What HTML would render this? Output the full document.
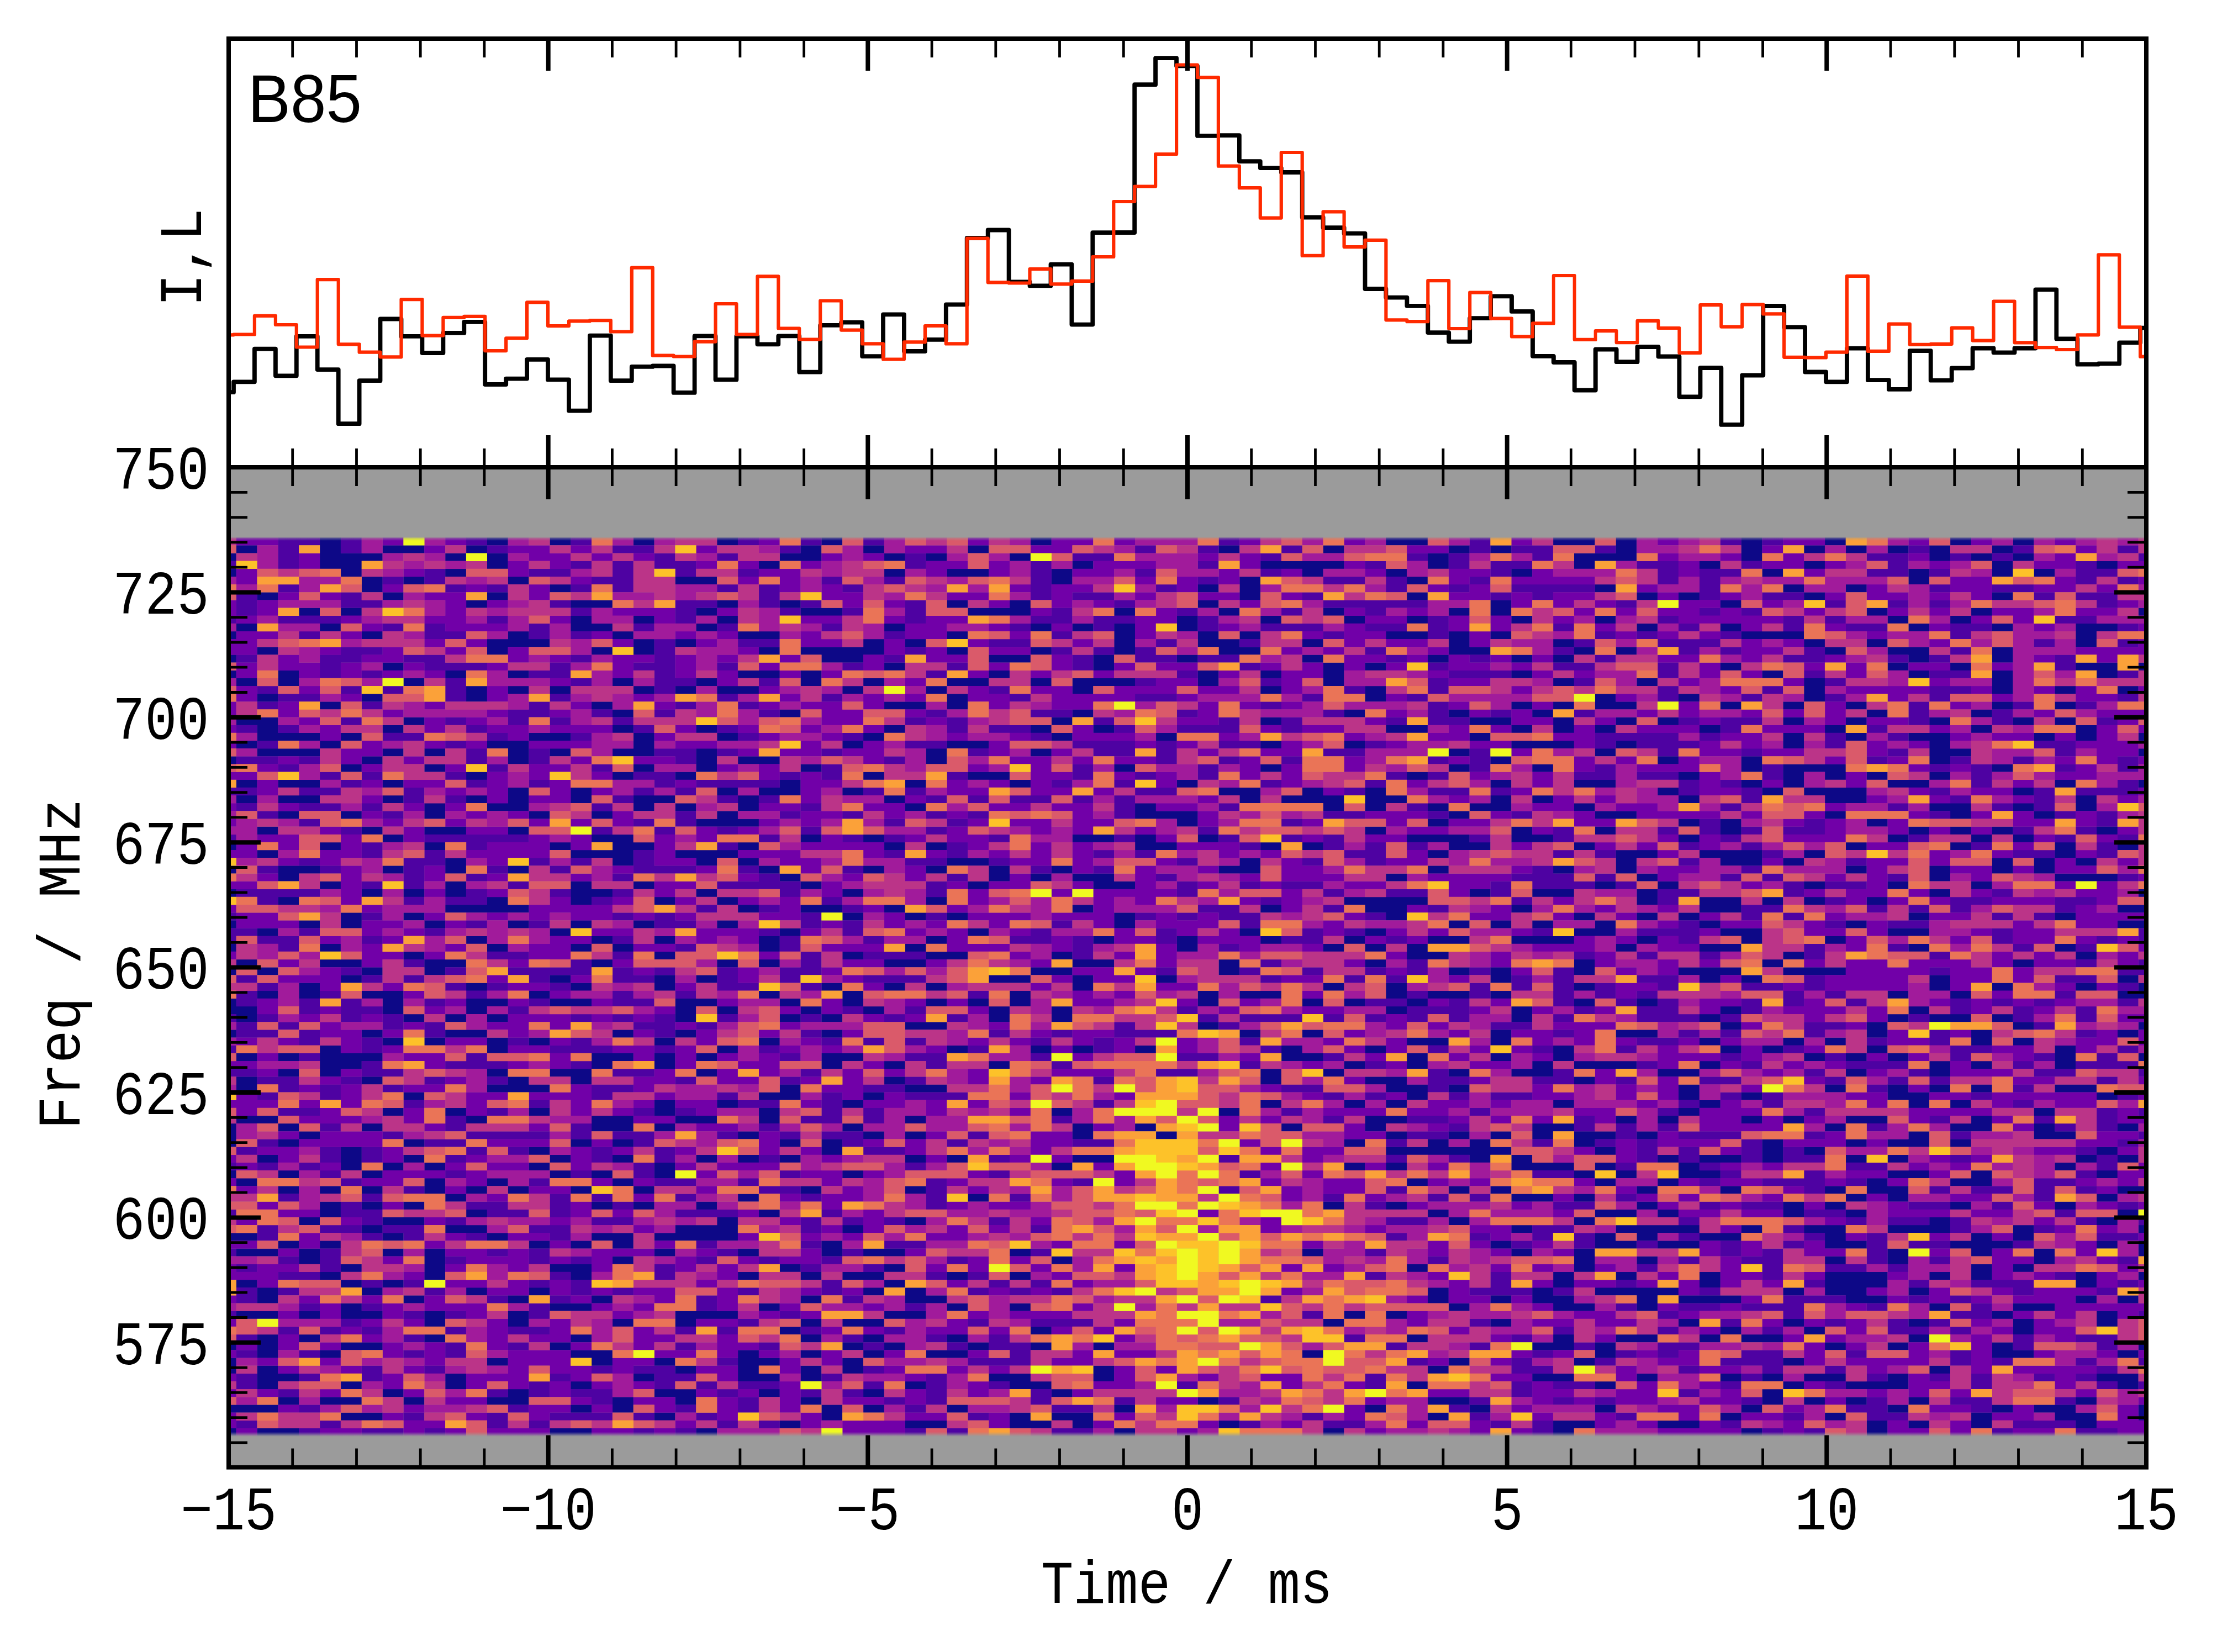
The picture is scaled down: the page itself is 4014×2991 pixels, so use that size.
<!DOCTYPE html><html><head><meta charset="utf-8"><style>html,body{margin:0;padding:0;background:#fff;overflow:hidden}svg{display:block}</style></head><body><svg width="4014" height="2991" viewBox="0 0 4014 2991"><rect width="4014" height="2991" fill="#fff"/><defs><clipPath id="cb"><rect x="414" y="846" width="3472" height="1810.6"/></clipPath><clipPath id="ct"><rect x="414" y="70" width="3472" height="776"/></clipPath></defs><g clip-path="url(#cb)"><rect x="414" y="846" width="3472" height="1811" fill="#9b9b9b"/><path fill="none" stroke="#0d0887" stroke-width="14.45" d="M579.0 980.38h38.1M881.8 980.38h38.1M995.3 980.38h38.1M1146.7 980.38h38.1M1298.1 980.38h38.1M1487.3 980.38h38.1M1865.8 980.38h38.1M2509.1 980.38h38.1M2547.0 980.38h38.1M2811.9 980.38h38.1M2849.8 980.38h38.1M2925.4 980.38h38.1M3152.5 980.38h38.1M3303.9 980.38h38.1M3531.0 980.38h38.1M3644.5 980.38h38.1M427.6 994.53h38.1M579.0 994.53h38.1M692.5 994.53h38.1M730.4 994.53h38.1M843.9 994.53h38.1M1449.4 994.53h38.1M1563.0 994.53h38.1M1752.2 994.53h38.1M2206.4 994.53h38.1M2395.6 994.53h38.1M2622.7 994.53h38.1M2698.4 994.53h38.1M2925.4 994.53h38.1M3152.5 994.53h38.1M3266.1 994.53h38.1M3341.7 994.53h38.1M3417.4 994.53h38.1M3493.1 994.53h38.1M3606.7 994.53h38.1M389.8 1008.67h38.1M579.0 1008.67h38.1M616.8 1008.67h38.1M654.7 1008.67h38.1M806.1 1008.67h38.1M881.8 1008.67h38.1M1411.6 1008.67h38.1M1449.4 1008.67h38.1M1600.8 1008.67h38.1M1676.5 1008.67h38.1M1827.9 1008.67h38.1M2584.8 1008.67h38.1M2849.8 1008.67h38.1M2887.6 1008.67h38.1M2925.4 1008.67h38.1M3152.5 1008.67h38.1M3493.1 1008.67h38.1M3568.8 1008.67h38.1M3644.5 1008.67h38.1M579.0 1022.82h38.1M616.8 1022.82h38.1M881.8 1022.82h38.1M1373.8 1022.82h38.1M1941.4 1022.82h38.1M2282.1 1022.82h38.1M2319.9 1022.82h38.1M2357.8 1022.82h38.1M2395.6 1022.82h38.1M2584.8 1022.82h38.1M2849.8 1022.82h38.1M3076.8 1022.82h38.1M3266.1 1022.82h38.1M3606.7 1022.82h38.1M3795.9 1022.82h38.1M389.8 1036.96h38.1M616.8 1036.96h38.1M806.1 1036.96h38.1M1600.8 1036.96h38.1M1714.4 1036.96h38.1M1752.2 1036.96h38.1M1903.6 1036.96h38.1M2357.8 1036.96h38.1M2509.1 1036.96h38.1M2736.2 1036.96h38.1M3190.4 1036.96h38.1M3455.3 1036.96h38.1M3606.7 1036.96h38.1M3682.4 1036.96h38.1M654.7 1051.11h38.1M730.4 1051.11h38.1M919.6 1051.11h38.1M1222.4 1051.11h38.1M1260.2 1051.11h38.1M1903.6 1051.11h38.1M2244.2 1051.11h38.1M2547.0 1051.11h38.1M3455.3 1051.11h38.1M654.7 1065.25h38.1M995.3 1065.25h38.1M2168.5 1065.25h38.1M2244.2 1065.25h38.1M2887.6 1065.25h38.1M3228.2 1065.25h38.1M3341.7 1065.25h38.1M465.5 1079.40h38.1M692.5 1079.40h38.1M881.8 1079.40h38.1M2244.2 1079.40h38.1M2547.0 1079.40h38.1M2963.3 1079.40h38.1M3039.0 1079.40h38.1M3266.1 1079.40h38.1M3606.7 1079.40h38.1M843.9 1093.54h38.1M1033.1 1093.54h38.1M1071.0 1093.54h38.1M1298.1 1093.54h38.1M1411.6 1093.54h38.1M1714.4 1093.54h38.1M1827.9 1093.54h38.1M2168.5 1093.54h38.1M2698.4 1093.54h38.1M3114.7 1093.54h38.1M541.1 1107.69h38.1M616.8 1107.69h38.1M1260.2 1107.69h38.1M1449.4 1107.69h38.1M1487.3 1107.69h38.1M1752.2 1107.69h38.1M1790.1 1107.69h38.1M1827.9 1107.69h38.1M2017.1 1107.69h38.1M2206.4 1107.69h38.1M2395.6 1107.69h38.1M2622.7 1107.69h38.1M2698.4 1107.69h38.1M3379.6 1107.69h38.1M3568.8 1107.69h38.1M3871.6 1107.69h38.1M1033.1 1121.83h38.1M1146.7 1121.83h38.1M1298.1 1121.83h38.1M2130.7 1121.83h38.1M2282.1 1121.83h38.1M2433.4 1121.83h38.1M2547.0 1121.83h38.1M2736.2 1121.83h38.1M2887.6 1121.83h38.1M3417.4 1121.83h38.1M3531.0 1121.83h38.1M427.6 1135.98h38.1M579.0 1135.98h38.1M1033.1 1135.98h38.1M1071.0 1135.98h38.1M1260.2 1135.98h38.1M1600.8 1135.98h38.1M1865.8 1135.98h38.1M1941.4 1135.98h38.1M2017.1 1135.98h38.1M2130.7 1135.98h38.1M2963.3 1135.98h38.1M3114.7 1135.98h38.1M3455.3 1135.98h38.1M3606.7 1135.98h38.1M3758.1 1135.98h38.1M3795.9 1135.98h38.1M389.8 1150.12h38.1M654.7 1150.12h38.1M919.6 1150.12h38.1M1108.8 1150.12h38.1M1335.9 1150.12h38.1M1373.8 1150.12h38.1M1714.4 1150.12h38.1M2017.1 1150.12h38.1M2168.5 1150.12h38.1M2244.2 1150.12h38.1M2509.1 1150.12h38.1M2547.0 1150.12h38.1M2622.7 1150.12h38.1M2698.4 1150.12h38.1M3152.5 1150.12h38.1M3190.4 1150.12h38.1M3228.2 1150.12h38.1M3758.1 1150.12h38.1M881.8 1164.27h38.1M919.6 1164.27h38.1M957.5 1164.27h38.1M1146.7 1164.27h38.1M1222.4 1164.27h38.1M1563.0 1164.27h38.1M1638.7 1164.27h38.1M2017.1 1164.27h38.1M2168.5 1164.27h38.1M2206.4 1164.27h38.1M2357.8 1164.27h38.1M2622.7 1164.27h38.1M2811.9 1164.27h38.1M3266.1 1164.27h38.1M3379.6 1164.27h38.1M3758.1 1164.27h38.1M465.5 1178.41h38.1M881.8 1178.41h38.1M1071.0 1178.41h38.1M1146.7 1178.41h38.1M1373.8 1178.41h38.1M1449.4 1178.41h38.1M1487.3 1178.41h38.1M1525.1 1178.41h38.1M1563.0 1178.41h38.1M1714.4 1178.41h38.1M1865.8 1178.41h38.1M2017.1 1178.41h38.1M2206.4 1178.41h38.1M2244.2 1178.41h38.1M2622.7 1178.41h38.1M2660.5 1178.41h38.1M2849.8 1178.41h38.1M2925.4 1178.41h38.1M3303.9 1178.41h38.1M3417.4 1178.41h38.1M3455.3 1178.41h38.1M3606.7 1178.41h38.1M389.8 1192.56h38.1M1487.3 1192.56h38.1M1525.1 1192.56h38.1M1790.1 1192.56h38.1M1827.9 1192.56h38.1M1979.3 1192.56h38.1M2130.7 1192.56h38.1M2357.8 1192.56h38.1M2584.8 1192.56h38.1M2736.2 1192.56h38.1M2811.9 1192.56h38.1M3455.3 1192.56h38.1M3606.7 1192.56h38.1M692.5 1206.71h38.1M1600.8 1206.71h38.1M1979.3 1206.71h38.1M2395.6 1206.71h38.1M2471.3 1206.71h38.1M3114.7 1206.71h38.1M3417.4 1206.71h38.1M3531.0 1206.71h38.1M3758.1 1206.71h38.1M3795.9 1206.71h38.1M3871.6 1206.71h38.1M389.8 1220.85h38.1M503.3 1220.85h38.1M806.1 1220.85h38.1M919.6 1220.85h38.1M1335.9 1220.85h38.1M1373.8 1220.85h38.1M1449.4 1220.85h38.1M1790.1 1220.85h38.1M2168.5 1220.85h38.1M2282.1 1220.85h38.1M2395.6 1220.85h38.1M2736.2 1220.85h38.1M3190.4 1220.85h38.1M3455.3 1220.85h38.1M3606.7 1220.85h38.1M3795.9 1220.85h38.1M427.6 1235.00h38.1M503.3 1235.00h38.1M730.4 1235.00h38.1M1108.8 1235.00h38.1M1260.2 1235.00h38.1M1449.4 1235.00h38.1M1563.0 1235.00h38.1M1714.4 1235.00h38.1M1752.2 1235.00h38.1M1865.8 1235.00h38.1M1941.4 1235.00h38.1M1979.3 1235.00h38.1M2017.1 1235.00h38.1M2168.5 1235.00h38.1M2395.6 1235.00h38.1M2811.9 1235.00h38.1M2963.3 1235.00h38.1M3266.1 1235.00h38.1M3606.7 1235.00h38.1M843.9 1249.14h38.1M919.6 1249.14h38.1M995.3 1249.14h38.1M1146.7 1249.14h38.1M1222.4 1249.14h38.1M1298.1 1249.14h38.1M1335.9 1249.14h38.1M1525.1 1249.14h38.1M1676.5 1249.14h38.1M1941.4 1249.14h38.1M2282.1 1249.14h38.1M2471.3 1249.14h38.1M3266.1 1249.14h38.1M3606.7 1249.14h38.1M3720.2 1249.14h38.1M3833.7 1249.14h38.1M465.5 1263.29h38.1M654.7 1263.29h38.1M843.9 1263.29h38.1M1714.4 1263.29h38.1M2471.3 1263.29h38.1M2887.6 1263.29h38.1M3039.0 1263.29h38.1M3266.1 1263.29h38.1M579.0 1277.43h38.1M1071.0 1277.43h38.1M1600.8 1277.43h38.1M1638.7 1277.43h38.1M1714.4 1277.43h38.1M2736.2 1277.43h38.1M2811.9 1277.43h38.1M2887.6 1277.43h38.1M2925.4 1277.43h38.1M3114.7 1277.43h38.1M3228.2 1277.43h38.1M3341.7 1277.43h38.1M3606.7 1277.43h38.1M3720.2 1277.43h38.1M1108.8 1291.58h38.1M1411.6 1291.58h38.1M1941.4 1291.58h38.1M2433.4 1291.58h38.1M2622.7 1291.58h38.1M2774.1 1291.58h38.1M3379.6 1291.58h38.1M3568.8 1291.58h38.1M427.6 1305.72h38.1M465.5 1305.72h38.1M730.4 1305.72h38.1M1903.6 1305.72h38.1M2282.1 1305.72h38.1M2660.5 1305.72h38.1M2698.4 1305.72h38.1M2811.9 1305.72h38.1M2925.4 1305.72h38.1M3001.1 1305.72h38.1M3228.2 1305.72h38.1M3341.7 1305.72h38.1M3493.1 1305.72h38.1M3644.5 1305.72h38.1M3720.2 1305.72h38.1M465.5 1319.87h38.1M692.5 1319.87h38.1M1108.8 1319.87h38.1M1260.2 1319.87h38.1M1600.8 1319.87h38.1M1865.8 1319.87h38.1M1979.3 1319.87h38.1M2509.1 1319.87h38.1M2547.0 1319.87h38.1M2736.2 1319.87h38.1M2811.9 1319.87h38.1M2887.6 1319.87h38.1M3076.8 1319.87h38.1M3303.9 1319.87h38.1M3568.8 1319.87h38.1M3758.1 1319.87h38.1M465.5 1334.01h38.1M503.3 1334.01h38.1M541.1 1334.01h38.1M616.8 1334.01h38.1M957.5 1334.01h38.1M995.3 1334.01h38.1M1146.7 1334.01h38.1M1298.1 1334.01h38.1M1563.0 1334.01h38.1M1903.6 1334.01h38.1M2092.8 1334.01h38.1M2660.5 1334.01h38.1M3228.2 1334.01h38.1M3341.7 1334.01h38.1M3455.3 1334.01h38.1M3493.1 1334.01h38.1M3682.4 1334.01h38.1M3758.1 1334.01h38.1M3871.6 1334.01h38.1M427.6 1348.16h38.1M579.0 1348.16h38.1M881.8 1348.16h38.1M919.6 1348.16h38.1M1146.7 1348.16h38.1M1525.1 1348.16h38.1M1714.4 1348.16h38.1M1752.2 1348.16h38.1M2282.1 1348.16h38.1M2433.4 1348.16h38.1M2736.2 1348.16h38.1M2774.1 1348.16h38.1M2811.9 1348.16h38.1M2925.4 1348.16h38.1M3228.2 1348.16h38.1M3493.1 1348.16h38.1M465.5 1362.30h38.1M503.3 1362.30h38.1M541.1 1362.30h38.1M692.5 1362.30h38.1M768.2 1362.30h38.1M919.6 1362.30h38.1M995.3 1362.30h38.1M1108.8 1362.30h38.1M1146.7 1362.30h38.1M1260.2 1362.30h38.1M1676.5 1362.30h38.1M1865.8 1362.30h38.1M2622.7 1362.30h38.1M2887.6 1362.30h38.1M3493.1 1362.30h38.1M3531.0 1362.30h38.1M3871.6 1362.30h38.1M389.8 1376.45h38.1M654.7 1376.45h38.1M919.6 1376.45h38.1M1260.2 1376.45h38.1M1335.9 1376.45h38.1M1373.8 1376.45h38.1M1676.5 1376.45h38.1M2698.4 1376.45h38.1M3001.1 1376.45h38.1M3152.5 1376.45h38.1M3493.1 1376.45h38.1M616.8 1390.59h38.1M768.2 1390.59h38.1M1146.7 1390.59h38.1M1260.2 1390.59h38.1M1449.4 1390.59h38.1M2017.1 1390.59h38.1M2282.1 1390.59h38.1M2622.7 1390.59h38.1M2774.1 1390.59h38.1M3152.5 1390.59h38.1M3228.2 1390.59h38.1M3266.1 1390.59h38.1M3303.9 1390.59h38.1M3606.7 1390.59h38.1M843.9 1404.74h38.1M1108.8 1404.74h38.1M1222.4 1404.74h38.1M1563.0 1404.74h38.1M1752.2 1404.74h38.1M1790.1 1404.74h38.1M2547.0 1404.74h38.1M3039.0 1404.74h38.1M3228.2 1404.74h38.1M3303.9 1404.74h38.1M3379.6 1404.74h38.1M3493.1 1404.74h38.1M427.6 1418.89h38.1M503.3 1418.89h38.1M541.1 1418.89h38.1M692.5 1418.89h38.1M1411.6 1418.89h38.1M1638.7 1418.89h38.1M1827.9 1418.89h38.1M2130.7 1418.89h38.1M2698.4 1418.89h38.1M2849.8 1418.89h38.1M2887.6 1418.89h38.1M3152.5 1418.89h38.1M3228.2 1418.89h38.1M3417.4 1418.89h38.1M3455.3 1418.89h38.1M3720.2 1418.89h38.1M3871.6 1418.89h38.1M919.6 1433.03h38.1M1033.1 1433.03h38.1M1298.1 1433.03h38.1M1373.8 1433.03h38.1M1411.6 1433.03h38.1M1525.1 1433.03h38.1M2206.4 1433.03h38.1M2244.2 1433.03h38.1M2357.8 1433.03h38.1M2471.3 1433.03h38.1M3001.1 1433.03h38.1M3190.4 1433.03h38.1M3266.1 1433.03h38.1M3303.9 1433.03h38.1M3341.7 1433.03h38.1M3644.5 1433.03h38.1M427.6 1447.18h38.1M503.3 1447.18h38.1M541.1 1447.18h38.1M692.5 1447.18h38.1M843.9 1447.18h38.1M919.6 1447.18h38.1M1033.1 1447.18h38.1M1146.7 1447.18h38.1M1184.5 1447.18h38.1M1335.9 1447.18h38.1M1600.8 1447.18h38.1M2244.2 1447.18h38.1M2319.9 1447.18h38.1M2357.8 1447.18h38.1M2395.6 1447.18h38.1M2471.3 1447.18h38.1M2509.1 1447.18h38.1M2698.4 1447.18h38.1M2774.1 1447.18h38.1M3039.0 1447.18h38.1M3303.9 1447.18h38.1M3341.7 1447.18h38.1M3758.1 1447.18h38.1M768.2 1461.32h38.1M881.8 1461.32h38.1M919.6 1461.32h38.1M1146.7 1461.32h38.1M1222.4 1461.32h38.1M1335.9 1461.32h38.1M1638.7 1461.32h38.1M2055.0 1461.32h38.1M2395.6 1461.32h38.1M2471.3 1461.32h38.1M2584.8 1461.32h38.1M2660.5 1461.32h38.1M2698.4 1461.32h38.1M2849.8 1461.32h38.1M3493.1 1461.32h38.1M3531.0 1461.32h38.1M3644.5 1461.32h38.1M3758.1 1461.32h38.1M503.3 1475.47h38.1M616.8 1475.47h38.1M768.2 1475.47h38.1M957.5 1475.47h38.1M1071.0 1475.47h38.1M1298.1 1475.47h38.1M2055.0 1475.47h38.1M2092.8 1475.47h38.1M2130.7 1475.47h38.1M2622.7 1475.47h38.1M2887.6 1475.47h38.1M2925.4 1475.47h38.1M3303.9 1475.47h38.1M3531.0 1475.47h38.1M3682.4 1475.47h38.1M1260.2 1489.61h38.1M1298.1 1489.61h38.1M1335.9 1489.61h38.1M2130.7 1489.61h38.1M2584.8 1489.61h38.1M3039.0 1489.61h38.1M3114.7 1489.61h38.1M3379.6 1489.61h38.1M465.5 1503.76h38.1M654.7 1503.76h38.1M768.2 1503.76h38.1M806.1 1503.76h38.1M919.6 1503.76h38.1M2471.3 1503.76h38.1M2736.2 1503.76h38.1M2887.6 1503.76h38.1M3114.7 1503.76h38.1M3455.3 1503.76h38.1M3531.0 1503.76h38.1M3606.7 1503.76h38.1M3795.9 1503.76h38.1M692.5 1517.90h38.1M1071.0 1517.90h38.1M1108.8 1517.90h38.1M1449.4 1517.90h38.1M1563.0 1517.90h38.1M1941.4 1517.90h38.1M1979.3 1517.90h38.1M2055.0 1517.90h38.1M2168.5 1517.90h38.1M2547.0 1517.90h38.1M2584.8 1517.90h38.1M2622.7 1517.90h38.1M2736.2 1517.90h38.1M2774.1 1517.90h38.1M3039.0 1517.90h38.1M3417.4 1517.90h38.1M3568.8 1517.90h38.1M3644.5 1517.90h38.1M389.8 1532.05h38.1M579.0 1532.05h38.1M768.2 1532.05h38.1M995.3 1532.05h38.1M1108.8 1532.05h38.1M1146.7 1532.05h38.1M1335.9 1532.05h38.1M1600.8 1532.05h38.1M1676.5 1532.05h38.1M2055.0 1532.05h38.1M2092.8 1532.05h38.1M2282.1 1532.05h38.1M2357.8 1532.05h38.1M2622.7 1532.05h38.1M2660.5 1532.05h38.1M2849.8 1532.05h38.1M3341.7 1532.05h38.1M3531.0 1532.05h38.1M3720.2 1532.05h38.1M3833.7 1532.05h38.1M465.5 1546.19h38.1M1033.1 1546.19h38.1M1071.0 1546.19h38.1M1108.8 1546.19h38.1M1222.4 1546.19h38.1M1260.2 1546.19h38.1M1298.1 1546.19h38.1M2584.8 1546.19h38.1M2925.4 1546.19h38.1M2963.3 1546.19h38.1M3076.8 1546.19h38.1M3114.7 1546.19h38.1M3152.5 1546.19h38.1M3266.1 1546.19h38.1M3720.2 1546.19h38.1M806.1 1560.34h38.1M1108.8 1560.34h38.1M1260.2 1560.34h38.1M1335.9 1560.34h38.1M1714.4 1560.34h38.1M1752.2 1560.34h38.1M2244.2 1560.34h38.1M2925.4 1560.34h38.1M3114.7 1560.34h38.1M3152.5 1560.34h38.1M3228.2 1560.34h38.1M3606.7 1560.34h38.1M3682.4 1560.34h38.1M3758.1 1560.34h38.1M389.8 1574.48h38.1M503.3 1574.48h38.1M541.1 1574.48h38.1M692.5 1574.48h38.1M806.1 1574.48h38.1M919.6 1574.48h38.1M1373.8 1574.48h38.1M1563.0 1574.48h38.1M1676.5 1574.48h38.1M1790.1 1574.48h38.1M1903.6 1574.48h38.1M2206.4 1574.48h38.1M2244.2 1574.48h38.1M2584.8 1574.48h38.1M2811.9 1574.48h38.1M2925.4 1574.48h38.1M3341.7 1574.48h38.1M3493.1 1574.48h38.1M3606.7 1574.48h38.1M3682.4 1574.48h38.1M503.3 1588.63h38.1M1411.6 1588.63h38.1M1790.1 1588.63h38.1M1865.8 1588.63h38.1M1941.4 1588.63h38.1M1979.3 1588.63h38.1M2509.1 1588.63h38.1M2963.3 1588.63h38.1M3493.1 1588.63h38.1M3720.2 1588.63h38.1M3758.1 1588.63h38.1M3795.9 1588.63h38.1M579.0 1602.77h38.1M806.1 1602.77h38.1M1033.1 1602.77h38.1M1146.7 1602.77h38.1M1449.4 1602.77h38.1M1752.2 1602.77h38.1M1979.3 1602.77h38.1M2017.1 1602.77h38.1M2887.6 1602.77h38.1M3001.1 1602.77h38.1M3266.1 1602.77h38.1M3417.4 1602.77h38.1M3568.8 1602.77h38.1M389.8 1616.92h38.1M654.7 1616.92h38.1M730.4 1616.92h38.1M806.1 1616.92h38.1M1033.1 1616.92h38.1M1071.0 1616.92h38.1M1260.2 1616.92h38.1M1525.1 1616.92h38.1M2660.5 1616.92h38.1M2774.1 1616.92h38.1M2811.9 1616.92h38.1M2963.3 1616.92h38.1M3493.1 1616.92h38.1M3871.6 1616.92h38.1M503.3 1631.06h38.1M881.8 1631.06h38.1M1033.1 1631.06h38.1M1184.5 1631.06h38.1M1298.1 1631.06h38.1M1676.5 1631.06h38.1M2433.4 1631.06h38.1M2471.3 1631.06h38.1M2509.1 1631.06h38.1M2547.0 1631.06h38.1M2963.3 1631.06h38.1M3076.8 1631.06h38.1M3114.7 1631.06h38.1M3190.4 1631.06h38.1M3266.1 1631.06h38.1M3379.6 1631.06h38.1M806.1 1645.21h38.1M843.9 1645.21h38.1M881.8 1645.21h38.1M919.6 1645.21h38.1M1335.9 1645.21h38.1M1449.4 1645.21h38.1M1487.3 1645.21h38.1M1600.8 1645.21h38.1M1941.4 1645.21h38.1M2282.1 1645.21h38.1M2471.3 1645.21h38.1M2509.1 1645.21h38.1M2736.2 1645.21h38.1M3076.8 1645.21h38.1M3114.7 1645.21h38.1M3833.7 1645.21h38.1M3871.6 1645.21h38.1M616.8 1659.36h38.1M730.4 1659.36h38.1M1525.1 1659.36h38.1M1638.7 1659.36h38.1M1714.4 1659.36h38.1M2017.1 1659.36h38.1M2509.1 1659.36h38.1M2849.8 1659.36h38.1M2963.3 1659.36h38.1M3039.0 1659.36h38.1M3455.3 1659.36h38.1M3720.2 1659.36h38.1M389.8 1673.50h38.1M541.1 1673.50h38.1M616.8 1673.50h38.1M768.2 1673.50h38.1M919.6 1673.50h38.1M1033.1 1673.50h38.1M1146.7 1673.50h38.1M1298.1 1673.50h38.1M2017.1 1673.50h38.1M2622.7 1673.50h38.1M2698.4 1673.50h38.1M2774.1 1673.50h38.1M2887.6 1673.50h38.1M3076.8 1673.50h38.1M3341.7 1673.50h38.1M3833.7 1673.50h38.1M3871.6 1673.50h38.1M465.5 1687.65h38.1M995.3 1687.65h38.1M1411.6 1687.65h38.1M1752.2 1687.65h38.1M2244.2 1687.65h38.1M2471.3 1687.65h38.1M2849.8 1687.65h38.1M2887.6 1687.65h38.1M3114.7 1687.65h38.1M3152.5 1687.65h38.1M3417.4 1687.65h38.1M3455.3 1687.65h38.1M843.9 1701.79h38.1M1071.0 1701.79h38.1M1184.5 1701.79h38.1M1373.8 1701.79h38.1M1676.5 1701.79h38.1M1979.3 1701.79h38.1M2130.7 1701.79h38.1M2282.1 1701.79h38.1M2433.4 1701.79h38.1M2584.8 1701.79h38.1M2622.7 1701.79h38.1M2736.2 1701.79h38.1M2774.1 1701.79h38.1M2811.9 1701.79h38.1M2963.3 1701.79h38.1M3152.5 1701.79h38.1M3303.9 1701.79h38.1M389.8 1715.94h38.1M579.0 1715.94h38.1M881.8 1715.94h38.1M1033.1 1715.94h38.1M1108.8 1715.94h38.1M1373.8 1715.94h38.1M1638.7 1715.94h38.1M2130.7 1715.94h38.1M2395.6 1715.94h38.1M2471.3 1715.94h38.1M2547.0 1715.94h38.1M2925.4 1715.94h38.1M3076.8 1715.94h38.1M3114.7 1715.94h38.1M3455.3 1715.94h38.1M3720.2 1715.94h38.1M730.4 1730.08h38.1M1184.5 1730.08h38.1M1525.1 1730.08h38.1M1676.5 1730.08h38.1M1714.4 1730.08h38.1M1903.6 1730.08h38.1M2547.0 1730.08h38.1M2584.8 1730.08h38.1M3228.2 1730.08h38.1M3758.1 1730.08h38.1M427.6 1744.23h38.1M579.0 1744.23h38.1M616.8 1744.23h38.1M768.2 1744.23h38.1M806.1 1744.23h38.1M1071.0 1744.23h38.1M1298.1 1744.23h38.1M1373.8 1744.23h38.1M1600.8 1744.23h38.1M1638.7 1744.23h38.1M1941.4 1744.23h38.1M1979.3 1744.23h38.1M2206.4 1744.23h38.1M2471.3 1744.23h38.1M2849.8 1744.23h38.1M3190.4 1744.23h38.1M3644.5 1744.23h38.1M389.8 1758.37h38.1M465.5 1758.37h38.1M654.7 1758.37h38.1M768.2 1758.37h38.1M1865.8 1758.37h38.1M1903.6 1758.37h38.1M2206.4 1758.37h38.1M2622.7 1758.37h38.1M2698.4 1758.37h38.1M2849.8 1758.37h38.1M3039.0 1758.37h38.1M3076.8 1758.37h38.1M3114.7 1758.37h38.1M3228.2 1758.37h38.1M3266.1 1758.37h38.1M3303.9 1758.37h38.1M616.8 1772.52h38.1M995.3 1772.52h38.1M1184.5 1772.52h38.1M1260.2 1772.52h38.1M1790.1 1772.52h38.1M1827.9 1772.52h38.1M1941.4 1772.52h38.1M2092.8 1772.52h38.1M2698.4 1772.52h38.1M3076.8 1772.52h38.1M3152.5 1772.52h38.1M3493.1 1772.52h38.1M3833.7 1772.52h38.1M541.1 1786.66h38.1M843.9 1786.66h38.1M1033.1 1786.66h38.1M1184.5 1786.66h38.1M1487.3 1786.66h38.1M1600.8 1786.66h38.1M1676.5 1786.66h38.1M1941.4 1786.66h38.1M2395.6 1786.66h38.1M2509.1 1786.66h38.1M2849.8 1786.66h38.1M3493.1 1786.66h38.1M3606.7 1786.66h38.1M3758.1 1786.66h38.1M3871.6 1786.66h38.1M465.5 1800.81h38.1M541.1 1800.81h38.1M654.7 1800.81h38.1M692.5 1800.81h38.1M957.5 1800.81h38.1M1373.8 1800.81h38.1M1525.1 1800.81h38.1M1827.9 1800.81h38.1M2168.5 1800.81h38.1M2244.2 1800.81h38.1M2282.1 1800.81h38.1M2509.1 1800.81h38.1M2584.8 1800.81h38.1M2622.7 1800.81h38.1M2698.4 1800.81h38.1M3417.4 1800.81h38.1M3531.0 1800.81h38.1M3833.7 1800.81h38.1M3871.6 1800.81h38.1M389.8 1814.95h38.1M692.5 1814.95h38.1M843.9 1814.95h38.1M881.8 1814.95h38.1M995.3 1814.95h38.1M1033.1 1814.95h38.1M1222.4 1814.95h38.1M1260.2 1814.95h38.1M1411.6 1814.95h38.1M1525.1 1814.95h38.1M1676.5 1814.95h38.1M1752.2 1814.95h38.1M1827.9 1814.95h38.1M2168.5 1814.95h38.1M2357.8 1814.95h38.1M2433.4 1814.95h38.1M2547.0 1814.95h38.1M2849.8 1814.95h38.1M2963.3 1814.95h38.1M389.8 1829.10h38.1M427.6 1829.10h38.1M692.5 1829.10h38.1M843.9 1829.10h38.1M1222.4 1829.10h38.1M1298.1 1829.10h38.1M1449.4 1829.10h38.1M1563.0 1829.10h38.1M1790.1 1829.10h38.1M1903.6 1829.10h38.1M2509.1 1829.10h38.1M2736.2 1829.10h38.1M3114.7 1829.10h38.1M3455.3 1829.10h38.1M427.6 1843.24h38.1M730.4 1843.24h38.1M806.1 1843.24h38.1M881.8 1843.24h38.1M1222.4 1843.24h38.1M1411.6 1843.24h38.1M1487.3 1843.24h38.1M1790.1 1843.24h38.1M1903.6 1843.24h38.1M2736.2 1843.24h38.1M3076.8 1843.24h38.1M3417.4 1843.24h38.1M3493.1 1843.24h38.1M3531.0 1843.24h38.1M3606.7 1843.24h38.1M1638.7 1857.39h38.1M1676.5 1857.39h38.1M2168.5 1857.39h38.1M3114.7 1857.39h38.1M3379.6 1857.39h38.1M3644.5 1857.39h38.1M3871.6 1857.39h38.1M389.8 1871.54h38.1M654.7 1871.54h38.1M806.1 1871.54h38.1M843.9 1871.54h38.1M1108.8 1871.54h38.1M1222.4 1871.54h38.1M1487.3 1871.54h38.1M2244.2 1871.54h38.1M2357.8 1871.54h38.1M2698.4 1871.54h38.1M2925.4 1871.54h38.1M2963.3 1871.54h38.1M3379.6 1871.54h38.1M3568.8 1871.54h38.1M3833.7 1871.54h38.1M692.5 1885.68h38.1M768.2 1885.68h38.1M881.8 1885.68h38.1M957.5 1885.68h38.1M1184.5 1885.68h38.1M1373.8 1885.68h38.1M2547.0 1885.68h38.1M2584.8 1885.68h38.1M2698.4 1885.68h38.1M3076.8 1885.68h38.1M3228.2 1885.68h38.1M3303.9 1885.68h38.1M3568.8 1885.68h38.1M3644.5 1885.68h38.1M579.0 1899.83h38.1M881.8 1899.83h38.1M1298.1 1899.83h38.1M1714.4 1899.83h38.1M1865.8 1899.83h38.1M1941.4 1899.83h38.1M2055.0 1899.83h38.1M2319.9 1899.83h38.1M2471.3 1899.83h38.1M2811.9 1899.83h38.1M3114.7 1899.83h38.1M3190.4 1899.83h38.1M3379.6 1899.83h38.1M3720.2 1899.83h38.1M427.6 1913.97h38.1M503.3 1913.97h38.1M579.0 1913.97h38.1M616.8 1913.97h38.1M654.7 1913.97h38.1M1071.0 1913.97h38.1M1108.8 1913.97h38.1M1184.5 1913.97h38.1M1260.2 1913.97h38.1M1487.3 1913.97h38.1M1525.1 1913.97h38.1M2319.9 1913.97h38.1M2357.8 1913.97h38.1M2547.0 1913.97h38.1M2698.4 1913.97h38.1M2811.9 1913.97h38.1M3266.1 1913.97h38.1M3341.7 1913.97h38.1M3417.4 1913.97h38.1M3720.2 1913.97h38.1M3871.6 1913.97h38.1M579.0 1928.12h38.1M616.8 1928.12h38.1M1071.0 1928.12h38.1M1184.5 1928.12h38.1M1487.3 1928.12h38.1M1600.8 1928.12h38.1M1790.1 1928.12h38.1M2433.4 1928.12h38.1M2547.0 1928.12h38.1M2774.1 1928.12h38.1M2849.8 1928.12h38.1M2887.6 1928.12h38.1M2925.4 1928.12h38.1M3076.8 1928.12h38.1M3493.1 1928.12h38.1M3568.8 1928.12h38.1M3720.2 1928.12h38.1M503.3 1942.26h38.1M579.0 1942.26h38.1M881.8 1942.26h38.1M995.3 1942.26h38.1M1033.1 1942.26h38.1M1260.2 1942.26h38.1M2282.1 1942.26h38.1M2395.6 1942.26h38.1M2622.7 1942.26h38.1M2736.2 1942.26h38.1M2774.1 1942.26h38.1M3001.1 1942.26h38.1M3039.0 1942.26h38.1M3341.7 1942.26h38.1M3493.1 1942.26h38.1M427.6 1956.41h38.1M654.7 1956.41h38.1M919.6 1956.41h38.1M1033.1 1956.41h38.1M1600.8 1956.41h38.1M2282.1 1956.41h38.1M2471.3 1956.41h38.1M2509.1 1956.41h38.1M2849.8 1956.41h38.1M427.6 1970.55h38.1M881.8 1970.55h38.1M919.6 1970.55h38.1M957.5 1970.55h38.1M1411.6 1970.55h38.1M1638.7 1970.55h38.1M1676.5 1970.55h38.1M2509.1 1970.55h38.1M2547.0 1970.55h38.1M2622.7 1970.55h38.1M3039.0 1970.55h38.1M3303.9 1970.55h38.1M3417.4 1970.55h38.1M3493.1 1970.55h38.1M3568.8 1970.55h38.1M3720.2 1970.55h38.1M3758.1 1970.55h38.1M730.4 1984.70h38.1M1373.8 1984.70h38.1M1411.6 1984.70h38.1M1563.0 1984.70h38.1M2547.0 1984.70h38.1M3039.0 1984.70h38.1M3152.5 1984.70h38.1M3417.4 1984.70h38.1M3455.3 1984.70h38.1M3795.9 1984.70h38.1M1184.5 1998.84h38.1M1298.1 1998.84h38.1M1525.1 1998.84h38.1M2282.1 1998.84h38.1M2433.4 1998.84h38.1M2509.1 1998.84h38.1M2811.9 1998.84h38.1M3076.8 1998.84h38.1M3455.3 1998.84h38.1M3531.0 1998.84h38.1M692.5 2012.99h38.1M806.1 2012.99h38.1M957.5 2012.99h38.1M1184.5 2012.99h38.1M1373.8 2012.99h38.1M1903.6 2012.99h38.1M2206.4 2012.99h38.1M3039.0 2012.99h38.1M3682.4 2012.99h38.1M427.6 2027.13h38.1M465.5 2027.13h38.1M843.9 2027.13h38.1M1071.0 2027.13h38.1M1108.8 2027.13h38.1M1222.4 2027.13h38.1M1260.2 2027.13h38.1M1373.8 2027.13h38.1M1638.7 2027.13h38.1M2471.3 2027.13h38.1M2509.1 2027.13h38.1M2925.4 2027.13h38.1M3001.1 2027.13h38.1M3152.5 2027.13h38.1M3228.2 2027.13h38.1M3341.7 2027.13h38.1M3379.6 2027.13h38.1M3568.8 2027.13h38.1M389.8 2041.28h38.1M503.3 2041.28h38.1M654.7 2041.28h38.1M1071.0 2041.28h38.1M1108.8 2041.28h38.1M1184.5 2041.28h38.1M1525.1 2041.28h38.1M1941.4 2041.28h38.1M2055.0 2041.28h38.1M2319.9 2041.28h38.1M2471.3 2041.28h38.1M2774.1 2041.28h38.1M2811.9 2041.28h38.1M3303.9 2041.28h38.1M3531.0 2041.28h38.1M3568.8 2041.28h38.1M3682.4 2041.28h38.1M3833.7 2041.28h38.1M389.8 2055.42h38.1M541.1 2055.42h38.1M1335.9 2055.42h38.1M1563.0 2055.42h38.1M1638.7 2055.42h38.1M1941.4 2055.42h38.1M2092.8 2055.42h38.1M2509.1 2055.42h38.1M2622.7 2055.42h38.1M2698.4 2055.42h38.1M2774.1 2055.42h38.1M2849.8 2055.42h38.1M2887.6 2055.42h38.1M2963.3 2055.42h38.1M3455.3 2055.42h38.1M3682.4 2055.42h38.1M3720.2 2055.42h38.1M389.8 2069.57h38.1M503.3 2069.57h38.1M730.4 2069.57h38.1M1033.1 2069.57h38.1M1108.8 2069.57h38.1M1411.6 2069.57h38.1M1487.3 2069.57h38.1M2433.4 2069.57h38.1M2584.8 2069.57h38.1M2660.5 2069.57h38.1M2849.8 2069.57h38.1M3190.4 2069.57h38.1M3341.7 2069.57h38.1M3417.4 2069.57h38.1M3455.3 2069.57h38.1M3531.0 2069.57h38.1M616.8 2083.71h38.1M957.5 2083.71h38.1M1487.3 2083.71h38.1M2509.1 2083.71h38.1M2547.0 2083.71h38.1M2584.8 2083.71h38.1M2622.7 2083.71h38.1M2660.5 2083.71h38.1M2698.4 2083.71h38.1M2887.6 2083.71h38.1M3190.4 2083.71h38.1M3266.1 2083.71h38.1M3795.9 2083.71h38.1M465.5 2097.86h38.1M616.8 2097.86h38.1M730.4 2097.86h38.1M995.3 2097.86h38.1M1108.8 2097.86h38.1M1260.2 2097.86h38.1M1335.9 2097.86h38.1M1411.6 2097.86h38.1M1638.7 2097.86h38.1M1714.4 2097.86h38.1M1941.4 2097.86h38.1M1979.3 2097.86h38.1M2660.5 2097.86h38.1M2736.2 2097.86h38.1M3001.1 2097.86h38.1M3076.8 2097.86h38.1M3114.7 2097.86h38.1M3190.4 2097.86h38.1M3341.7 2097.86h38.1M3417.4 2097.86h38.1M3758.1 2097.86h38.1M3833.7 2097.86h38.1M616.8 2112.01h38.1M692.5 2112.01h38.1M768.2 2112.01h38.1M957.5 2112.01h38.1M1184.5 2112.01h38.1M1903.6 2112.01h38.1M2433.4 2112.01h38.1M2509.1 2112.01h38.1M2736.2 2112.01h38.1M2774.1 2112.01h38.1M2811.9 2112.01h38.1M2887.6 2112.01h38.1M3039.0 2112.01h38.1M3720.2 2112.01h38.1M389.8 2126.15h38.1M503.3 2126.15h38.1M654.7 2126.15h38.1M995.3 2126.15h38.1M1071.0 2126.15h38.1M1184.5 2126.15h38.1M1525.1 2126.15h38.1M2849.8 2126.15h38.1M2925.4 2126.15h38.1M3039.0 2126.15h38.1M3076.8 2126.15h38.1M3417.4 2126.15h38.1M3455.3 2126.15h38.1M3568.8 2126.15h38.1M3795.9 2126.15h38.1M427.6 2140.30h38.1M768.2 2140.30h38.1M881.8 2140.30h38.1M1108.8 2140.30h38.1M2547.0 2140.30h38.1M2887.6 2140.30h38.1M3001.1 2140.30h38.1M3379.6 2140.30h38.1M3531.0 2140.30h38.1M3568.8 2140.30h38.1M503.3 2154.44h38.1M579.0 2154.44h38.1M654.7 2154.44h38.1M768.2 2154.44h38.1M843.9 2154.44h38.1M919.6 2154.44h38.1M1033.1 2154.44h38.1M1146.7 2154.44h38.1M1449.4 2154.44h38.1M1638.7 2154.44h38.1M2622.7 2154.44h38.1M2698.4 2154.44h38.1M2963.3 2154.44h38.1M3114.7 2154.44h38.1M3303.9 2154.44h38.1M3379.6 2154.44h38.1M3417.4 2154.44h38.1M3833.7 2154.44h38.1M3871.6 2154.44h38.1M806.1 2168.59h38.1M1335.9 2168.59h38.1M1752.2 2168.59h38.1M2736.2 2168.59h38.1M2774.1 2168.59h38.1M2849.8 2168.59h38.1M3341.7 2168.59h38.1M3417.4 2168.59h38.1M3795.9 2168.59h38.1M579.0 2182.73h38.1M654.7 2182.73h38.1M730.4 2182.73h38.1M1071.0 2182.73h38.1M1146.7 2182.73h38.1M1260.2 2182.73h38.1M2395.6 2182.73h38.1M2509.1 2182.73h38.1M2963.3 2182.73h38.1M3228.2 2182.73h38.1M3303.9 2182.73h38.1M3531.0 2182.73h38.1M3720.2 2182.73h38.1M579.0 2196.88h38.1M843.9 2196.88h38.1M1373.8 2196.88h38.1M2584.8 2196.88h38.1M2887.6 2196.88h38.1M2925.4 2196.88h38.1M3001.1 2196.88h38.1M3228.2 2196.88h38.1M3341.7 2196.88h38.1M3833.7 2196.88h38.1M541.1 2211.02h38.1M692.5 2211.02h38.1M730.4 2211.02h38.1M1298.1 2211.02h38.1M1638.7 2211.02h38.1M2622.7 2211.02h38.1M2849.8 2211.02h38.1M3493.1 2211.02h38.1M3795.9 2211.02h38.1M654.7 2225.17h38.1M806.1 2225.17h38.1M843.9 2225.17h38.1M1222.4 2225.17h38.1M1260.2 2225.17h38.1M1298.1 2225.17h38.1M1525.1 2225.17h38.1M2736.2 2225.17h38.1M2925.4 2225.17h38.1M2963.3 2225.17h38.1M3001.1 2225.17h38.1M3039.0 2225.17h38.1M3152.5 2225.17h38.1M3266.1 2225.17h38.1M3303.9 2225.17h38.1M3417.4 2225.17h38.1M3455.3 2225.17h38.1M3493.1 2225.17h38.1M3644.5 2225.17h38.1M3871.6 2225.17h38.1M389.8 2239.31h38.1M427.6 2239.31h38.1M692.5 2239.31h38.1M881.8 2239.31h38.1M1071.0 2239.31h38.1M1108.8 2239.31h38.1M1184.5 2239.31h38.1M1222.4 2239.31h38.1M1260.2 2239.31h38.1M1298.1 2239.31h38.1M2887.6 2239.31h38.1M2963.3 2239.31h38.1M3076.8 2239.31h38.1M3114.7 2239.31h38.1M3303.9 2239.31h38.1M3568.8 2239.31h38.1M3644.5 2239.31h38.1M503.3 2253.46h38.1M579.0 2253.46h38.1M957.5 2253.46h38.1M1033.1 2253.46h38.1M1108.8 2253.46h38.1M1487.3 2253.46h38.1M2698.4 2253.46h38.1M2887.6 2253.46h38.1M2925.4 2253.46h38.1M3001.1 2253.46h38.1M3039.0 2253.46h38.1M3303.9 2253.46h38.1M3341.7 2253.46h38.1M3531.0 2253.46h38.1M3568.8 2253.46h38.1M3606.7 2253.46h38.1M3795.9 2253.46h38.1M3871.6 2253.46h38.1M427.6 2267.60h38.1M465.5 2267.60h38.1M541.1 2267.60h38.1M692.5 2267.60h38.1M768.2 2267.60h38.1M1184.5 2267.60h38.1M1335.9 2267.60h38.1M1487.3 2267.60h38.1M1563.0 2267.60h38.1M1600.8 2267.60h38.1M1827.9 2267.60h38.1M2357.8 2267.60h38.1M2736.2 2267.60h38.1M2849.8 2267.60h38.1M3417.4 2267.60h38.1M3568.8 2267.60h38.1M3682.4 2267.60h38.1M3871.6 2267.60h38.1M541.1 2281.75h38.1M768.2 2281.75h38.1M1108.8 2281.75h38.1M1903.6 2281.75h38.1M2849.8 2281.75h38.1M2963.3 2281.75h38.1M3303.9 2281.75h38.1M3417.4 2281.75h38.1M3682.4 2281.75h38.1M616.8 2295.89h38.1M768.2 2295.89h38.1M995.3 2295.89h38.1M1033.1 2295.89h38.1M1411.6 2295.89h38.1M1600.8 2295.89h38.1M2547.0 2295.89h38.1M2849.8 2295.89h38.1M3568.8 2295.89h38.1M3644.5 2295.89h38.1M579.0 2310.04h38.1M768.2 2310.04h38.1M1033.1 2310.04h38.1M1335.9 2310.04h38.1M1449.4 2310.04h38.1M1525.1 2310.04h38.1M1563.0 2310.04h38.1M1714.4 2310.04h38.1M1827.9 2310.04h38.1M2811.9 2310.04h38.1M2925.4 2310.04h38.1M3076.8 2310.04h38.1M3303.9 2310.04h38.1M3341.7 2310.04h38.1M3379.6 2310.04h38.1M3493.1 2310.04h38.1M3568.8 2310.04h38.1M3758.1 2310.04h38.1M3871.6 2310.04h38.1M427.6 2324.19h38.1M616.8 2324.19h38.1M692.5 2324.19h38.1M1600.8 2324.19h38.1M2811.9 2324.19h38.1M3076.8 2324.19h38.1M3303.9 2324.19h38.1M3341.7 2324.19h38.1M3379.6 2324.19h38.1M3758.1 2324.19h38.1M465.5 2338.33h38.1M654.7 2338.33h38.1M843.9 2338.33h38.1M957.5 2338.33h38.1M1563.0 2338.33h38.1M1638.7 2338.33h38.1M2584.8 2338.33h38.1M2774.1 2338.33h38.1M2887.6 2338.33h38.1M2925.4 2338.33h38.1M2963.3 2338.33h38.1M3001.1 2338.33h38.1M3228.2 2338.33h38.1M3303.9 2338.33h38.1M3341.7 2338.33h38.1M3455.3 2338.33h38.1M465.5 2352.48h38.1M730.4 2352.48h38.1M919.6 2352.48h38.1M1071.0 2352.48h38.1M1449.4 2352.48h38.1M1638.7 2352.48h38.1M1676.5 2352.48h38.1M2584.8 2352.48h38.1M2698.4 2352.48h38.1M2774.1 2352.48h38.1M2811.9 2352.48h38.1M2963.3 2352.48h38.1M3039.0 2352.48h38.1M3076.8 2352.48h38.1M3114.7 2352.48h38.1M3341.7 2352.48h38.1M3379.6 2352.48h38.1M3758.1 2352.48h38.1M3833.7 2352.48h38.1M616.8 2366.62h38.1M995.3 2366.62h38.1M1033.1 2366.62h38.1M1373.8 2366.62h38.1M1714.4 2366.62h38.1M1827.9 2366.62h38.1M2622.7 2366.62h38.1M2811.9 2366.62h38.1M2849.8 2366.62h38.1M2963.3 2366.62h38.1M3493.1 2366.62h38.1M3644.5 2366.62h38.1M3682.4 2366.62h38.1M427.6 2380.77h38.1M465.5 2380.77h38.1M541.1 2380.77h38.1M616.8 2380.77h38.1M654.7 2380.77h38.1M768.2 2380.77h38.1M919.6 2380.77h38.1M1222.4 2380.77h38.1M1260.2 2380.77h38.1M1298.1 2380.77h38.1M1600.8 2380.77h38.1M1638.7 2380.77h38.1M2433.4 2380.77h38.1M2509.1 2380.77h38.1M3606.7 2380.77h38.1M3795.9 2380.77h38.1M768.2 2394.91h38.1M919.6 2394.91h38.1M1108.8 2394.91h38.1M1222.4 2394.91h38.1M1449.4 2394.91h38.1M1525.1 2394.91h38.1M1563.0 2394.91h38.1M2395.6 2394.91h38.1M2698.4 2394.91h38.1M3039.0 2394.91h38.1M3228.2 2394.91h38.1M3455.3 2394.91h38.1M3644.5 2394.91h38.1M3795.9 2394.91h38.1M1411.6 2409.06h38.1M1865.8 2409.06h38.1M3114.7 2409.06h38.1M3266.1 2409.06h38.1M3644.5 2409.06h38.1M465.5 2423.20h38.1M541.1 2423.20h38.1M768.2 2423.20h38.1M1033.1 2423.20h38.1M1449.4 2423.20h38.1M1563.0 2423.20h38.1M1714.4 2423.20h38.1M2547.0 2423.20h38.1M2811.9 2423.20h38.1M2925.4 2423.20h38.1M2963.3 2423.20h38.1M3076.8 2423.20h38.1M3152.5 2423.20h38.1M3190.4 2423.20h38.1M3455.3 2423.20h38.1M389.8 2437.35h38.1M465.5 2437.35h38.1M616.8 2437.35h38.1M654.7 2437.35h38.1M995.3 2437.35h38.1M1525.1 2437.35h38.1M1600.8 2437.35h38.1M1752.2 2437.35h38.1M1865.8 2437.35h38.1M1979.3 2437.35h38.1M2774.1 2437.35h38.1M2811.9 2437.35h38.1M2887.6 2437.35h38.1M3303.9 2437.35h38.1M3417.4 2437.35h38.1M3606.7 2437.35h38.1M3871.6 2437.35h38.1M465.5 2451.49h38.1M579.0 2451.49h38.1M1033.1 2451.49h38.1M1071.0 2451.49h38.1M1335.9 2451.49h38.1M1449.4 2451.49h38.1M1563.0 2451.49h38.1M1676.5 2451.49h38.1M1714.4 2451.49h38.1M2357.8 2451.49h38.1M2887.6 2451.49h38.1M3606.7 2451.49h38.1M3644.5 2451.49h38.1M3833.7 2451.49h38.1M389.8 2465.64h38.1M881.8 2465.64h38.1M1071.0 2465.64h38.1M1184.5 2465.64h38.1M1335.9 2465.64h38.1M1373.8 2465.64h38.1M1525.1 2465.64h38.1M2622.7 2465.64h38.1M2849.8 2465.64h38.1M3228.2 2465.64h38.1M389.8 2479.78h38.1M465.5 2479.78h38.1M1222.4 2479.78h38.1M1335.9 2479.78h38.1M1449.4 2479.78h38.1M1525.1 2479.78h38.1M1979.3 2479.78h38.1M2584.8 2479.78h38.1M3493.1 2479.78h38.1M465.5 2493.93h38.1M503.3 2493.93h38.1M806.1 2493.93h38.1M1146.7 2493.93h38.1M1335.9 2493.93h38.1M1373.8 2493.93h38.1M1449.4 2493.93h38.1M1790.1 2493.93h38.1M1827.9 2493.93h38.1M1979.3 2493.93h38.1M2774.1 2493.93h38.1M2811.9 2493.93h38.1M2963.3 2493.93h38.1M3114.7 2493.93h38.1M3190.4 2493.93h38.1M3266.1 2493.93h38.1M3303.9 2493.93h38.1M3417.4 2493.93h38.1M3795.9 2493.93h38.1M3833.7 2493.93h38.1M465.5 2508.07h38.1M616.8 2508.07h38.1M806.1 2508.07h38.1M1033.1 2508.07h38.1M1638.7 2508.07h38.1M1827.9 2508.07h38.1M1865.8 2508.07h38.1M2547.0 2508.07h38.1M2887.6 2508.07h38.1M3228.2 2508.07h38.1M3341.7 2508.07h38.1M3379.6 2508.07h38.1M3417.4 2508.07h38.1M3833.7 2508.07h38.1M692.5 2522.22h38.1M919.6 2522.22h38.1M1184.5 2522.22h38.1M1222.4 2522.22h38.1M1373.8 2522.22h38.1M1563.0 2522.22h38.1M1903.6 2522.22h38.1M3190.4 2522.22h38.1M503.3 2536.36h38.1M579.0 2536.36h38.1M616.8 2536.36h38.1M730.4 2536.36h38.1M881.8 2536.36h38.1M919.6 2536.36h38.1M1108.8 2536.36h38.1M1222.4 2536.36h38.1M1449.4 2536.36h38.1M2168.5 2536.36h38.1M2584.8 2536.36h38.1M2622.7 2536.36h38.1M3190.4 2536.36h38.1M3266.1 2536.36h38.1M3341.7 2536.36h38.1M3455.3 2536.36h38.1M3758.1 2536.36h38.1M389.8 2550.51h38.1M427.6 2550.51h38.1M465.5 2550.51h38.1M1033.1 2550.51h38.1M1108.8 2550.51h38.1M1487.3 2550.51h38.1M1563.0 2550.51h38.1M1714.4 2550.51h38.1M2017.1 2550.51h38.1M2471.3 2550.51h38.1M2660.5 2550.51h38.1M2887.6 2550.51h38.1M3152.5 2550.51h38.1M3417.4 2550.51h38.1M3606.7 2550.51h38.1M3682.4 2550.51h38.1M3720.2 2550.51h38.1M3871.6 2550.51h38.1M616.8 2564.66h38.1M654.7 2564.66h38.1M1184.5 2564.66h38.1M1487.3 2564.66h38.1M1827.9 2564.66h38.1M1903.6 2564.66h38.1M1941.4 2564.66h38.1M2584.8 2564.66h38.1M3114.7 2564.66h38.1M3303.9 2564.66h38.1M3568.8 2564.66h38.1M3720.2 2564.66h38.1M3758.1 2564.66h38.1M3871.6 2564.66h38.1M1411.6 2578.80h38.1M1638.7 2578.80h38.1M1676.5 2578.80h38.1M1827.9 2578.80h38.1M1865.8 2578.80h38.1M1941.4 2578.80h38.1M2206.4 2578.80h38.1M2811.9 2578.80h38.1M2849.8 2578.80h38.1M3001.1 2578.80h38.1M3039.0 2578.80h38.1M3379.6 2578.80h38.1M3455.3 2578.80h38.1M3568.8 2578.80h38.1M3758.1 2578.80h38.1M389.8 2592.95h38.1M465.5 2592.95h38.1M503.3 2592.95h38.1M995.3 2592.95h38.1M1033.1 2592.95h38.1M1260.2 2592.95h38.1M2017.1 2592.95h38.1M2395.6 2592.95h38.1M2811.9 2592.95h38.1M3152.5 2592.95h38.1M3379.6 2592.95h38.1"/><path fill="none" stroke="#4e02a2" stroke-width="14.45" d="M503.3 980.38h38.1M541.1 980.38h38.1M616.8 980.38h38.1M843.9 980.38h38.1M1033.1 980.38h38.1M1335.9 980.38h38.1M1449.4 980.38h38.1M1563.0 980.38h38.1M2206.4 980.38h38.1M2660.5 980.38h38.1M3114.7 980.38h38.1M3190.4 980.38h38.1M503.3 994.53h38.1M616.8 994.53h38.1M881.8 994.53h38.1M1108.8 994.53h38.1M1146.7 994.53h38.1M1411.6 994.53h38.1M2055.0 994.53h38.1M2168.5 994.53h38.1M2319.9 994.53h38.1M2660.5 994.53h38.1M2736.2 994.53h38.1M2774.1 994.53h38.1M2887.6 994.53h38.1M3455.3 994.53h38.1M3644.5 994.53h38.1M3833.7 994.53h38.1M503.3 1008.67h38.1M1184.5 1008.67h38.1M1298.1 1008.67h38.1M1638.7 1008.67h38.1M1941.4 1008.67h38.1M1979.3 1008.67h38.1M2282.1 1008.67h38.1M2547.0 1008.67h38.1M2622.7 1008.67h38.1M2774.1 1008.67h38.1M3379.6 1008.67h38.1M3417.4 1008.67h38.1M3531.0 1008.67h38.1M3606.7 1008.67h38.1M3871.6 1008.67h38.1M389.8 1022.82h38.1M503.3 1022.82h38.1M1033.1 1022.82h38.1M1108.8 1022.82h38.1M1184.5 1022.82h38.1M1222.4 1022.82h38.1M1638.7 1022.82h38.1M1865.8 1022.82h38.1M2168.5 1022.82h38.1M2471.3 1022.82h38.1M2622.7 1022.82h38.1M2698.4 1022.82h38.1M2736.2 1022.82h38.1M2963.3 1022.82h38.1M3001.1 1022.82h38.1M3152.5 1022.82h38.1M3417.4 1022.82h38.1M3758.1 1022.82h38.1M768.2 1036.96h38.1M957.5 1036.96h38.1M995.3 1036.96h38.1M1108.8 1036.96h38.1M1222.4 1036.96h38.1M1335.9 1036.96h38.1M1865.8 1036.96h38.1M2055.0 1036.96h38.1M2282.1 1036.96h38.1M2698.4 1036.96h38.1M3001.1 1036.96h38.1M3076.8 1036.96h38.1M3114.7 1036.96h38.1M3379.6 1036.96h38.1M3417.4 1036.96h38.1M3493.1 1036.96h38.1M3758.1 1036.96h38.1M3795.9 1036.96h38.1M692.5 1051.11h38.1M768.2 1051.11h38.1M1071.0 1051.11h38.1M1108.8 1051.11h38.1M1487.3 1051.11h38.1M1600.8 1051.11h38.1M1865.8 1051.11h38.1M2168.5 1051.11h38.1M2395.6 1051.11h38.1M2433.4 1051.11h38.1M2509.1 1051.11h38.1M2660.5 1051.11h38.1M3001.1 1051.11h38.1M3076.8 1051.11h38.1M3758.1 1051.11h38.1M3833.7 1051.11h38.1M503.3 1065.25h38.1M806.1 1065.25h38.1M881.8 1065.25h38.1M1033.1 1065.25h38.1M1108.8 1065.25h38.1M1298.1 1065.25h38.1M1373.8 1065.25h38.1M1525.1 1065.25h38.1M1865.8 1065.25h38.1M2092.8 1065.25h38.1M2509.1 1065.25h38.1M2622.7 1065.25h38.1M2736.2 1065.25h38.1M2774.1 1065.25h38.1M2811.9 1065.25h38.1M2849.8 1065.25h38.1M3076.8 1065.25h38.1M3493.1 1065.25h38.1M3606.7 1065.25h38.1M3644.5 1065.25h38.1M427.6 1079.40h38.1M616.8 1079.40h38.1M1373.8 1079.40h38.1M1865.8 1079.40h38.1M1941.4 1079.40h38.1M1979.3 1079.40h38.1M2357.8 1079.40h38.1M2698.4 1079.40h38.1M2774.1 1079.40h38.1M3076.8 1079.40h38.1M3190.4 1079.40h38.1M3228.2 1079.40h38.1M3682.4 1079.40h38.1M3758.1 1079.40h38.1M3795.9 1079.40h38.1M427.6 1093.54h38.1M616.8 1093.54h38.1M654.7 1093.54h38.1M995.3 1093.54h38.1M1222.4 1093.54h38.1M1260.2 1093.54h38.1M1373.8 1093.54h38.1M1449.4 1093.54h38.1M1638.7 1093.54h38.1M2017.1 1093.54h38.1M2395.6 1093.54h38.1M2433.4 1093.54h38.1M2471.3 1093.54h38.1M2509.1 1093.54h38.1M2547.0 1093.54h38.1M2925.4 1093.54h38.1M3303.9 1093.54h38.1M3417.4 1093.54h38.1M3493.1 1093.54h38.1M3795.9 1093.54h38.1M427.6 1107.69h38.1M1033.1 1107.69h38.1M1222.4 1107.69h38.1M1411.6 1107.69h38.1M1525.1 1107.69h38.1M1638.7 1107.69h38.1M1903.6 1107.69h38.1M2130.7 1107.69h38.1M2319.9 1107.69h38.1M2471.3 1107.69h38.1M3076.8 1107.69h38.1M3152.5 1107.69h38.1M389.8 1121.83h38.1M503.3 1121.83h38.1M541.1 1121.83h38.1M579.0 1121.83h38.1M881.8 1121.83h38.1M1222.4 1121.83h38.1M1638.7 1121.83h38.1M1865.8 1121.83h38.1M1903.6 1121.83h38.1M1979.3 1121.83h38.1M2017.1 1121.83h38.1M2168.5 1121.83h38.1M2584.8 1121.83h38.1M3001.1 1121.83h38.1M3228.2 1121.83h38.1M3303.9 1121.83h38.1M3720.2 1121.83h38.1M3758.1 1121.83h38.1M692.5 1135.98h38.1M768.2 1135.98h38.1M957.5 1135.98h38.1M1146.7 1135.98h38.1M1298.1 1135.98h38.1M1487.3 1135.98h38.1M1827.9 1135.98h38.1M1979.3 1135.98h38.1M2168.5 1135.98h38.1M2282.1 1135.98h38.1M2319.9 1135.98h38.1M2357.8 1135.98h38.1M2471.3 1135.98h38.1M2509.1 1135.98h38.1M2584.8 1135.98h38.1M2811.9 1135.98h38.1M3039.0 1135.98h38.1M3228.2 1135.98h38.1M3341.7 1135.98h38.1M3379.6 1135.98h38.1M3531.0 1135.98h38.1M3568.8 1135.98h38.1M3833.7 1135.98h38.1M541.1 1150.12h38.1M768.2 1150.12h38.1M806.1 1150.12h38.1M957.5 1150.12h38.1M1033.1 1150.12h38.1M1600.8 1150.12h38.1M1903.6 1150.12h38.1M2395.6 1150.12h38.1M2584.8 1150.12h38.1M2887.6 1150.12h38.1M2963.3 1150.12h38.1M3114.7 1150.12h38.1M3531.0 1150.12h38.1M1184.5 1164.27h38.1M1335.9 1164.27h38.1M1373.8 1164.27h38.1M1790.1 1164.27h38.1M1827.9 1164.27h38.1M2092.8 1164.27h38.1M2244.2 1164.27h38.1M2849.8 1164.27h38.1M3001.1 1164.27h38.1M3039.0 1164.27h38.1M3076.8 1164.27h38.1M3682.4 1164.27h38.1M3833.7 1164.27h38.1M616.8 1178.41h38.1M654.7 1178.41h38.1M1184.5 1178.41h38.1M1638.7 1178.41h38.1M1903.6 1178.41h38.1M1979.3 1178.41h38.1M2055.0 1178.41h38.1M2471.3 1178.41h38.1M2811.9 1178.41h38.1M3039.0 1178.41h38.1M3114.7 1178.41h38.1M3266.1 1178.41h38.1M3531.0 1178.41h38.1M427.6 1192.56h38.1M579.0 1192.56h38.1M616.8 1192.56h38.1M730.4 1192.56h38.1M768.2 1192.56h38.1M1033.1 1192.56h38.1M1184.5 1192.56h38.1M1600.8 1192.56h38.1M1941.4 1192.56h38.1M2055.0 1192.56h38.1M2092.8 1192.56h38.1M2168.5 1192.56h38.1M2206.4 1192.56h38.1M2509.1 1192.56h38.1M2660.5 1192.56h38.1M2887.6 1192.56h38.1M3228.2 1192.56h38.1M3266.1 1192.56h38.1M3417.4 1192.56h38.1M3493.1 1192.56h38.1M3720.2 1192.56h38.1M579.0 1206.71h38.1M768.2 1206.71h38.1M806.1 1206.71h38.1M843.9 1206.71h38.1M995.3 1206.71h38.1M1146.7 1206.71h38.1M1184.5 1206.71h38.1M1298.1 1206.71h38.1M1525.1 1206.71h38.1M1714.4 1206.71h38.1M1941.4 1206.71h38.1M2244.2 1206.71h38.1M2584.8 1206.71h38.1M2811.9 1206.71h38.1M2849.8 1206.71h38.1M3001.1 1206.71h38.1M3720.2 1206.71h38.1M579.0 1220.85h38.1M654.7 1220.85h38.1M957.5 1220.85h38.1M995.3 1220.85h38.1M1184.5 1220.85h38.1M1676.5 1220.85h38.1M2130.7 1220.85h38.1M2622.7 1220.85h38.1M2660.5 1220.85h38.1M2698.4 1220.85h38.1M3001.1 1220.85h38.1M3266.1 1220.85h38.1M3493.1 1220.85h38.1M3531.0 1220.85h38.1M3833.7 1220.85h38.1M806.1 1235.00h38.1M1033.1 1235.00h38.1M1184.5 1235.00h38.1M1222.4 1235.00h38.1M1373.8 1235.00h38.1M2055.0 1235.00h38.1M2282.1 1235.00h38.1M2584.8 1235.00h38.1M2849.8 1235.00h38.1M3303.9 1235.00h38.1M465.5 1249.14h38.1M616.8 1249.14h38.1M692.5 1249.14h38.1M806.1 1249.14h38.1M1184.5 1249.14h38.1M1790.1 1249.14h38.1M2433.4 1249.14h38.1M2584.8 1249.14h38.1M3001.1 1249.14h38.1M3190.4 1249.14h38.1M3493.1 1249.14h38.1M3531.0 1249.14h38.1M503.3 1263.29h38.1M541.1 1263.29h38.1M806.1 1263.29h38.1M995.3 1263.29h38.1M1298.1 1263.29h38.1M1487.3 1263.29h38.1M1827.9 1263.29h38.1M2055.0 1263.29h38.1M2092.8 1263.29h38.1M2357.8 1263.29h38.1M2547.0 1263.29h38.1M3001.1 1263.29h38.1M3152.5 1263.29h38.1M3303.9 1263.29h38.1M3493.1 1263.29h38.1M3833.7 1263.29h38.1M465.5 1277.43h38.1M654.7 1277.43h38.1M957.5 1277.43h38.1M1222.4 1277.43h38.1M1335.9 1277.43h38.1M2282.1 1277.43h38.1M2584.8 1277.43h38.1M3455.3 1277.43h38.1M3644.5 1277.43h38.1M3758.1 1277.43h38.1M919.6 1291.58h38.1M957.5 1291.58h38.1M1071.0 1291.58h38.1M1184.5 1291.58h38.1M1373.8 1291.58h38.1M1676.5 1291.58h38.1M1865.8 1291.58h38.1M1903.6 1291.58h38.1M2130.7 1291.58h38.1M2395.6 1291.58h38.1M2584.8 1291.58h38.1M2698.4 1291.58h38.1M2849.8 1291.58h38.1M3455.3 1291.58h38.1M3606.7 1291.58h38.1M616.8 1305.72h38.1M806.1 1305.72h38.1M919.6 1305.72h38.1M995.3 1305.72h38.1M1108.8 1305.72h38.1M1638.7 1305.72h38.1M1714.4 1305.72h38.1M1979.3 1305.72h38.1M2206.4 1305.72h38.1M2319.9 1305.72h38.1M2509.1 1305.72h38.1M2584.8 1305.72h38.1M2622.7 1305.72h38.1M3039.0 1305.72h38.1M3114.7 1305.72h38.1M3152.5 1305.72h38.1M3455.3 1305.72h38.1M3606.7 1305.72h38.1M3795.9 1305.72h38.1M427.6 1319.87h38.1M503.3 1319.87h38.1M843.9 1319.87h38.1M1146.7 1319.87h38.1M1298.1 1319.87h38.1M1714.4 1319.87h38.1M1790.1 1319.87h38.1M1827.9 1319.87h38.1M2017.1 1319.87h38.1M2130.7 1319.87h38.1M2168.5 1319.87h38.1M2206.4 1319.87h38.1M2319.9 1319.87h38.1M3114.7 1319.87h38.1M3379.6 1319.87h38.1M692.5 1334.01h38.1M730.4 1334.01h38.1M881.8 1334.01h38.1M1033.1 1334.01h38.1M1335.9 1334.01h38.1M1525.1 1334.01h38.1M1865.8 1334.01h38.1M2887.6 1334.01h38.1M2925.4 1334.01h38.1M2963.3 1334.01h38.1M3001.1 1334.01h38.1M3076.8 1334.01h38.1M3303.9 1334.01h38.1M3417.4 1334.01h38.1M465.5 1348.16h38.1M806.1 1348.16h38.1M1638.7 1348.16h38.1M1676.5 1348.16h38.1M1941.4 1348.16h38.1M1979.3 1348.16h38.1M2017.1 1348.16h38.1M2092.8 1348.16h38.1M2206.4 1348.16h38.1M2244.2 1348.16h38.1M2471.3 1348.16h38.1M2887.6 1348.16h38.1M2963.3 1348.16h38.1M3001.1 1348.16h38.1M3039.0 1348.16h38.1M3303.9 1348.16h38.1M3682.4 1348.16h38.1M3720.2 1348.16h38.1M843.9 1362.30h38.1M957.5 1362.30h38.1M1184.5 1362.30h38.1M1222.4 1362.30h38.1M1298.1 1362.30h38.1M1487.3 1362.30h38.1M1752.2 1362.30h38.1M1979.3 1362.30h38.1M2017.1 1362.30h38.1M2092.8 1362.30h38.1M2395.6 1362.30h38.1M2433.4 1362.30h38.1M2660.5 1362.30h38.1M3001.1 1362.30h38.1M3152.5 1362.30h38.1M3417.4 1362.30h38.1M3720.2 1362.30h38.1M427.6 1376.45h38.1M465.5 1376.45h38.1M541.1 1376.45h38.1M843.9 1376.45h38.1M957.5 1376.45h38.1M1222.4 1376.45h38.1M1600.8 1376.45h38.1M2092.8 1376.45h38.1M2206.4 1376.45h38.1M2319.9 1376.45h38.1M2584.8 1376.45h38.1M2660.5 1376.45h38.1M3379.6 1376.45h38.1M3531.0 1376.45h38.1M3644.5 1376.45h38.1M3833.7 1376.45h38.1M503.3 1390.59h38.1M881.8 1390.59h38.1M1071.0 1390.59h38.1M1487.3 1390.59h38.1M1941.4 1390.59h38.1M2168.5 1390.59h38.1M2660.5 1390.59h38.1M2887.6 1390.59h38.1M3190.4 1390.59h38.1M3493.1 1390.59h38.1M3568.8 1390.59h38.1M3720.2 1390.59h38.1M3833.7 1390.59h38.1M579.0 1404.74h38.1M654.7 1404.74h38.1M806.1 1404.74h38.1M1146.7 1404.74h38.1M1184.5 1404.74h38.1M1411.6 1404.74h38.1M1487.3 1404.74h38.1M1714.4 1404.74h38.1M1941.4 1404.74h38.1M2055.0 1404.74h38.1M2168.5 1404.74h38.1M2509.1 1404.74h38.1M2584.8 1404.74h38.1M2849.8 1404.74h38.1M2887.6 1404.74h38.1M2963.3 1404.74h38.1M3001.1 1404.74h38.1M3190.4 1404.74h38.1M3568.8 1404.74h38.1M616.8 1418.89h38.1M843.9 1418.89h38.1M957.5 1418.89h38.1M1184.5 1418.89h38.1M1260.2 1418.89h38.1M1298.1 1418.89h38.1M1335.9 1418.89h38.1M1373.8 1418.89h38.1M1903.6 1418.89h38.1M2017.1 1418.89h38.1M2282.1 1418.89h38.1M2471.3 1418.89h38.1M3039.0 1418.89h38.1M3114.7 1418.89h38.1M3568.8 1418.89h38.1M3833.7 1418.89h38.1M389.8 1433.03h38.1M427.6 1433.03h38.1M541.1 1433.03h38.1M579.0 1433.03h38.1M730.4 1433.03h38.1M1146.7 1433.03h38.1M1222.4 1433.03h38.1M1563.0 1433.03h38.1M1638.7 1433.03h38.1M2055.0 1433.03h38.1M2092.8 1433.03h38.1M2433.4 1433.03h38.1M2584.8 1433.03h38.1M2622.7 1433.03h38.1M2698.4 1433.03h38.1M3039.0 1433.03h38.1M3152.5 1433.03h38.1M3493.1 1433.03h38.1M3682.4 1433.03h38.1M3758.1 1433.03h38.1M3795.9 1433.03h38.1M3833.7 1433.03h38.1M730.4 1447.18h38.1M806.1 1447.18h38.1M1108.8 1447.18h38.1M1298.1 1447.18h38.1M1373.8 1447.18h38.1M1676.5 1447.18h38.1M1752.2 1447.18h38.1M1827.9 1447.18h38.1M1865.8 1447.18h38.1M1941.4 1447.18h38.1M2017.1 1447.18h38.1M3152.5 1447.18h38.1M3531.0 1447.18h38.1M3682.4 1447.18h38.1M427.6 1461.32h38.1M541.1 1461.32h38.1M579.0 1461.32h38.1M654.7 1461.32h38.1M1071.0 1461.32h38.1M1449.4 1461.32h38.1M2017.1 1461.32h38.1M2206.4 1461.32h38.1M2547.0 1461.32h38.1M3114.7 1461.32h38.1M3417.4 1461.32h38.1M3606.7 1461.32h38.1M3682.4 1461.32h38.1M465.5 1475.47h38.1M692.5 1475.47h38.1M1222.4 1475.47h38.1M1411.6 1475.47h38.1M1525.1 1475.47h38.1M1676.5 1475.47h38.1M1752.2 1475.47h38.1M2017.1 1475.47h38.1M2395.6 1475.47h38.1M2433.4 1475.47h38.1M2584.8 1475.47h38.1M2736.2 1475.47h38.1M3493.1 1475.47h38.1M3720.2 1475.47h38.1M3795.9 1475.47h38.1M541.1 1489.61h38.1M1146.7 1489.61h38.1M1222.4 1489.61h38.1M1600.8 1489.61h38.1M1714.4 1489.61h38.1M2319.9 1489.61h38.1M3076.8 1489.61h38.1M3266.1 1489.61h38.1M3795.9 1489.61h38.1M616.8 1503.76h38.1M1071.0 1503.76h38.1M1184.5 1503.76h38.1M1298.1 1503.76h38.1M1449.4 1503.76h38.1M1676.5 1503.76h38.1M2168.5 1503.76h38.1M2811.9 1503.76h38.1M3001.1 1503.76h38.1M3076.8 1503.76h38.1M3152.5 1503.76h38.1M3228.2 1503.76h38.1M3266.1 1503.76h38.1M3644.5 1503.76h38.1M3758.1 1503.76h38.1M389.8 1517.90h38.1M768.2 1517.90h38.1M806.1 1517.90h38.1M843.9 1517.90h38.1M881.8 1517.90h38.1M919.6 1517.90h38.1M1373.8 1517.90h38.1M1525.1 1517.90h38.1M1600.8 1517.90h38.1M1790.1 1517.90h38.1M2017.1 1517.90h38.1M2206.4 1517.90h38.1M2319.9 1517.90h38.1M2395.6 1517.90h38.1M2660.5 1517.90h38.1M2811.9 1517.90h38.1M3114.7 1517.90h38.1M3455.3 1517.90h38.1M3720.2 1517.90h38.1M3833.7 1517.90h38.1M654.7 1532.05h38.1M843.9 1532.05h38.1M1298.1 1532.05h38.1M1714.4 1532.05h38.1M2244.2 1532.05h38.1M2395.6 1532.05h38.1M2471.3 1532.05h38.1M2547.0 1532.05h38.1M3039.0 1532.05h38.1M3152.5 1532.05h38.1M3568.8 1532.05h38.1M3795.9 1532.05h38.1M654.7 1546.19h38.1M768.2 1546.19h38.1M1146.7 1546.19h38.1M1600.8 1546.19h38.1M1714.4 1546.19h38.1M1979.3 1546.19h38.1M2055.0 1546.19h38.1M2433.4 1546.19h38.1M2471.3 1546.19h38.1M2811.9 1546.19h38.1M2887.6 1546.19h38.1M3190.4 1546.19h38.1M3644.5 1546.19h38.1M3682.4 1546.19h38.1M3795.9 1546.19h38.1M541.1 1560.34h38.1M730.4 1560.34h38.1M768.2 1560.34h38.1M957.5 1560.34h38.1M1033.1 1560.34h38.1M1146.7 1560.34h38.1M1638.7 1560.34h38.1M1676.5 1560.34h38.1M1790.1 1560.34h38.1M2130.7 1560.34h38.1M2357.8 1560.34h38.1M2471.3 1560.34h38.1M3039.0 1560.34h38.1M3341.7 1560.34h38.1M465.5 1574.48h38.1M579.0 1574.48h38.1M730.4 1574.48h38.1M881.8 1574.48h38.1M995.3 1574.48h38.1M1146.7 1574.48h38.1M1184.5 1574.48h38.1M1222.4 1574.48h38.1M1335.9 1574.48h38.1M1525.1 1574.48h38.1M1865.8 1574.48h38.1M1979.3 1574.48h38.1M2774.1 1574.48h38.1M3152.5 1574.48h38.1M730.4 1588.63h38.1M843.9 1588.63h38.1M1108.8 1588.63h38.1M1373.8 1588.63h38.1M1714.4 1588.63h38.1M2092.8 1588.63h38.1M2736.2 1588.63h38.1M2774.1 1588.63h38.1M2811.9 1588.63h38.1M2887.6 1588.63h38.1M3114.7 1588.63h38.1M3190.4 1588.63h38.1M3417.4 1588.63h38.1M3833.7 1588.63h38.1M654.7 1602.77h38.1M730.4 1602.77h38.1M919.6 1602.77h38.1M1298.1 1602.77h38.1M1335.9 1602.77h38.1M1373.8 1602.77h38.1M1411.6 1602.77h38.1M1676.5 1602.77h38.1M2130.7 1602.77h38.1M2244.2 1602.77h38.1M2319.9 1602.77h38.1M2357.8 1602.77h38.1M2698.4 1602.77h38.1M2774.1 1602.77h38.1M2811.9 1602.77h38.1M2849.8 1602.77h38.1M2925.4 1602.77h38.1M3228.2 1602.77h38.1M3303.9 1602.77h38.1M3341.7 1602.77h38.1M427.6 1616.92h38.1M465.5 1616.92h38.1M503.3 1616.92h38.1M541.1 1616.92h38.1M843.9 1616.92h38.1M995.3 1616.92h38.1M1108.8 1616.92h38.1M1411.6 1616.92h38.1M1676.5 1616.92h38.1M2130.7 1616.92h38.1M2395.6 1616.92h38.1M2509.1 1616.92h38.1M2547.0 1616.92h38.1M2698.4 1616.92h38.1M3001.1 1616.92h38.1M3039.0 1616.92h38.1M3228.2 1616.92h38.1M3606.7 1616.92h38.1M465.5 1631.06h38.1M730.4 1631.06h38.1M806.1 1631.06h38.1M843.9 1631.06h38.1M1071.0 1631.06h38.1M1487.3 1631.06h38.1M2282.1 1631.06h38.1M2736.2 1631.06h38.1M3001.1 1631.06h38.1M3303.9 1631.06h38.1M3531.0 1631.06h38.1M3568.8 1631.06h38.1M3720.2 1631.06h38.1M3758.1 1631.06h38.1M1260.2 1645.21h38.1M1373.8 1645.21h38.1M1525.1 1645.21h38.1M2168.5 1645.21h38.1M2206.4 1645.21h38.1M2395.6 1645.21h38.1M2584.8 1645.21h38.1M3152.5 1645.21h38.1M3190.4 1645.21h38.1M3379.6 1645.21h38.1M3455.3 1645.21h38.1M3531.0 1645.21h38.1M3720.2 1645.21h38.1M389.8 1659.36h38.1M654.7 1659.36h38.1M1108.8 1659.36h38.1M1184.5 1659.36h38.1M1449.4 1659.36h38.1M1676.5 1659.36h38.1M2055.0 1659.36h38.1M2130.7 1659.36h38.1M2206.4 1659.36h38.1M2244.2 1659.36h38.1M2471.3 1659.36h38.1M3152.5 1659.36h38.1M3228.2 1659.36h38.1M3606.7 1659.36h38.1M3682.4 1659.36h38.1M843.9 1673.50h38.1M957.5 1673.50h38.1M1184.5 1673.50h38.1M1222.4 1673.50h38.1M1449.4 1673.50h38.1M1525.1 1673.50h38.1M1903.6 1673.50h38.1M2244.2 1673.50h38.1M3039.0 1673.50h38.1M3303.9 1673.50h38.1M3417.4 1673.50h38.1M3455.3 1673.50h38.1M389.8 1687.65h38.1M427.6 1687.65h38.1M541.1 1687.65h38.1M768.2 1687.65h38.1M1373.8 1687.65h38.1M1525.1 1687.65h38.1M1865.8 1687.65h38.1M2092.8 1687.65h38.1M2357.8 1687.65h38.1M2433.4 1687.65h38.1M2774.1 1687.65h38.1M2963.3 1687.65h38.1M3001.1 1687.65h38.1M3039.0 1687.65h38.1M3606.7 1687.65h38.1M3871.6 1687.65h38.1M389.8 1701.79h38.1M465.5 1701.79h38.1M503.3 1701.79h38.1M654.7 1701.79h38.1M1108.8 1701.79h38.1M1411.6 1701.79h38.1M1563.0 1701.79h38.1M1827.9 1701.79h38.1M1865.8 1701.79h38.1M1941.4 1701.79h38.1M2092.8 1701.79h38.1M2319.9 1701.79h38.1M2357.8 1701.79h38.1M2509.1 1701.79h38.1M3039.0 1701.79h38.1M3606.7 1701.79h38.1M3795.9 1701.79h38.1M3871.6 1701.79h38.1M503.3 1715.94h38.1M1222.4 1715.94h38.1M1411.6 1715.94h38.1M1941.4 1715.94h38.1M2206.4 1715.94h38.1M3266.1 1715.94h38.1M3417.4 1715.94h38.1M3644.5 1715.94h38.1M3758.1 1715.94h38.1M881.8 1730.08h38.1M919.6 1730.08h38.1M1108.8 1730.08h38.1M1449.4 1730.08h38.1M1563.0 1730.08h38.1M1600.8 1730.08h38.1M1638.7 1730.08h38.1M1941.4 1730.08h38.1M2849.8 1730.08h38.1M2963.3 1730.08h38.1M3076.8 1730.08h38.1M3266.1 1730.08h38.1M3493.1 1730.08h38.1M730.4 1744.23h38.1M1033.1 1744.23h38.1M1449.4 1744.23h38.1M2282.1 1744.23h38.1M2547.0 1744.23h38.1M3758.1 1744.23h38.1M3871.6 1744.23h38.1M616.8 1758.37h38.1M806.1 1758.37h38.1M919.6 1758.37h38.1M957.5 1758.37h38.1M995.3 1758.37h38.1M1033.1 1758.37h38.1M1108.8 1758.37h38.1M1184.5 1758.37h38.1M1298.1 1758.37h38.1M1411.6 1758.37h38.1M1449.4 1758.37h38.1M2092.8 1758.37h38.1M2244.2 1758.37h38.1M2357.8 1758.37h38.1M2471.3 1758.37h38.1M2547.0 1758.37h38.1M2660.5 1758.37h38.1M2811.9 1758.37h38.1M3493.1 1758.37h38.1M3833.7 1758.37h38.1M3871.6 1758.37h38.1M427.6 1772.52h38.1M654.7 1772.52h38.1M730.4 1772.52h38.1M957.5 1772.52h38.1M1108.8 1772.52h38.1M1146.7 1772.52h38.1M1298.1 1772.52h38.1M1411.6 1772.52h38.1M1563.0 1772.52h38.1M1600.8 1772.52h38.1M1638.7 1772.52h38.1M2282.1 1772.52h38.1M2433.4 1772.52h38.1M2509.1 1772.52h38.1M2736.2 1772.52h38.1M2811.9 1772.52h38.1M2963.3 1772.52h38.1M3001.1 1772.52h38.1M3266.1 1772.52h38.1M3720.2 1772.52h38.1M3758.1 1772.52h38.1M465.5 1786.66h38.1M806.1 1786.66h38.1M881.8 1786.66h38.1M995.3 1786.66h38.1M1298.1 1786.66h38.1M1335.9 1786.66h38.1M1449.4 1786.66h38.1M2660.5 1786.66h38.1M2736.2 1786.66h38.1M2811.9 1786.66h38.1M2887.6 1786.66h38.1M3001.1 1786.66h38.1M3152.5 1786.66h38.1M3190.4 1786.66h38.1M3266.1 1786.66h38.1M3833.7 1786.66h38.1M427.6 1800.81h38.1M579.0 1800.81h38.1M843.9 1800.81h38.1M1108.8 1800.81h38.1M1222.4 1800.81h38.1M1752.2 1800.81h38.1M2547.0 1800.81h38.1M2660.5 1800.81h38.1M2811.9 1800.81h38.1M2887.6 1800.81h38.1M2963.3 1800.81h38.1M3228.2 1800.81h38.1M3303.9 1800.81h38.1M3720.2 1800.81h38.1M427.6 1814.95h38.1M541.1 1814.95h38.1M616.8 1814.95h38.1M768.2 1814.95h38.1M957.5 1814.95h38.1M1108.8 1814.95h38.1M1146.7 1814.95h38.1M2471.3 1814.95h38.1M2509.1 1814.95h38.1M2622.7 1814.95h38.1M2811.9 1814.95h38.1M2925.4 1814.95h38.1M3001.1 1814.95h38.1M3152.5 1814.95h38.1M3228.2 1814.95h38.1M3341.7 1814.95h38.1M3531.0 1814.95h38.1M3606.7 1814.95h38.1M3682.4 1814.95h38.1M3833.7 1814.95h38.1M541.1 1829.10h38.1M616.8 1829.10h38.1M654.7 1829.10h38.1M919.6 1829.10h38.1M1525.1 1829.10h38.1M1638.7 1829.10h38.1M2130.7 1829.10h38.1M2547.0 1829.10h38.1M2584.8 1829.10h38.1M2622.7 1829.10h38.1M2849.8 1829.10h38.1M2963.3 1829.10h38.1M3001.1 1829.10h38.1M3152.5 1829.10h38.1M3531.0 1829.10h38.1M3644.5 1829.10h38.1M3758.1 1829.10h38.1M389.8 1843.24h38.1M465.5 1843.24h38.1M616.8 1843.24h38.1M692.5 1843.24h38.1M1033.1 1843.24h38.1M1108.8 1843.24h38.1M1184.5 1843.24h38.1M1298.1 1843.24h38.1M1449.4 1843.24h38.1M1600.8 1843.24h38.1M1714.4 1843.24h38.1M2168.5 1843.24h38.1M2244.2 1843.24h38.1M2282.1 1843.24h38.1M2319.9 1843.24h38.1M2395.6 1843.24h38.1M2471.3 1843.24h38.1M2547.0 1843.24h38.1M2622.7 1843.24h38.1M2811.9 1843.24h38.1M2963.3 1843.24h38.1M3001.1 1843.24h38.1M3039.0 1843.24h38.1M3114.7 1843.24h38.1M3455.3 1843.24h38.1M3644.5 1843.24h38.1M3758.1 1843.24h38.1M427.6 1857.39h38.1M503.3 1857.39h38.1M692.5 1857.39h38.1M768.2 1857.39h38.1M1146.7 1857.39h38.1M1184.5 1857.39h38.1M1260.2 1857.39h38.1M2017.1 1857.39h38.1M2206.4 1857.39h38.1M2698.4 1857.39h38.1M2736.2 1857.39h38.1M3266.1 1857.39h38.1M3303.9 1857.39h38.1M3682.4 1857.39h38.1M427.6 1871.54h38.1M465.5 1871.54h38.1M541.1 1871.54h38.1M768.2 1871.54h38.1M1184.5 1871.54h38.1M1449.4 1871.54h38.1M1790.1 1871.54h38.1M1903.6 1871.54h38.1M2017.1 1871.54h38.1M2055.0 1871.54h38.1M2092.8 1871.54h38.1M2811.9 1871.54h38.1M3039.0 1871.54h38.1M3114.7 1871.54h38.1M3266.1 1871.54h38.1M3493.1 1871.54h38.1M3758.1 1871.54h38.1M541.1 1885.68h38.1M654.7 1885.68h38.1M919.6 1885.68h38.1M1033.1 1885.68h38.1M1487.3 1885.68h38.1M1563.0 1885.68h38.1M1638.7 1885.68h38.1M1865.8 1885.68h38.1M1979.3 1885.68h38.1M2244.2 1885.68h38.1M2963.3 1885.68h38.1M3001.1 1885.68h38.1M3379.6 1885.68h38.1M3493.1 1885.68h38.1M389.8 1899.83h38.1M654.7 1899.83h38.1M995.3 1899.83h38.1M1033.1 1899.83h38.1M1071.0 1899.83h38.1M1184.5 1899.83h38.1M1373.8 1899.83h38.1M1752.2 1899.83h38.1M1979.3 1899.83h38.1M2282.1 1899.83h38.1M2584.8 1899.83h38.1M2774.1 1899.83h38.1M2925.4 1899.83h38.1M3228.2 1899.83h38.1M3531.0 1899.83h38.1M3568.8 1899.83h38.1M3833.7 1899.83h38.1M541.1 1913.97h38.1M843.9 1913.97h38.1M1411.6 1913.97h38.1M1638.7 1913.97h38.1M1676.5 1913.97h38.1M1865.8 1913.97h38.1M2130.7 1913.97h38.1M2168.5 1913.97h38.1M2395.6 1913.97h38.1M3114.7 1913.97h38.1M3303.9 1913.97h38.1M3531.0 1913.97h38.1M3682.4 1913.97h38.1M3795.9 1913.97h38.1M654.7 1928.12h38.1M806.1 1928.12h38.1M843.9 1928.12h38.1M881.8 1928.12h38.1M1033.1 1928.12h38.1M1676.5 1928.12h38.1M1903.6 1928.12h38.1M2244.2 1928.12h38.1M2471.3 1928.12h38.1M2963.3 1928.12h38.1M3152.5 1928.12h38.1M3341.7 1928.12h38.1M3379.6 1928.12h38.1M3417.4 1928.12h38.1M3644.5 1928.12h38.1M3758.1 1928.12h38.1M3795.9 1928.12h38.1M3833.7 1928.12h38.1M389.8 1942.26h38.1M427.6 1942.26h38.1M654.7 1942.26h38.1M692.5 1942.26h38.1M1108.8 1942.26h38.1M1146.7 1942.26h38.1M1449.4 1942.26h38.1M2092.8 1942.26h38.1M2130.7 1942.26h38.1M2584.8 1942.26h38.1M2811.9 1942.26h38.1M3266.1 1942.26h38.1M3455.3 1942.26h38.1M3682.4 1942.26h38.1M3720.2 1942.26h38.1M3871.6 1942.26h38.1M465.5 1956.41h38.1M503.3 1956.41h38.1M616.8 1956.41h38.1M768.2 1956.41h38.1M881.8 1956.41h38.1M1222.4 1956.41h38.1M1411.6 1956.41h38.1M1638.7 1956.41h38.1M1979.3 1956.41h38.1M2584.8 1956.41h38.1M2622.7 1956.41h38.1M2774.1 1956.41h38.1M2811.9 1956.41h38.1M2925.4 1956.41h38.1M3076.8 1956.41h38.1M3114.7 1956.41h38.1M3303.9 1956.41h38.1M3417.4 1956.41h38.1M3493.1 1956.41h38.1M3795.9 1956.41h38.1M503.3 1970.55h38.1M579.0 1970.55h38.1M692.5 1970.55h38.1M1071.0 1970.55h38.1M1108.8 1970.55h38.1M1563.0 1970.55h38.1M1600.8 1970.55h38.1M2319.9 1970.55h38.1M2357.8 1970.55h38.1M2584.8 1970.55h38.1M3379.6 1970.55h38.1M3644.5 1970.55h38.1M465.5 1984.70h38.1M579.0 1984.70h38.1M1071.0 1984.70h38.1M1298.1 1984.70h38.1M1487.3 1984.70h38.1M1638.7 1984.70h38.1M1676.5 1984.70h38.1M1714.4 1984.70h38.1M2395.6 1984.70h38.1M2471.3 1984.70h38.1M2622.7 1984.70h38.1M2698.4 1984.70h38.1M2736.2 1984.70h38.1M3114.7 1984.70h38.1M3190.4 1984.70h38.1M3568.8 1984.70h38.1M3833.7 1984.70h38.1M730.4 1998.84h38.1M957.5 1998.84h38.1M1335.9 1998.84h38.1M1373.8 1998.84h38.1M1487.3 1998.84h38.1M1979.3 1998.84h38.1M3039.0 1998.84h38.1M3190.4 1998.84h38.1M3644.5 1998.84h38.1M503.3 2012.99h38.1M541.1 2012.99h38.1M881.8 2012.99h38.1M1146.7 2012.99h38.1M1222.4 2012.99h38.1M1487.3 2012.99h38.1M1563.0 2012.99h38.1M2319.9 2012.99h38.1M2660.5 2012.99h38.1M3001.1 2012.99h38.1M3266.1 2012.99h38.1M3795.9 2012.99h38.1M3871.6 2012.99h38.1M806.1 2027.13h38.1M1449.4 2027.13h38.1M1487.3 2027.13h38.1M1563.0 2027.13h38.1M1903.6 2027.13h38.1M2395.6 2027.13h38.1M2547.0 2027.13h38.1M2584.8 2027.13h38.1M2849.8 2027.13h38.1M3493.1 2027.13h38.1M3682.4 2027.13h38.1M3795.9 2027.13h38.1M579.0 2041.28h38.1M806.1 2041.28h38.1M1033.1 2041.28h38.1M1373.8 2041.28h38.1M2622.7 2041.28h38.1M2849.8 2041.28h38.1M2925.4 2041.28h38.1M3001.1 2041.28h38.1M3379.6 2041.28h38.1M3720.2 2041.28h38.1M3795.9 2041.28h38.1M692.5 2055.42h38.1M843.9 2055.42h38.1M881.8 2055.42h38.1M919.6 2055.42h38.1M957.5 2055.42h38.1M1033.1 2055.42h38.1M1108.8 2055.42h38.1M1146.7 2055.42h38.1M1298.1 2055.42h38.1M1411.6 2055.42h38.1M1487.3 2055.42h38.1M1525.1 2055.42h38.1M1752.2 2055.42h38.1M2547.0 2055.42h38.1M2584.8 2055.42h38.1M2925.4 2055.42h38.1M3039.0 2055.42h38.1M3076.8 2055.42h38.1M3114.7 2055.42h38.1M3266.1 2055.42h38.1M3531.0 2055.42h38.1M3871.6 2055.42h38.1M465.5 2069.57h38.1M768.2 2069.57h38.1M806.1 2069.57h38.1M1146.7 2069.57h38.1M1525.1 2069.57h38.1M1714.4 2069.57h38.1M1941.4 2069.57h38.1M1979.3 2069.57h38.1M2509.1 2069.57h38.1M2774.1 2069.57h38.1M2887.6 2069.57h38.1M2963.3 2069.57h38.1M3152.5 2069.57h38.1M3833.7 2069.57h38.1M427.6 2083.71h38.1M579.0 2083.71h38.1M654.7 2083.71h38.1M843.9 2083.71h38.1M919.6 2083.71h38.1M1071.0 2083.71h38.1M1184.5 2083.71h38.1M1563.0 2083.71h38.1M1600.8 2083.71h38.1M2963.3 2083.71h38.1M3039.0 2083.71h38.1M3152.5 2083.71h38.1M3228.2 2083.71h38.1M3758.1 2083.71h38.1M579.0 2097.86h38.1M654.7 2097.86h38.1M806.1 2097.86h38.1M1071.0 2097.86h38.1M1184.5 2097.86h38.1M1373.8 2097.86h38.1M1790.1 2097.86h38.1M2206.4 2097.86h38.1M2509.1 2097.86h38.1M2622.7 2097.86h38.1M2963.3 2097.86h38.1M3039.0 2097.86h38.1M3152.5 2097.86h38.1M3228.2 2097.86h38.1M3266.1 2097.86h38.1M3531.0 2097.86h38.1M3795.9 2097.86h38.1M389.8 2112.01h38.1M465.5 2112.01h38.1M541.1 2112.01h38.1M1146.7 2112.01h38.1M1638.7 2112.01h38.1M2925.4 2112.01h38.1M3076.8 2112.01h38.1M3341.7 2112.01h38.1M3379.6 2112.01h38.1M3795.9 2112.01h38.1M579.0 2126.15h38.1M806.1 2126.15h38.1M1033.1 2126.15h38.1M1146.7 2126.15h38.1M1411.6 2126.15h38.1M1790.1 2126.15h38.1M2244.2 2126.15h38.1M2774.1 2126.15h38.1M2811.9 2126.15h38.1M3114.7 2126.15h38.1M3266.1 2126.15h38.1M3758.1 2126.15h38.1M616.8 2140.30h38.1M957.5 2140.30h38.1M1184.5 2140.30h38.1M1222.4 2140.30h38.1M1335.9 2140.30h38.1M1676.5 2140.30h38.1M1941.4 2140.30h38.1M3076.8 2140.30h38.1M3190.4 2140.30h38.1M3228.2 2140.30h38.1M3266.1 2140.30h38.1M3341.7 2140.30h38.1M3682.4 2140.30h38.1M3720.2 2140.30h38.1M730.4 2154.44h38.1M1373.8 2154.44h38.1M1411.6 2154.44h38.1M1676.5 2154.44h38.1M2206.4 2154.44h38.1M2509.1 2154.44h38.1M3266.1 2154.44h38.1M3493.1 2154.44h38.1M3568.8 2154.44h38.1M3606.7 2154.44h38.1M3682.4 2154.44h38.1M3758.1 2154.44h38.1M503.3 2168.59h38.1M654.7 2168.59h38.1M995.3 2168.59h38.1M1071.0 2168.59h38.1M1222.4 2168.59h38.1M1449.4 2168.59h38.1M1676.5 2168.59h38.1M1827.9 2168.59h38.1M2395.6 2168.59h38.1M2584.8 2168.59h38.1M2660.5 2168.59h38.1M2925.4 2168.59h38.1M3682.4 2168.59h38.1M616.8 2182.73h38.1M843.9 2182.73h38.1M881.8 2182.73h38.1M995.3 2182.73h38.1M1108.8 2182.73h38.1M1676.5 2182.73h38.1M2471.3 2182.73h38.1M2811.9 2182.73h38.1M2849.8 2182.73h38.1M3076.8 2182.73h38.1M3152.5 2182.73h38.1M3190.4 2182.73h38.1M3455.3 2182.73h38.1M3493.1 2182.73h38.1M3606.7 2182.73h38.1M3833.7 2182.73h38.1M389.8 2196.88h38.1M616.8 2196.88h38.1M654.7 2196.88h38.1M881.8 2196.88h38.1M919.6 2196.88h38.1M995.3 2196.88h38.1M1222.4 2196.88h38.1M1260.2 2196.88h38.1M1298.1 2196.88h38.1M1487.3 2196.88h38.1M3266.1 2196.88h38.1M3303.9 2196.88h38.1M3720.2 2196.88h38.1M654.7 2211.02h38.1M806.1 2211.02h38.1M1071.0 2211.02h38.1M1108.8 2211.02h38.1M1449.4 2211.02h38.1M1525.1 2211.02h38.1M1600.8 2211.02h38.1M1790.1 2211.02h38.1M2509.1 2211.02h38.1M2547.0 2211.02h38.1M3039.0 2211.02h38.1M3341.7 2211.02h38.1M3417.4 2211.02h38.1M3455.3 2211.02h38.1M3531.0 2211.02h38.1M3758.1 2211.02h38.1M3871.6 2211.02h38.1M465.5 2225.17h38.1M579.0 2225.17h38.1M616.8 2225.17h38.1M692.5 2225.17h38.1M730.4 2225.17h38.1M957.5 2225.17h38.1M995.3 2225.17h38.1M1449.4 2225.17h38.1M1865.8 2225.17h38.1M2774.1 2225.17h38.1M2811.9 2225.17h38.1M3228.2 2225.17h38.1M3531.0 2225.17h38.1M3682.4 2225.17h38.1M465.5 2239.31h38.1M654.7 2239.31h38.1M730.4 2239.31h38.1M843.9 2239.31h38.1M995.3 2239.31h38.1M2509.1 2239.31h38.1M2660.5 2239.31h38.1M2774.1 2239.31h38.1M2849.8 2239.31h38.1M3039.0 2239.31h38.1M3266.1 2239.31h38.1M3379.6 2239.31h38.1M3795.9 2239.31h38.1M3833.7 2239.31h38.1M1260.2 2253.46h38.1M1449.4 2253.46h38.1M1600.8 2253.46h38.1M1638.7 2253.46h38.1M2736.2 2253.46h38.1M2849.8 2253.46h38.1M2963.3 2253.46h38.1M3114.7 2253.46h38.1M3228.2 2253.46h38.1M3379.6 2253.46h38.1M3455.3 2253.46h38.1M3493.1 2253.46h38.1M3644.5 2253.46h38.1M389.8 2267.60h38.1M579.0 2267.60h38.1M881.8 2267.60h38.1M957.5 2267.60h38.1M1298.1 2267.60h38.1M1525.1 2267.60h38.1M1865.8 2267.60h38.1M2471.3 2267.60h38.1M3114.7 2267.60h38.1M3190.4 2267.60h38.1M3379.6 2267.60h38.1M503.3 2281.75h38.1M579.0 2281.75h38.1M806.1 2281.75h38.1M957.5 2281.75h38.1M1033.1 2281.75h38.1M1260.2 2281.75h38.1M1373.8 2281.75h38.1M1487.3 2281.75h38.1M1714.4 2281.75h38.1M2584.8 2281.75h38.1M3039.0 2281.75h38.1M3152.5 2281.75h38.1M3190.4 2281.75h38.1M3379.6 2281.75h38.1M3493.1 2281.75h38.1M3833.7 2281.75h38.1M427.6 2295.89h38.1M579.0 2295.89h38.1M1184.5 2295.89h38.1M1449.4 2295.89h38.1M1563.0 2295.89h38.1M2963.3 2295.89h38.1M3190.4 2295.89h38.1M3303.9 2295.89h38.1M3341.7 2295.89h38.1M3417.4 2295.89h38.1M503.3 2310.04h38.1M541.1 2310.04h38.1M995.3 2310.04h38.1M1184.5 2310.04h38.1M1676.5 2310.04h38.1M1752.2 2310.04h38.1M2471.3 2310.04h38.1M2698.4 2310.04h38.1M3190.4 2310.04h38.1M3720.2 2310.04h38.1M654.7 2324.19h38.1M730.4 2324.19h38.1M957.5 2324.19h38.1M1033.1 2324.19h38.1M1487.3 2324.19h38.1M1790.1 2324.19h38.1M1865.8 2324.19h38.1M2698.4 2324.19h38.1M2925.4 2324.19h38.1M3266.1 2324.19h38.1M3455.3 2324.19h38.1M3568.8 2324.19h38.1M3606.7 2324.19h38.1M3644.5 2324.19h38.1M3833.7 2324.19h38.1M427.6 2338.33h38.1M503.3 2338.33h38.1M768.2 2338.33h38.1M1033.1 2338.33h38.1M1108.8 2338.33h38.1M1335.9 2338.33h38.1M1487.3 2338.33h38.1M1752.2 2338.33h38.1M1827.9 2338.33h38.1M1903.6 2338.33h38.1M2660.5 2338.33h38.1M2698.4 2338.33h38.1M2736.2 2338.33h38.1M2811.9 2338.33h38.1M3076.8 2338.33h38.1M3644.5 2338.33h38.1M3795.9 2338.33h38.1M427.6 2352.48h38.1M881.8 2352.48h38.1M995.3 2352.48h38.1M1260.2 2352.48h38.1M1525.1 2352.48h38.1M2282.1 2352.48h38.1M3228.2 2352.48h38.1M3266.1 2352.48h38.1M3303.9 2352.48h38.1M3455.3 2352.48h38.1M3531.0 2352.48h38.1M541.1 2366.62h38.1M654.7 2366.62h38.1M957.5 2366.62h38.1M1260.2 2366.62h38.1M1638.7 2366.62h38.1M2925.4 2366.62h38.1M3039.0 2366.62h38.1M3076.8 2366.62h38.1M3152.5 2366.62h38.1M3190.4 2366.62h38.1M3228.2 2366.62h38.1M3379.6 2366.62h38.1M3568.8 2366.62h38.1M389.8 2380.77h38.1M730.4 2380.77h38.1M806.1 2380.77h38.1M957.5 2380.77h38.1M1411.6 2380.77h38.1M2357.8 2380.77h38.1M3001.1 2380.77h38.1M3228.2 2380.77h38.1M3531.0 2380.77h38.1M3568.8 2380.77h38.1M3871.6 2380.77h38.1M616.8 2394.91h38.1M1335.9 2394.91h38.1M1752.2 2394.91h38.1M1865.8 2394.91h38.1M1903.6 2394.91h38.1M1941.4 2394.91h38.1M2660.5 2394.91h38.1M3114.7 2394.91h38.1M3303.9 2394.91h38.1M3417.4 2394.91h38.1M3493.1 2394.91h38.1M503.3 2409.06h38.1M579.0 2409.06h38.1M654.7 2409.06h38.1M806.1 2409.06h38.1M919.6 2409.06h38.1M957.5 2409.06h38.1M1222.4 2409.06h38.1M1298.1 2409.06h38.1M1449.4 2409.06h38.1M1600.8 2409.06h38.1M2811.9 2409.06h38.1M3001.1 2409.06h38.1M3190.4 2409.06h38.1M3417.4 2409.06h38.1M3455.3 2409.06h38.1M3531.0 2409.06h38.1M427.6 2423.20h38.1M730.4 2423.20h38.1M1525.1 2423.20h38.1M1676.5 2423.20h38.1M1790.1 2423.20h38.1M2433.4 2423.20h38.1M2736.2 2423.20h38.1M3644.5 2423.20h38.1M3758.1 2423.20h38.1M3795.9 2423.20h38.1M806.1 2437.35h38.1M919.6 2437.35h38.1M1222.4 2437.35h38.1M1373.8 2437.35h38.1M1563.0 2437.35h38.1M1714.4 2437.35h38.1M1790.1 2437.35h38.1M1827.9 2437.35h38.1M2509.1 2437.35h38.1M2660.5 2437.35h38.1M2849.8 2437.35h38.1M3001.1 2437.35h38.1M3039.0 2437.35h38.1M3644.5 2437.35h38.1M3795.9 2437.35h38.1M427.6 2451.49h38.1M541.1 2451.49h38.1M730.4 2451.49h38.1M806.1 2451.49h38.1M1827.9 2451.49h38.1M2774.1 2451.49h38.1M2925.4 2451.49h38.1M3001.1 2451.49h38.1M3152.5 2451.49h38.1M3190.4 2451.49h38.1M3341.7 2451.49h38.1M3531.0 2451.49h38.1M1298.1 2465.64h38.1M1752.2 2465.64h38.1M1790.1 2465.64h38.1M1827.9 2465.64h38.1M2547.0 2465.64h38.1M2736.2 2465.64h38.1M2887.6 2465.64h38.1M3114.7 2465.64h38.1M3152.5 2465.64h38.1M3190.4 2465.64h38.1M3531.0 2465.64h38.1M3606.7 2465.64h38.1M3758.1 2465.64h38.1M3871.6 2465.64h38.1M654.7 2479.78h38.1M768.2 2479.78h38.1M1071.0 2479.78h38.1M1146.7 2479.78h38.1M1184.5 2479.78h38.1M1563.0 2479.78h38.1M2736.2 2479.78h38.1M2774.1 2479.78h38.1M3039.0 2479.78h38.1M3190.4 2479.78h38.1M3303.9 2479.78h38.1M3795.9 2479.78h38.1M427.6 2493.93h38.1M541.1 2493.93h38.1M654.7 2493.93h38.1M995.3 2493.93h38.1M1184.5 2493.93h38.1M1222.4 2493.93h38.1M1487.3 2493.93h38.1M1676.5 2493.93h38.1M2471.3 2493.93h38.1M3152.5 2493.93h38.1M3379.6 2493.93h38.1M3493.1 2493.93h38.1M3568.8 2493.93h38.1M3682.4 2493.93h38.1M3758.1 2493.93h38.1M427.6 2508.07h38.1M957.5 2508.07h38.1M1184.5 2508.07h38.1M1260.2 2508.07h38.1M1335.9 2508.07h38.1M1373.8 2508.07h38.1M1563.0 2508.07h38.1M1676.5 2508.07h38.1M1790.1 2508.07h38.1M2130.7 2508.07h38.1M2471.3 2508.07h38.1M2736.2 2508.07h38.1M2811.9 2508.07h38.1M2849.8 2508.07h38.1M3114.7 2508.07h38.1M3303.9 2508.07h38.1M3568.8 2508.07h38.1M3795.9 2508.07h38.1M3871.6 2508.07h38.1M503.3 2522.22h38.1M881.8 2522.22h38.1M957.5 2522.22h38.1M1033.1 2522.22h38.1M1071.0 2522.22h38.1M1298.1 2522.22h38.1M1449.4 2522.22h38.1M1525.1 2522.22h38.1M1676.5 2522.22h38.1M1865.8 2522.22h38.1M2736.2 2522.22h38.1M3039.0 2522.22h38.1M1071.0 2536.36h38.1M1335.9 2536.36h38.1M1600.8 2536.36h38.1M1676.5 2536.36h38.1M1865.8 2536.36h38.1M2017.1 2536.36h38.1M2206.4 2536.36h38.1M2660.5 2536.36h38.1M2811.9 2536.36h38.1M2887.6 2536.36h38.1M3152.5 2536.36h38.1M3379.6 2536.36h38.1M3531.0 2536.36h38.1M3568.8 2536.36h38.1M3720.2 2536.36h38.1M541.1 2550.51h38.1M919.6 2550.51h38.1M1222.4 2550.51h38.1M1335.9 2550.51h38.1M1638.7 2550.51h38.1M1903.6 2550.51h38.1M1941.4 2550.51h38.1M2622.7 2550.51h38.1M3341.7 2550.51h38.1M3379.6 2550.51h38.1M3568.8 2550.51h38.1M730.4 2564.66h38.1M881.8 2564.66h38.1M995.3 2564.66h38.1M1033.1 2564.66h38.1M1071.0 2564.66h38.1M1146.7 2564.66h38.1M1260.2 2564.66h38.1M1752.2 2564.66h38.1M2357.8 2564.66h38.1M2660.5 2564.66h38.1M2925.4 2564.66h38.1M3228.2 2564.66h38.1M3379.6 2564.66h38.1M3417.4 2564.66h38.1M427.6 2578.80h38.1M579.0 2578.80h38.1M881.8 2578.80h38.1M957.5 2578.80h38.1M1298.1 2578.80h38.1M1373.8 2578.80h38.1M2244.2 2578.80h38.1M2395.6 2578.80h38.1M2433.4 2578.80h38.1M2698.4 2578.80h38.1M2774.1 2578.80h38.1M3114.7 2578.80h38.1M3644.5 2578.80h38.1M3682.4 2578.80h38.1M3720.2 2578.80h38.1M541.1 2592.95h38.1M654.7 2592.95h38.1M692.5 2592.95h38.1M768.2 2592.95h38.1M1146.7 2592.95h38.1M1222.4 2592.95h38.1M1638.7 2592.95h38.1M1714.4 2592.95h38.1M1903.6 2592.95h38.1M1941.4 2592.95h38.1M2774.1 2592.95h38.1M3190.4 2592.95h38.1M3266.1 2592.95h38.1M3606.7 2592.95h38.1M3758.1 2592.95h38.1M3795.9 2592.95h38.1"/><path fill="none" stroke="#7100a8" stroke-width="14.45" d="M427.6 980.38h38.1M465.5 980.38h38.1M692.5 980.38h38.1M806.1 980.38h38.1M1373.8 980.38h38.1M1752.2 980.38h38.1M1903.6 980.38h38.1M1941.4 980.38h38.1M2017.1 980.38h38.1M2244.2 980.38h38.1M2433.4 980.38h38.1M2736.2 980.38h38.1M3001.1 980.38h38.1M3228.2 980.38h38.1M3266.1 980.38h38.1M3455.3 980.38h38.1M3568.8 980.38h38.1M3720.2 980.38h38.1M768.2 994.53h38.1M919.6 994.53h38.1M957.5 994.53h38.1M1033.1 994.53h38.1M1260.2 994.53h38.1M1638.7 994.53h38.1M1676.5 994.53h38.1M1865.8 994.53h38.1M1903.6 994.53h38.1M2547.0 994.53h38.1M2584.8 994.53h38.1M3190.4 994.53h38.1M3758.1 994.53h38.1M541.1 1008.67h38.1M957.5 1008.67h38.1M995.3 1008.67h38.1M1071.0 1008.67h38.1M1146.7 1008.67h38.1M1487.3 1008.67h38.1M1563.0 1008.67h38.1M2168.5 1008.67h38.1M2244.2 1008.67h38.1M3001.1 1008.67h38.1M3114.7 1008.67h38.1M3228.2 1008.67h38.1M3455.3 1008.67h38.1M3720.2 1008.67h38.1M541.1 1022.82h38.1M919.6 1022.82h38.1M995.3 1022.82h38.1M1260.2 1022.82h38.1M1335.9 1022.82h38.1M1449.4 1022.82h38.1M1676.5 1022.82h38.1M1714.4 1022.82h38.1M1790.1 1022.82h38.1M1979.3 1022.82h38.1M2017.1 1022.82h38.1M2055.0 1022.82h38.1M2244.2 1022.82h38.1M2433.4 1022.82h38.1M3039.0 1022.82h38.1M3190.4 1022.82h38.1M3228.2 1022.82h38.1M3303.9 1022.82h38.1M3493.1 1022.82h38.1M3682.4 1022.82h38.1M3720.2 1022.82h38.1M3833.7 1022.82h38.1M3871.6 1022.82h38.1M427.6 1036.96h38.1M730.4 1036.96h38.1M919.6 1036.96h38.1M1373.8 1036.96h38.1M1411.6 1036.96h38.1M1676.5 1036.96h38.1M1790.1 1036.96h38.1M1941.4 1036.96h38.1M1979.3 1036.96h38.1M2206.4 1036.96h38.1M2319.9 1036.96h38.1M2471.3 1036.96h38.1M2622.7 1036.96h38.1M2660.5 1036.96h38.1M2774.1 1036.96h38.1M3039.0 1036.96h38.1M3266.1 1036.96h38.1M427.6 1051.11h38.1M1033.1 1051.11h38.1M1335.9 1051.11h38.1M1411.6 1051.11h38.1M2055.0 1051.11h38.1M2130.7 1051.11h38.1M2206.4 1051.11h38.1M2622.7 1051.11h38.1M2736.2 1051.11h38.1M2774.1 1051.11h38.1M2811.9 1051.11h38.1M2849.8 1051.11h38.1M3531.0 1051.11h38.1M3568.8 1051.11h38.1M3720.2 1051.11h38.1M3871.6 1051.11h38.1M692.5 1065.25h38.1M843.9 1065.25h38.1M957.5 1065.25h38.1M1411.6 1065.25h38.1M1487.3 1065.25h38.1M1827.9 1065.25h38.1M1903.6 1065.25h38.1M1941.4 1065.25h38.1M2130.7 1065.25h38.1M2584.8 1065.25h38.1M2660.5 1065.25h38.1M2963.3 1065.25h38.1M3379.6 1065.25h38.1M3531.0 1065.25h38.1M3568.8 1065.25h38.1M3682.4 1065.25h38.1M3720.2 1065.25h38.1M3795.9 1065.25h38.1M503.3 1079.40h38.1M579.0 1079.40h38.1M768.2 1079.40h38.1M806.1 1079.40h38.1M957.5 1079.40h38.1M1487.3 1079.40h38.1M1525.1 1079.40h38.1M1714.4 1079.40h38.1M1752.2 1079.40h38.1M1903.6 1079.40h38.1M2055.0 1079.40h38.1M2168.5 1079.40h38.1M2206.4 1079.40h38.1M2319.9 1079.40h38.1M2622.7 1079.40h38.1M2660.5 1079.40h38.1M2736.2 1079.40h38.1M2811.9 1079.40h38.1M2849.8 1079.40h38.1M3001.1 1079.40h38.1M3114.7 1079.40h38.1M3303.9 1079.40h38.1M3379.6 1079.40h38.1M3417.4 1079.40h38.1M3493.1 1079.40h38.1M3568.8 1079.40h38.1M389.8 1093.54h38.1M465.5 1093.54h38.1M806.1 1093.54h38.1M881.8 1093.54h38.1M1525.1 1093.54h38.1M1600.8 1093.54h38.1M1790.1 1093.54h38.1M1903.6 1093.54h38.1M1979.3 1093.54h38.1M2244.2 1093.54h38.1M2736.2 1093.54h38.1M2811.9 1093.54h38.1M2887.6 1093.54h38.1M3039.0 1093.54h38.1M3076.8 1093.54h38.1M3190.4 1093.54h38.1M3833.7 1093.54h38.1M389.8 1107.69h38.1M465.5 1107.69h38.1M806.1 1107.69h38.1M1108.8 1107.69h38.1M1146.7 1107.69h38.1M1184.5 1107.69h38.1M1298.1 1107.69h38.1M1865.8 1107.69h38.1M2092.8 1107.69h38.1M2433.4 1107.69h38.1M2547.0 1107.69h38.1M2849.8 1107.69h38.1M2925.4 1107.69h38.1M3001.1 1107.69h38.1M3039.0 1107.69h38.1M3114.7 1107.69h38.1M3266.1 1107.69h38.1M3417.4 1107.69h38.1M3493.1 1107.69h38.1M3606.7 1107.69h38.1M3644.5 1107.69h38.1M3758.1 1107.69h38.1M3795.9 1107.69h38.1M427.6 1121.83h38.1M616.8 1121.83h38.1M768.2 1121.83h38.1M806.1 1121.83h38.1M995.3 1121.83h38.1M1184.5 1121.83h38.1M1449.4 1121.83h38.1M1487.3 1121.83h38.1M1600.8 1121.83h38.1M1676.5 1121.83h38.1M1714.4 1121.83h38.1M2055.0 1121.83h38.1M2092.8 1121.83h38.1M2471.3 1121.83h38.1M2509.1 1121.83h38.1M2622.7 1121.83h38.1M2698.4 1121.83h38.1M2811.9 1121.83h38.1M3039.0 1121.83h38.1M3076.8 1121.83h38.1M3114.7 1121.83h38.1M3152.5 1121.83h38.1M3190.4 1121.83h38.1M3568.8 1121.83h38.1M3644.5 1121.83h38.1M654.7 1135.98h38.1M806.1 1135.98h38.1M843.9 1135.98h38.1M881.8 1135.98h38.1M1638.7 1135.98h38.1M1676.5 1135.98h38.1M1790.1 1135.98h38.1M1903.6 1135.98h38.1M2055.0 1135.98h38.1M2206.4 1135.98h38.1M2433.4 1135.98h38.1M2622.7 1135.98h38.1M2698.4 1135.98h38.1M2887.6 1135.98h38.1M3152.5 1135.98h38.1M3303.9 1135.98h38.1M3493.1 1135.98h38.1M3682.4 1135.98h38.1M3871.6 1135.98h38.1M427.6 1150.12h38.1M465.5 1150.12h38.1M616.8 1150.12h38.1M1071.0 1150.12h38.1M1222.4 1150.12h38.1M1298.1 1150.12h38.1M1449.4 1150.12h38.1M1638.7 1150.12h38.1M1676.5 1150.12h38.1M1827.9 1150.12h38.1M2055.0 1150.12h38.1M2357.8 1150.12h38.1M2433.4 1150.12h38.1M2471.3 1150.12h38.1M2660.5 1150.12h38.1M2925.4 1150.12h38.1M3001.1 1150.12h38.1M3076.8 1150.12h38.1M3379.6 1150.12h38.1M389.8 1164.27h38.1M427.6 1164.27h38.1M768.2 1164.27h38.1M843.9 1164.27h38.1M1108.8 1164.27h38.1M1260.2 1164.27h38.1M1449.4 1164.27h38.1M1487.3 1164.27h38.1M1600.8 1164.27h38.1M1752.2 1164.27h38.1M1941.4 1164.27h38.1M2433.4 1164.27h38.1M2509.1 1164.27h38.1M2547.0 1164.27h38.1M2660.5 1164.27h38.1M3152.5 1164.27h38.1M3228.2 1164.27h38.1M3493.1 1164.27h38.1M3871.6 1164.27h38.1M389.8 1178.41h38.1M427.6 1178.41h38.1M579.0 1178.41h38.1M692.5 1178.41h38.1M806.1 1178.41h38.1M919.6 1178.41h38.1M1335.9 1178.41h38.1M1600.8 1178.41h38.1M1676.5 1178.41h38.1M1790.1 1178.41h38.1M1827.9 1178.41h38.1M2319.9 1178.41h38.1M2395.6 1178.41h38.1M2584.8 1178.41h38.1M3152.5 1178.41h38.1M3190.4 1178.41h38.1M3758.1 1178.41h38.1M3795.9 1178.41h38.1M3833.7 1178.41h38.1M3871.6 1178.41h38.1M503.3 1192.56h38.1M654.7 1192.56h38.1M692.5 1192.56h38.1M919.6 1192.56h38.1M995.3 1192.56h38.1M1108.8 1192.56h38.1M1146.7 1192.56h38.1M1222.4 1192.56h38.1M1298.1 1192.56h38.1M1411.6 1192.56h38.1M1563.0 1192.56h38.1M1676.5 1192.56h38.1M1714.4 1192.56h38.1M1903.6 1192.56h38.1M2433.4 1192.56h38.1M2471.3 1192.56h38.1M2547.0 1192.56h38.1M2622.7 1192.56h38.1M2698.4 1192.56h38.1M2774.1 1192.56h38.1M3001.1 1192.56h38.1M3039.0 1192.56h38.1M3152.5 1192.56h38.1M3303.9 1192.56h38.1M3682.4 1192.56h38.1M3795.9 1192.56h38.1M427.6 1206.71h38.1M503.3 1206.71h38.1M541.1 1206.71h38.1M616.8 1206.71h38.1M730.4 1206.71h38.1M881.8 1206.71h38.1M1108.8 1206.71h38.1M1222.4 1206.71h38.1M1373.8 1206.71h38.1M1563.0 1206.71h38.1M1790.1 1206.71h38.1M1903.6 1206.71h38.1M2017.1 1206.71h38.1M2092.8 1206.71h38.1M2130.7 1206.71h38.1M2282.1 1206.71h38.1M2357.8 1206.71h38.1M2433.4 1206.71h38.1M2509.1 1206.71h38.1M2622.7 1206.71h38.1M2660.5 1206.71h38.1M2736.2 1206.71h38.1M3076.8 1206.71h38.1M3266.1 1206.71h38.1M3341.7 1206.71h38.1M3455.3 1206.71h38.1M3493.1 1206.71h38.1M3606.7 1206.71h38.1M427.6 1220.85h38.1M541.1 1220.85h38.1M616.8 1220.85h38.1M692.5 1220.85h38.1M768.2 1220.85h38.1M1108.8 1220.85h38.1M1222.4 1220.85h38.1M1298.1 1220.85h38.1M1411.6 1220.85h38.1M1487.3 1220.85h38.1M1752.2 1220.85h38.1M1865.8 1220.85h38.1M1979.3 1220.85h38.1M2206.4 1220.85h38.1M2319.9 1220.85h38.1M2357.8 1220.85h38.1M2584.8 1220.85h38.1M2774.1 1220.85h38.1M2849.8 1220.85h38.1M3076.8 1220.85h38.1M3152.5 1220.85h38.1M3341.7 1220.85h38.1M995.3 1235.00h38.1M1298.1 1235.00h38.1M1638.7 1235.00h38.1M2092.8 1235.00h38.1M2130.7 1235.00h38.1M2319.9 1235.00h38.1M2622.7 1235.00h38.1M2660.5 1235.00h38.1M3039.0 1235.00h38.1M3228.2 1235.00h38.1M3493.1 1235.00h38.1M427.6 1249.14h38.1M541.1 1249.14h38.1M881.8 1249.14h38.1M1373.8 1249.14h38.1M1752.2 1249.14h38.1M1865.8 1249.14h38.1M1903.6 1249.14h38.1M2017.1 1249.14h38.1M2055.0 1249.14h38.1M2092.8 1249.14h38.1M2168.5 1249.14h38.1M2206.4 1249.14h38.1M2319.9 1249.14h38.1M2736.2 1249.14h38.1M3114.7 1249.14h38.1M3341.7 1249.14h38.1M3379.6 1249.14h38.1M3417.4 1249.14h38.1M3455.3 1249.14h38.1M3568.8 1249.14h38.1M3682.4 1249.14h38.1M3758.1 1249.14h38.1M3871.6 1249.14h38.1M427.6 1263.29h38.1M616.8 1263.29h38.1M881.8 1263.29h38.1M1146.7 1263.29h38.1M1411.6 1263.29h38.1M1563.0 1263.29h38.1M1638.7 1263.29h38.1M1752.2 1263.29h38.1M1790.1 1263.29h38.1M1903.6 1263.29h38.1M1941.4 1263.29h38.1M1979.3 1263.29h38.1M2017.1 1263.29h38.1M2130.7 1263.29h38.1M2509.1 1263.29h38.1M2925.4 1263.29h38.1M3417.4 1263.29h38.1M3606.7 1263.29h38.1M3758.1 1263.29h38.1M3795.9 1263.29h38.1M389.8 1277.43h38.1M503.3 1277.43h38.1M768.2 1277.43h38.1M1033.1 1277.43h38.1M1184.5 1277.43h38.1M1373.8 1277.43h38.1M1449.4 1277.43h38.1M1487.3 1277.43h38.1M1563.0 1277.43h38.1M1790.1 1277.43h38.1M1903.6 1277.43h38.1M1941.4 1277.43h38.1M2168.5 1277.43h38.1M2244.2 1277.43h38.1M2319.9 1277.43h38.1M2622.7 1277.43h38.1M2774.1 1277.43h38.1M3039.0 1277.43h38.1M3303.9 1277.43h38.1M3531.0 1277.43h38.1M389.8 1291.58h38.1M503.3 1291.58h38.1M692.5 1291.58h38.1M881.8 1291.58h38.1M995.3 1291.58h38.1M1487.3 1291.58h38.1M1525.1 1291.58h38.1M1638.7 1291.58h38.1M2168.5 1291.58h38.1M2509.1 1291.58h38.1M2660.5 1291.58h38.1M2736.2 1291.58h38.1M2963.3 1291.58h38.1M3039.0 1291.58h38.1M3152.5 1291.58h38.1M3228.2 1291.58h38.1M3303.9 1291.58h38.1M3682.4 1291.58h38.1M3795.9 1291.58h38.1M3833.7 1291.58h38.1M3871.6 1291.58h38.1M541.1 1305.72h38.1M768.2 1305.72h38.1M843.9 1305.72h38.1M1487.3 1305.72h38.1M1525.1 1305.72h38.1M1676.5 1305.72h38.1M2130.7 1305.72h38.1M2168.5 1305.72h38.1M2471.3 1305.72h38.1M2736.2 1305.72h38.1M2774.1 1305.72h38.1M2887.6 1305.72h38.1M3076.8 1305.72h38.1M3303.9 1305.72h38.1M3379.6 1305.72h38.1M3417.4 1305.72h38.1M3833.7 1305.72h38.1M389.8 1319.87h38.1M579.0 1319.87h38.1M768.2 1319.87h38.1M881.8 1319.87h38.1M919.6 1319.87h38.1M995.3 1319.87h38.1M1033.1 1319.87h38.1M1071.0 1319.87h38.1M1222.4 1319.87h38.1M1335.9 1319.87h38.1M1449.4 1319.87h38.1M1563.0 1319.87h38.1M1941.4 1319.87h38.1M2282.1 1319.87h38.1M2357.8 1319.87h38.1M2395.6 1319.87h38.1M2622.7 1319.87h38.1M2698.4 1319.87h38.1M2849.8 1319.87h38.1M2963.3 1319.87h38.1M3001.1 1319.87h38.1M3039.0 1319.87h38.1M3190.4 1319.87h38.1M3228.2 1319.87h38.1M3266.1 1319.87h38.1M3493.1 1319.87h38.1M3795.9 1319.87h38.1M3871.6 1319.87h38.1M579.0 1334.01h38.1M919.6 1334.01h38.1M1184.5 1334.01h38.1M1373.8 1334.01h38.1M1487.3 1334.01h38.1M1714.4 1334.01h38.1M1827.9 1334.01h38.1M1941.4 1334.01h38.1M1979.3 1334.01h38.1M2017.1 1334.01h38.1M2206.4 1334.01h38.1M2433.4 1334.01h38.1M2584.8 1334.01h38.1M2622.7 1334.01h38.1M2811.9 1334.01h38.1M2849.8 1334.01h38.1M3114.7 1334.01h38.1M3152.5 1334.01h38.1M3531.0 1334.01h38.1M3606.7 1334.01h38.1M3644.5 1334.01h38.1M3720.2 1334.01h38.1M3795.9 1334.01h38.1M389.8 1348.16h38.1M654.7 1348.16h38.1M768.2 1348.16h38.1M843.9 1348.16h38.1M957.5 1348.16h38.1M995.3 1348.16h38.1M1033.1 1348.16h38.1M1222.4 1348.16h38.1M1260.2 1348.16h38.1M1449.4 1348.16h38.1M1563.0 1348.16h38.1M1790.1 1348.16h38.1M2055.0 1348.16h38.1M2130.7 1348.16h38.1M2319.9 1348.16h38.1M2509.1 1348.16h38.1M2660.5 1348.16h38.1M2698.4 1348.16h38.1M2849.8 1348.16h38.1M3076.8 1348.16h38.1M3152.5 1348.16h38.1M3379.6 1348.16h38.1M3455.3 1348.16h38.1M3758.1 1348.16h38.1M3795.9 1348.16h38.1M3833.7 1348.16h38.1M616.8 1362.30h38.1M654.7 1362.30h38.1M1335.9 1362.30h38.1M1411.6 1362.30h38.1M1449.4 1362.30h38.1M1525.1 1362.30h38.1M1563.0 1362.30h38.1M1790.1 1362.30h38.1M1903.6 1362.30h38.1M2168.5 1362.30h38.1M2282.1 1362.30h38.1M2319.9 1362.30h38.1M2736.2 1362.30h38.1M3076.8 1362.30h38.1M3114.7 1362.30h38.1M3190.4 1362.30h38.1M3228.2 1362.30h38.1M3379.6 1362.30h38.1M3795.9 1362.30h38.1M3833.7 1362.30h38.1M503.3 1376.45h38.1M616.8 1376.45h38.1M730.4 1376.45h38.1M1033.1 1376.45h38.1M1146.7 1376.45h38.1M1184.5 1376.45h38.1M1563.0 1376.45h38.1M1827.9 1376.45h38.1M1865.8 1376.45h38.1M1941.4 1376.45h38.1M2017.1 1376.45h38.1M2055.0 1376.45h38.1M2244.2 1376.45h38.1M2433.4 1376.45h38.1M2622.7 1376.45h38.1M2849.8 1376.45h38.1M2925.4 1376.45h38.1M3039.0 1376.45h38.1M3303.9 1376.45h38.1M3417.4 1376.45h38.1M3720.2 1376.45h38.1M3795.9 1376.45h38.1M3871.6 1376.45h38.1M465.5 1390.59h38.1M654.7 1390.59h38.1M806.1 1390.59h38.1M957.5 1390.59h38.1M995.3 1390.59h38.1M1298.1 1390.59h38.1M1373.8 1390.59h38.1M1752.2 1390.59h38.1M1865.8 1390.59h38.1M2244.2 1390.59h38.1M2319.9 1390.59h38.1M2433.4 1390.59h38.1M2849.8 1390.59h38.1M2963.3 1390.59h38.1M3001.1 1390.59h38.1M3039.0 1390.59h38.1M3455.3 1390.59h38.1M3531.0 1390.59h38.1M3758.1 1390.59h38.1M389.8 1404.74h38.1M427.6 1404.74h38.1M881.8 1404.74h38.1M957.5 1404.74h38.1M1071.0 1404.74h38.1M1373.8 1404.74h38.1M1449.4 1404.74h38.1M1865.8 1404.74h38.1M1903.6 1404.74h38.1M2017.1 1404.74h38.1M2092.8 1404.74h38.1M2244.2 1404.74h38.1M2319.9 1404.74h38.1M2660.5 1404.74h38.1M2774.1 1404.74h38.1M3076.8 1404.74h38.1M3341.7 1404.74h38.1M3720.2 1404.74h38.1M3758.1 1404.74h38.1M465.5 1418.89h38.1M654.7 1418.89h38.1M730.4 1418.89h38.1M768.2 1418.89h38.1M881.8 1418.89h38.1M995.3 1418.89h38.1M1222.4 1418.89h38.1M1449.4 1418.89h38.1M1487.3 1418.89h38.1M1714.4 1418.89h38.1M1790.1 1418.89h38.1M1865.8 1418.89h38.1M2092.8 1418.89h38.1M2319.9 1418.89h38.1M2547.0 1418.89h38.1M2774.1 1418.89h38.1M3076.8 1418.89h38.1M3190.4 1418.89h38.1M3341.7 1418.89h38.1M3644.5 1418.89h38.1M465.5 1433.03h38.1M806.1 1433.03h38.1M881.8 1433.03h38.1M995.3 1433.03h38.1M1071.0 1433.03h38.1M1449.4 1433.03h38.1M1714.4 1433.03h38.1M1752.2 1433.03h38.1M1865.8 1433.03h38.1M1903.6 1433.03h38.1M1979.3 1433.03h38.1M2395.6 1433.03h38.1M2736.2 1433.03h38.1M3076.8 1433.03h38.1M3114.7 1433.03h38.1M3455.3 1433.03h38.1M3568.8 1433.03h38.1M3606.7 1433.03h38.1M3871.6 1433.03h38.1M654.7 1447.18h38.1M881.8 1447.18h38.1M957.5 1447.18h38.1M995.3 1447.18h38.1M1449.4 1447.18h38.1M1638.7 1447.18h38.1M2168.5 1447.18h38.1M2622.7 1447.18h38.1M2811.9 1447.18h38.1M2887.6 1447.18h38.1M3379.6 1447.18h38.1M3493.1 1447.18h38.1M3644.5 1447.18h38.1M3833.7 1447.18h38.1M389.8 1461.32h38.1M503.3 1461.32h38.1M730.4 1461.32h38.1M806.1 1461.32h38.1M1373.8 1461.32h38.1M1411.6 1461.32h38.1M1563.0 1461.32h38.1M1600.8 1461.32h38.1M1790.1 1461.32h38.1M1827.9 1461.32h38.1M1903.6 1461.32h38.1M1941.4 1461.32h38.1M2092.8 1461.32h38.1M2130.7 1461.32h38.1M2774.1 1461.32h38.1M2811.9 1461.32h38.1M2925.4 1461.32h38.1M2963.3 1461.32h38.1M3303.9 1461.32h38.1M654.7 1475.47h38.1M843.9 1475.47h38.1M919.6 1475.47h38.1M1108.8 1475.47h38.1M1449.4 1475.47h38.1M1487.3 1475.47h38.1M1600.8 1475.47h38.1M1714.4 1475.47h38.1M1941.4 1475.47h38.1M2168.5 1475.47h38.1M2471.3 1475.47h38.1M2509.1 1475.47h38.1M2547.0 1475.47h38.1M2698.4 1475.47h38.1M2849.8 1475.47h38.1M2963.3 1475.47h38.1M3001.1 1475.47h38.1M3039.0 1475.47h38.1M3076.8 1475.47h38.1M3152.5 1475.47h38.1M3266.1 1475.47h38.1M3455.3 1475.47h38.1M3568.8 1475.47h38.1M3644.5 1475.47h38.1M3758.1 1475.47h38.1M389.8 1489.61h38.1M692.5 1489.61h38.1M806.1 1489.61h38.1M957.5 1489.61h38.1M1033.1 1489.61h38.1M1108.8 1489.61h38.1M1373.8 1489.61h38.1M1449.4 1489.61h38.1M1752.2 1489.61h38.1M1827.9 1489.61h38.1M1865.8 1489.61h38.1M1941.4 1489.61h38.1M1979.3 1489.61h38.1M2168.5 1489.61h38.1M2357.8 1489.61h38.1M2509.1 1489.61h38.1M2622.7 1489.61h38.1M2660.5 1489.61h38.1M2849.8 1489.61h38.1M2887.6 1489.61h38.1M3228.2 1489.61h38.1M3303.9 1489.61h38.1M3417.4 1489.61h38.1M3644.5 1489.61h38.1M3682.4 1489.61h38.1M3758.1 1489.61h38.1M579.0 1503.76h38.1M730.4 1503.76h38.1M843.9 1503.76h38.1M881.8 1503.76h38.1M1260.2 1503.76h38.1M1335.9 1503.76h38.1M1714.4 1503.76h38.1M1865.8 1503.76h38.1M1941.4 1503.76h38.1M2055.0 1503.76h38.1M2547.0 1503.76h38.1M2584.8 1503.76h38.1M2774.1 1503.76h38.1M3303.9 1503.76h38.1M3417.4 1503.76h38.1M3493.1 1503.76h38.1M3568.8 1503.76h38.1M3833.7 1503.76h38.1M465.5 1517.90h38.1M503.3 1517.90h38.1M616.8 1517.90h38.1M730.4 1517.90h38.1M957.5 1517.90h38.1M1033.1 1517.90h38.1M1184.5 1517.90h38.1M1260.2 1517.90h38.1M1487.3 1517.90h38.1M1638.7 1517.90h38.1M1714.4 1517.90h38.1M1752.2 1517.90h38.1M2092.8 1517.90h38.1M2357.8 1517.90h38.1M2471.3 1517.90h38.1M2509.1 1517.90h38.1M3001.1 1517.90h38.1M3076.8 1517.90h38.1M3228.2 1517.90h38.1M3266.1 1517.90h38.1M3303.9 1517.90h38.1M3682.4 1517.90h38.1M3795.9 1517.90h38.1M427.6 1532.05h38.1M503.3 1532.05h38.1M616.8 1532.05h38.1M881.8 1532.05h38.1M919.6 1532.05h38.1M957.5 1532.05h38.1M1033.1 1532.05h38.1M1184.5 1532.05h38.1M1449.4 1532.05h38.1M1487.3 1532.05h38.1M1525.1 1532.05h38.1M1563.0 1532.05h38.1M1752.2 1532.05h38.1M1865.8 1532.05h38.1M1941.4 1532.05h38.1M2130.7 1532.05h38.1M2168.5 1532.05h38.1M2206.4 1532.05h38.1M2736.2 1532.05h38.1M2887.6 1532.05h38.1M2963.3 1532.05h38.1M3076.8 1532.05h38.1M3379.6 1532.05h38.1M3417.4 1532.05h38.1M3644.5 1532.05h38.1M389.8 1546.19h38.1M427.6 1546.19h38.1M579.0 1546.19h38.1M616.8 1546.19h38.1M843.9 1546.19h38.1M881.8 1546.19h38.1M919.6 1546.19h38.1M957.5 1546.19h38.1M1184.5 1546.19h38.1M1335.9 1546.19h38.1M1373.8 1546.19h38.1M1411.6 1546.19h38.1M1563.0 1546.19h38.1M1676.5 1546.19h38.1M1790.1 1546.19h38.1M1865.8 1546.19h38.1M1941.4 1546.19h38.1M2206.4 1546.19h38.1M2282.1 1546.19h38.1M2547.0 1546.19h38.1M3001.1 1546.19h38.1M3493.1 1546.19h38.1M3606.7 1546.19h38.1M3758.1 1546.19h38.1M503.3 1560.34h38.1M579.0 1560.34h38.1M881.8 1560.34h38.1M1184.5 1560.34h38.1M1222.4 1560.34h38.1M1411.6 1560.34h38.1M1449.4 1560.34h38.1M1827.9 1560.34h38.1M1865.8 1560.34h38.1M1941.4 1560.34h38.1M2092.8 1560.34h38.1M2319.9 1560.34h38.1M2509.1 1560.34h38.1M2547.0 1560.34h38.1M3190.4 1560.34h38.1M3379.6 1560.34h38.1M3417.4 1560.34h38.1M3493.1 1560.34h38.1M3720.2 1560.34h38.1M3833.7 1560.34h38.1M616.8 1574.48h38.1M768.2 1574.48h38.1M1108.8 1574.48h38.1M1260.2 1574.48h38.1M1449.4 1574.48h38.1M1638.7 1574.48h38.1M1941.4 1574.48h38.1M2055.0 1574.48h38.1M2168.5 1574.48h38.1M2319.9 1574.48h38.1M2357.8 1574.48h38.1M2736.2 1574.48h38.1M3001.1 1574.48h38.1M3039.0 1574.48h38.1M3379.6 1574.48h38.1M3531.0 1574.48h38.1M3568.8 1574.48h38.1M3644.5 1574.48h38.1M3720.2 1574.48h38.1M3758.1 1574.48h38.1M465.5 1588.63h38.1M616.8 1588.63h38.1M768.2 1588.63h38.1M881.8 1588.63h38.1M1033.1 1588.63h38.1M1335.9 1588.63h38.1M1525.1 1588.63h38.1M1638.7 1588.63h38.1M1827.9 1588.63h38.1M2055.0 1588.63h38.1M2244.2 1588.63h38.1M2319.9 1588.63h38.1M2357.8 1588.63h38.1M2395.6 1588.63h38.1M2584.8 1588.63h38.1M2622.7 1588.63h38.1M2660.5 1588.63h38.1M2698.4 1588.63h38.1M3001.1 1588.63h38.1M3303.9 1588.63h38.1M3379.6 1588.63h38.1M3568.8 1588.63h38.1M3871.6 1588.63h38.1M389.8 1602.77h38.1M427.6 1602.77h38.1M616.8 1602.77h38.1M1184.5 1602.77h38.1M1222.4 1602.77h38.1M1487.3 1602.77h38.1M1714.4 1602.77h38.1M1790.1 1602.77h38.1M1827.9 1602.77h38.1M1941.4 1602.77h38.1M2055.0 1602.77h38.1M2168.5 1602.77h38.1M2282.1 1602.77h38.1M2433.4 1602.77h38.1M2471.3 1602.77h38.1M2622.7 1602.77h38.1M2660.5 1602.77h38.1M3152.5 1602.77h38.1M3379.6 1602.77h38.1M3720.2 1602.77h38.1M3795.9 1602.77h38.1M616.8 1616.92h38.1M768.2 1616.92h38.1M881.8 1616.92h38.1M1184.5 1616.92h38.1M1487.3 1616.92h38.1M1752.2 1616.92h38.1M1903.6 1616.92h38.1M1979.3 1616.92h38.1M2017.1 1616.92h38.1M2055.0 1616.92h38.1M2092.8 1616.92h38.1M2319.9 1616.92h38.1M2622.7 1616.92h38.1M3266.1 1616.92h38.1M3341.7 1616.92h38.1M3379.6 1616.92h38.1M3455.3 1616.92h38.1M3568.8 1616.92h38.1M3758.1 1616.92h38.1M3795.9 1616.92h38.1M616.8 1631.06h38.1M995.3 1631.06h38.1M1108.8 1631.06h38.1M1222.4 1631.06h38.1M1335.9 1631.06h38.1M1411.6 1631.06h38.1M1752.2 1631.06h38.1M1979.3 1631.06h38.1M2055.0 1631.06h38.1M2244.2 1631.06h38.1M2319.9 1631.06h38.1M2811.9 1631.06h38.1M3341.7 1631.06h38.1M3417.4 1631.06h38.1M3493.1 1631.06h38.1M3606.7 1631.06h38.1M3644.5 1631.06h38.1M3682.4 1631.06h38.1M3795.9 1631.06h38.1M389.8 1645.21h38.1M654.7 1645.21h38.1M957.5 1645.21h38.1M995.3 1645.21h38.1M1033.1 1645.21h38.1M1071.0 1645.21h38.1M1411.6 1645.21h38.1M1563.0 1645.21h38.1M1714.4 1645.21h38.1M1979.3 1645.21h38.1M2319.9 1645.21h38.1M2547.0 1645.21h38.1M2698.4 1645.21h38.1M2887.6 1645.21h38.1M3001.1 1645.21h38.1M3758.1 1645.21h38.1M427.6 1659.36h38.1M465.5 1659.36h38.1M768.2 1659.36h38.1M881.8 1659.36h38.1M957.5 1659.36h38.1M1033.1 1659.36h38.1M1071.0 1659.36h38.1M1146.7 1659.36h38.1M1222.4 1659.36h38.1M1373.8 1659.36h38.1M1411.6 1659.36h38.1M1600.8 1659.36h38.1M1752.2 1659.36h38.1M1790.1 1659.36h38.1M1827.9 1659.36h38.1M1903.6 1659.36h38.1M1941.4 1659.36h38.1M1979.3 1659.36h38.1M2092.8 1659.36h38.1M2168.5 1659.36h38.1M2433.4 1659.36h38.1M2660.5 1659.36h38.1M2698.4 1659.36h38.1M2811.9 1659.36h38.1M2925.4 1659.36h38.1M3076.8 1659.36h38.1M3303.9 1659.36h38.1M3493.1 1659.36h38.1M3531.0 1659.36h38.1M3758.1 1659.36h38.1M3795.9 1659.36h38.1M3833.7 1659.36h38.1M3871.6 1659.36h38.1M427.6 1673.50h38.1M465.5 1673.50h38.1M503.3 1673.50h38.1M654.7 1673.50h38.1M692.5 1673.50h38.1M806.1 1673.50h38.1M1487.3 1673.50h38.1M1600.8 1673.50h38.1M1676.5 1673.50h38.1M1790.1 1673.50h38.1M1979.3 1673.50h38.1M2092.8 1673.50h38.1M2130.7 1673.50h38.1M2168.5 1673.50h38.1M2395.6 1673.50h38.1M3001.1 1673.50h38.1M3114.7 1673.50h38.1M3152.5 1673.50h38.1M3266.1 1673.50h38.1M3379.6 1673.50h38.1M3644.5 1673.50h38.1M3758.1 1673.50h38.1M3795.9 1673.50h38.1M654.7 1687.65h38.1M730.4 1687.65h38.1M1071.0 1687.65h38.1M1108.8 1687.65h38.1M1260.2 1687.65h38.1M1298.1 1687.65h38.1M1335.9 1687.65h38.1M1449.4 1687.65h38.1M1638.7 1687.65h38.1M1714.4 1687.65h38.1M1827.9 1687.65h38.1M2017.1 1687.65h38.1M2130.7 1687.65h38.1M2206.4 1687.65h38.1M2395.6 1687.65h38.1M2509.1 1687.65h38.1M2584.8 1687.65h38.1M2736.2 1687.65h38.1M3076.8 1687.65h38.1M3266.1 1687.65h38.1M3303.9 1687.65h38.1M3379.6 1687.65h38.1M3568.8 1687.65h38.1M3644.5 1687.65h38.1M3682.4 1687.65h38.1M579.0 1701.79h38.1M692.5 1701.79h38.1M995.3 1701.79h38.1M1033.1 1701.79h38.1M1260.2 1701.79h38.1M1335.9 1701.79h38.1M1714.4 1701.79h38.1M1903.6 1701.79h38.1M2017.1 1701.79h38.1M2055.0 1701.79h38.1M2168.5 1701.79h38.1M2206.4 1701.79h38.1M2244.2 1701.79h38.1M2471.3 1701.79h38.1M2547.0 1701.79h38.1M2849.8 1701.79h38.1M2925.4 1701.79h38.1M3001.1 1701.79h38.1M3341.7 1701.79h38.1M3531.0 1701.79h38.1M3644.5 1701.79h38.1M3682.4 1701.79h38.1M3758.1 1701.79h38.1M3833.7 1701.79h38.1M654.7 1715.94h38.1M806.1 1715.94h38.1M957.5 1715.94h38.1M995.3 1715.94h38.1M1146.7 1715.94h38.1M1184.5 1715.94h38.1M1487.3 1715.94h38.1M1525.1 1715.94h38.1M1563.0 1715.94h38.1M1714.4 1715.94h38.1M1752.2 1715.94h38.1M1790.1 1715.94h38.1M1903.6 1715.94h38.1M2092.8 1715.94h38.1M2244.2 1715.94h38.1M2357.8 1715.94h38.1M2774.1 1715.94h38.1M2811.9 1715.94h38.1M2849.8 1715.94h38.1M3001.1 1715.94h38.1M3039.0 1715.94h38.1M3341.7 1715.94h38.1M3871.6 1715.94h38.1M389.8 1730.08h38.1M654.7 1730.08h38.1M692.5 1730.08h38.1M768.2 1730.08h38.1M957.5 1730.08h38.1M995.3 1730.08h38.1M1373.8 1730.08h38.1M1827.9 1730.08h38.1M2017.1 1730.08h38.1M2092.8 1730.08h38.1M2509.1 1730.08h38.1M2698.4 1730.08h38.1M2887.6 1730.08h38.1M3606.7 1730.08h38.1M3682.4 1730.08h38.1M3833.7 1730.08h38.1M503.3 1744.23h38.1M654.7 1744.23h38.1M919.6 1744.23h38.1M1108.8 1744.23h38.1M1525.1 1744.23h38.1M1563.0 1744.23h38.1M1676.5 1744.23h38.1M1865.8 1744.23h38.1M2092.8 1744.23h38.1M2433.4 1744.23h38.1M2698.4 1744.23h38.1M2887.6 1744.23h38.1M3001.1 1744.23h38.1M3076.8 1744.23h38.1M3266.1 1744.23h38.1M3341.7 1744.23h38.1M3379.6 1744.23h38.1M3455.3 1744.23h38.1M3493.1 1744.23h38.1M3531.0 1744.23h38.1M3606.7 1744.23h38.1M3682.4 1744.23h38.1M3720.2 1744.23h38.1M3833.7 1744.23h38.1M579.0 1758.37h38.1M1146.7 1758.37h38.1M1335.9 1758.37h38.1M1487.3 1758.37h38.1M1941.4 1758.37h38.1M1979.3 1758.37h38.1M2055.0 1758.37h38.1M2509.1 1758.37h38.1M2736.2 1758.37h38.1M2925.4 1758.37h38.1M3001.1 1758.37h38.1M3341.7 1758.37h38.1M3379.6 1758.37h38.1M3417.4 1758.37h38.1M3455.3 1758.37h38.1M3531.0 1758.37h38.1M3568.8 1758.37h38.1M3644.5 1758.37h38.1M503.3 1772.52h38.1M541.1 1772.52h38.1M579.0 1772.52h38.1M881.8 1772.52h38.1M1033.1 1772.52h38.1M1335.9 1772.52h38.1M1525.1 1772.52h38.1M1903.6 1772.52h38.1M1979.3 1772.52h38.1M2017.1 1772.52h38.1M2319.9 1772.52h38.1M2357.8 1772.52h38.1M2622.7 1772.52h38.1M3114.7 1772.52h38.1M3303.9 1772.52h38.1M3341.7 1772.52h38.1M3379.6 1772.52h38.1M3417.4 1772.52h38.1M3531.0 1772.52h38.1M3568.8 1772.52h38.1M3644.5 1772.52h38.1M579.0 1786.66h38.1M692.5 1786.66h38.1M919.6 1786.66h38.1M957.5 1786.66h38.1M1222.4 1786.66h38.1M1563.0 1786.66h38.1M1865.8 1786.66h38.1M2092.8 1786.66h38.1M2130.7 1786.66h38.1M2925.4 1786.66h38.1M2963.3 1786.66h38.1M3228.2 1786.66h38.1M3303.9 1786.66h38.1M3341.7 1786.66h38.1M3379.6 1786.66h38.1M3417.4 1786.66h38.1M3531.0 1786.66h38.1M3720.2 1786.66h38.1M3795.9 1786.66h38.1M730.4 1800.81h38.1M995.3 1800.81h38.1M1941.4 1800.81h38.1M2017.1 1800.81h38.1M2357.8 1800.81h38.1M2925.4 1800.81h38.1M3606.7 1800.81h38.1M465.5 1814.95h38.1M806.1 1814.95h38.1M919.6 1814.95h38.1M1071.0 1814.95h38.1M1298.1 1814.95h38.1M1487.3 1814.95h38.1M1638.7 1814.95h38.1M1714.4 1814.95h38.1M1941.4 1814.95h38.1M1979.3 1814.95h38.1M2130.7 1814.95h38.1M2244.2 1814.95h38.1M2584.8 1814.95h38.1M2698.4 1814.95h38.1M3076.8 1814.95h38.1M3114.7 1814.95h38.1M3266.1 1814.95h38.1M3493.1 1814.95h38.1M3568.8 1814.95h38.1M3644.5 1814.95h38.1M3720.2 1814.95h38.1M465.5 1829.10h38.1M579.0 1829.10h38.1M768.2 1829.10h38.1M1184.5 1829.10h38.1M1411.6 1829.10h38.1M1487.3 1829.10h38.1M1752.2 1829.10h38.1M2206.4 1829.10h38.1M2357.8 1829.10h38.1M2395.6 1829.10h38.1M2660.5 1829.10h38.1M2774.1 1829.10h38.1M2887.6 1829.10h38.1M3076.8 1829.10h38.1M3228.2 1829.10h38.1M3266.1 1829.10h38.1M3303.9 1829.10h38.1M3379.6 1829.10h38.1M3568.8 1829.10h38.1M3682.4 1829.10h38.1M541.1 1843.24h38.1M654.7 1843.24h38.1M919.6 1843.24h38.1M957.5 1843.24h38.1M995.3 1843.24h38.1M1071.0 1843.24h38.1M1146.7 1843.24h38.1M1563.0 1843.24h38.1M1638.7 1843.24h38.1M2509.1 1843.24h38.1M3266.1 1843.24h38.1M3379.6 1843.24h38.1M3833.7 1843.24h38.1M3871.6 1843.24h38.1M579.0 1857.39h38.1M730.4 1857.39h38.1M881.8 1857.39h38.1M919.6 1857.39h38.1M995.3 1857.39h38.1M1222.4 1857.39h38.1M1411.6 1857.39h38.1M1790.1 1857.39h38.1M2509.1 1857.39h38.1M2584.8 1857.39h38.1M2811.9 1857.39h38.1M2849.8 1857.39h38.1M2887.6 1857.39h38.1M3152.5 1857.39h38.1M3341.7 1857.39h38.1M579.0 1871.54h38.1M616.8 1871.54h38.1M692.5 1871.54h38.1M919.6 1871.54h38.1M1146.7 1871.54h38.1M1260.2 1871.54h38.1M1373.8 1871.54h38.1M1525.1 1871.54h38.1M1865.8 1871.54h38.1M1941.4 1871.54h38.1M1979.3 1871.54h38.1M2433.4 1871.54h38.1M2622.7 1871.54h38.1M2736.2 1871.54h38.1M2774.1 1871.54h38.1M2849.8 1871.54h38.1M3417.4 1871.54h38.1M3531.0 1871.54h38.1M3795.9 1871.54h38.1M3871.6 1871.54h38.1M427.6 1885.68h38.1M503.3 1885.68h38.1M616.8 1885.68h38.1M806.1 1885.68h38.1M843.9 1885.68h38.1M995.3 1885.68h38.1M1260.2 1885.68h38.1M1449.4 1885.68h38.1M1752.2 1885.68h38.1M1827.9 1885.68h38.1M1941.4 1885.68h38.1M2017.1 1885.68h38.1M2130.7 1885.68h38.1M2395.6 1885.68h38.1M2509.1 1885.68h38.1M2774.1 1885.68h38.1M2849.8 1885.68h38.1M2925.4 1885.68h38.1M3039.0 1885.68h38.1M3114.7 1885.68h38.1M3417.4 1885.68h38.1M3455.3 1885.68h38.1M3758.1 1885.68h38.1M3795.9 1885.68h38.1M3871.6 1885.68h38.1M616.8 1899.83h38.1M692.5 1899.83h38.1M919.6 1899.83h38.1M957.5 1899.83h38.1M1108.8 1899.83h38.1M1146.7 1899.83h38.1M1222.4 1899.83h38.1M1411.6 1899.83h38.1M1487.3 1899.83h38.1M1676.5 1899.83h38.1M1903.6 1899.83h38.1M2017.1 1899.83h38.1M2130.7 1899.83h38.1M2433.4 1899.83h38.1M2509.1 1899.83h38.1M2660.5 1899.83h38.1M2736.2 1899.83h38.1M3001.1 1899.83h38.1M3152.5 1899.83h38.1M3266.1 1899.83h38.1M3606.7 1899.83h38.1M3644.5 1899.83h38.1M3758.1 1899.83h38.1M465.5 1913.97h38.1M730.4 1913.97h38.1M768.2 1913.97h38.1M995.3 1913.97h38.1M1146.7 1913.97h38.1M1222.4 1913.97h38.1M1298.1 1913.97h38.1M1373.8 1913.97h38.1M1941.4 1913.97h38.1M2244.2 1913.97h38.1M2471.3 1913.97h38.1M2622.7 1913.97h38.1M2774.1 1913.97h38.1M3001.1 1913.97h38.1M3039.0 1913.97h38.1M3076.8 1913.97h38.1M3152.5 1913.97h38.1M3379.6 1913.97h38.1M3455.3 1913.97h38.1M3644.5 1913.97h38.1M389.8 1928.12h38.1M427.6 1928.12h38.1M768.2 1928.12h38.1M919.6 1928.12h38.1M995.3 1928.12h38.1M1222.4 1928.12h38.1M1335.9 1928.12h38.1M1373.8 1928.12h38.1M1563.0 1928.12h38.1M2357.8 1928.12h38.1M2509.1 1928.12h38.1M2660.5 1928.12h38.1M2698.4 1928.12h38.1M3001.1 1928.12h38.1M3114.7 1928.12h38.1M3228.2 1928.12h38.1M3303.9 1928.12h38.1M3531.0 1928.12h38.1M465.5 1942.26h38.1M616.8 1942.26h38.1M1184.5 1942.26h38.1M1298.1 1942.26h38.1M1373.8 1942.26h38.1M1525.1 1942.26h38.1M1600.8 1942.26h38.1M1752.2 1942.26h38.1M1903.6 1942.26h38.1M1941.4 1942.26h38.1M1979.3 1942.26h38.1M2887.6 1942.26h38.1M3190.4 1942.26h38.1M3379.6 1942.26h38.1M3531.0 1942.26h38.1M3568.8 1942.26h38.1M3606.7 1942.26h38.1M579.0 1956.41h38.1M806.1 1956.41h38.1M1146.7 1956.41h38.1M1184.5 1956.41h38.1M1298.1 1956.41h38.1M1335.9 1956.41h38.1M1449.4 1956.41h38.1M1525.1 1956.41h38.1M1752.2 1956.41h38.1M1865.8 1956.41h38.1M2433.4 1956.41h38.1M2660.5 1956.41h38.1M2887.6 1956.41h38.1M3001.1 1956.41h38.1M3266.1 1956.41h38.1M3644.5 1956.41h38.1M3682.4 1956.41h38.1M3871.6 1956.41h38.1M541.1 1970.55h38.1M616.8 1970.55h38.1M730.4 1970.55h38.1M768.2 1970.55h38.1M1033.1 1970.55h38.1M1146.7 1970.55h38.1M1487.3 1970.55h38.1M1525.1 1970.55h38.1M2282.1 1970.55h38.1M2774.1 1970.55h38.1M2925.4 1970.55h38.1M3001.1 1970.55h38.1M3152.5 1970.55h38.1M3455.3 1970.55h38.1M427.6 1984.70h38.1M616.8 1984.70h38.1M843.9 1984.70h38.1M881.8 1984.70h38.1M957.5 1984.70h38.1M995.3 1984.70h38.1M1033.1 1984.70h38.1M1184.5 1984.70h38.1M1525.1 1984.70h38.1M1600.8 1984.70h38.1M1827.9 1984.70h38.1M2017.1 1984.70h38.1M2357.8 1984.70h38.1M2509.1 1984.70h38.1M2774.1 1984.70h38.1M2811.9 1984.70h38.1M2925.4 1984.70h38.1M3001.1 1984.70h38.1M3341.7 1984.70h38.1M3379.6 1984.70h38.1M3493.1 1984.70h38.1M3531.0 1984.70h38.1M3606.7 1984.70h38.1M3644.5 1984.70h38.1M3682.4 1984.70h38.1M3720.2 1984.70h38.1M3758.1 1984.70h38.1M3871.6 1984.70h38.1M389.8 1998.84h38.1M427.6 1998.84h38.1M465.5 1998.84h38.1M541.1 1998.84h38.1M616.8 1998.84h38.1M843.9 1998.84h38.1M1033.1 1998.84h38.1M1146.7 1998.84h38.1M1222.4 1998.84h38.1M1260.2 1998.84h38.1M1449.4 1998.84h38.1M1563.0 1998.84h38.1M1600.8 1998.84h38.1M1676.5 1998.84h38.1M1752.2 1998.84h38.1M2584.8 1998.84h38.1M2622.7 1998.84h38.1M2698.4 1998.84h38.1M2963.3 1998.84h38.1M3114.7 1998.84h38.1M3379.6 1998.84h38.1M3606.7 1998.84h38.1M3720.2 1998.84h38.1M3758.1 1998.84h38.1M427.6 2012.99h38.1M579.0 2012.99h38.1M730.4 2012.99h38.1M843.9 2012.99h38.1M1033.1 2012.99h38.1M1108.8 2012.99h38.1M1260.2 2012.99h38.1M1676.5 2012.99h38.1M1827.9 2012.99h38.1M2395.6 2012.99h38.1M2433.4 2012.99h38.1M2471.3 2012.99h38.1M2547.0 2012.99h38.1M2584.8 2012.99h38.1M2849.8 2012.99h38.1M2887.6 2012.99h38.1M3076.8 2012.99h38.1M3114.7 2012.99h38.1M3152.5 2012.99h38.1M3455.3 2012.99h38.1M3493.1 2012.99h38.1M3531.0 2012.99h38.1M3568.8 2012.99h38.1M3833.7 2012.99h38.1M541.1 2027.13h38.1M579.0 2027.13h38.1M616.8 2027.13h38.1M730.4 2027.13h38.1M1146.7 2027.13h38.1M1184.5 2027.13h38.1M2206.4 2027.13h38.1M2282.1 2027.13h38.1M2622.7 2027.13h38.1M2698.4 2027.13h38.1M2774.1 2027.13h38.1M2887.6 2027.13h38.1M3076.8 2027.13h38.1M3114.7 2027.13h38.1M3190.4 2027.13h38.1M3266.1 2027.13h38.1M3455.3 2027.13h38.1M3606.7 2027.13h38.1M3833.7 2027.13h38.1M3871.6 2027.13h38.1M768.2 2041.28h38.1M957.5 2041.28h38.1M1260.2 2041.28h38.1M1298.1 2041.28h38.1M1979.3 2041.28h38.1M2206.4 2041.28h38.1M2433.4 2041.28h38.1M2584.8 2041.28h38.1M3076.8 2041.28h38.1M3114.7 2041.28h38.1M3152.5 2041.28h38.1M3190.4 2041.28h38.1M3644.5 2041.28h38.1M503.3 2055.42h38.1M579.0 2055.42h38.1M616.8 2055.42h38.1M654.7 2055.42h38.1M1373.8 2055.42h38.1M1676.5 2055.42h38.1M1865.8 2055.42h38.1M1903.6 2055.42h38.1M2433.4 2055.42h38.1M2471.3 2055.42h38.1M3001.1 2055.42h38.1M3303.9 2055.42h38.1M3795.9 2055.42h38.1M3833.7 2055.42h38.1M541.1 2069.57h38.1M579.0 2069.57h38.1M616.8 2069.57h38.1M654.7 2069.57h38.1M881.8 2069.57h38.1M919.6 2069.57h38.1M957.5 2069.57h38.1M1071.0 2069.57h38.1M1373.8 2069.57h38.1M1563.0 2069.57h38.1M1638.7 2069.57h38.1M1865.8 2069.57h38.1M1903.6 2069.57h38.1M2244.2 2069.57h38.1M2925.4 2069.57h38.1M3001.1 2069.57h38.1M3039.0 2069.57h38.1M3076.8 2069.57h38.1M3228.2 2069.57h38.1M3266.1 2069.57h38.1M3303.9 2069.57h38.1M3379.6 2069.57h38.1M3758.1 2069.57h38.1M3795.9 2069.57h38.1M465.5 2083.71h38.1M503.3 2083.71h38.1M692.5 2083.71h38.1M1033.1 2083.71h38.1M1108.8 2083.71h38.1M1222.4 2083.71h38.1M1373.8 2083.71h38.1M1449.4 2083.71h38.1M1638.7 2083.71h38.1M1865.8 2083.71h38.1M2282.1 2083.71h38.1M2357.8 2083.71h38.1M2395.6 2083.71h38.1M2849.8 2083.71h38.1M2925.4 2083.71h38.1M3114.7 2083.71h38.1M3682.4 2083.71h38.1M3720.2 2083.71h38.1M3833.7 2083.71h38.1M389.8 2097.86h38.1M503.3 2097.86h38.1M692.5 2097.86h38.1M843.9 2097.86h38.1M1033.1 2097.86h38.1M1487.3 2097.86h38.1M1676.5 2097.86h38.1M1827.9 2097.86h38.1M1903.6 2097.86h38.1M2357.8 2097.86h38.1M2925.4 2097.86h38.1M3493.1 2097.86h38.1M3568.8 2097.86h38.1M427.6 2112.01h38.1M579.0 2112.01h38.1M806.1 2112.01h38.1M881.8 2112.01h38.1M919.6 2112.01h38.1M1033.1 2112.01h38.1M1222.4 2112.01h38.1M1298.1 2112.01h38.1M1335.9 2112.01h38.1M1373.8 2112.01h38.1M1979.3 2112.01h38.1M2282.1 2112.01h38.1M2471.3 2112.01h38.1M2584.8 2112.01h38.1M3114.7 2112.01h38.1M3190.4 2112.01h38.1M3455.3 2112.01h38.1M3531.0 2112.01h38.1M3871.6 2112.01h38.1M692.5 2126.15h38.1M730.4 2126.15h38.1M768.2 2126.15h38.1M843.9 2126.15h38.1M1260.2 2126.15h38.1M1449.4 2126.15h38.1M1487.3 2126.15h38.1M1563.0 2126.15h38.1M1752.2 2126.15h38.1M2017.1 2126.15h38.1M2357.8 2126.15h38.1M3341.7 2126.15h38.1M3379.6 2126.15h38.1M3493.1 2126.15h38.1M3833.7 2126.15h38.1M3871.6 2126.15h38.1M389.8 2140.30h38.1M654.7 2140.30h38.1M692.5 2140.30h38.1M843.9 2140.30h38.1M1071.0 2140.30h38.1M1146.7 2140.30h38.1M1487.3 2140.30h38.1M1714.4 2140.30h38.1M1903.6 2140.30h38.1M2017.1 2140.30h38.1M2282.1 2140.30h38.1M2395.6 2140.30h38.1M2433.4 2140.30h38.1M2584.8 2140.30h38.1M2660.5 2140.30h38.1M2849.8 2140.30h38.1M3039.0 2140.30h38.1M3114.7 2140.30h38.1M3152.5 2140.30h38.1M3303.9 2140.30h38.1M3417.4 2140.30h38.1M3758.1 2140.30h38.1M3833.7 2140.30h38.1M427.6 2154.44h38.1M806.1 2154.44h38.1M957.5 2154.44h38.1M995.3 2154.44h38.1M1260.2 2154.44h38.1M1525.1 2154.44h38.1M1752.2 2154.44h38.1M2319.9 2154.44h38.1M2395.6 2154.44h38.1M2433.4 2154.44h38.1M2925.4 2154.44h38.1M3228.2 2154.44h38.1M3795.9 2154.44h38.1M881.8 2168.59h38.1M1146.7 2168.59h38.1M1411.6 2168.59h38.1M1487.3 2168.59h38.1M1525.1 2168.59h38.1M2319.9 2168.59h38.1M2471.3 2168.59h38.1M2811.9 2168.59h38.1M2963.3 2168.59h38.1M3039.0 2168.59h38.1M3190.4 2168.59h38.1M3379.6 2168.59h38.1M3531.0 2168.59h38.1M3568.8 2168.59h38.1M465.5 2182.73h38.1M692.5 2182.73h38.1M1033.1 2182.73h38.1M1487.3 2182.73h38.1M1714.4 2182.73h38.1M1790.1 2182.73h38.1M1827.9 2182.73h38.1M2547.0 2182.73h38.1M2736.2 2182.73h38.1M3001.1 2182.73h38.1M3114.7 2182.73h38.1M3266.1 2182.73h38.1M3417.4 2182.73h38.1M3682.4 2182.73h38.1M3795.9 2182.73h38.1M3871.6 2182.73h38.1M503.3 2196.88h38.1M541.1 2196.88h38.1M1033.1 2196.88h38.1M1108.8 2196.88h38.1M1335.9 2196.88h38.1M1563.0 2196.88h38.1M2168.5 2196.88h38.1M2811.9 2196.88h38.1M3039.0 2196.88h38.1M3076.8 2196.88h38.1M3152.5 2196.88h38.1M3190.4 2196.88h38.1M3417.4 2196.88h38.1M3455.3 2196.88h38.1M3493.1 2196.88h38.1M3568.8 2196.88h38.1M3606.7 2196.88h38.1M427.6 2211.02h38.1M616.8 2211.02h38.1M768.2 2211.02h38.1M995.3 2211.02h38.1M1411.6 2211.02h38.1M1563.0 2211.02h38.1M1865.8 2211.02h38.1M2282.1 2211.02h38.1M3303.9 2211.02h38.1M3682.4 2211.02h38.1M1146.7 2225.17h38.1M1487.3 2225.17h38.1M1563.0 2225.17h38.1M1714.4 2225.17h38.1M1790.1 2225.17h38.1M2282.1 2225.17h38.1M2471.3 2225.17h38.1M2660.5 2225.17h38.1M2698.4 2225.17h38.1M3114.7 2225.17h38.1M3720.2 2225.17h38.1M3795.9 2225.17h38.1M541.1 2239.31h38.1M806.1 2239.31h38.1M919.6 2239.31h38.1M957.5 2239.31h38.1M1335.9 2239.31h38.1M1449.4 2239.31h38.1M1525.1 2239.31h38.1M1676.5 2239.31h38.1M1714.4 2239.31h38.1M2698.4 2239.31h38.1M3341.7 2239.31h38.1M3493.1 2239.31h38.1M3606.7 2239.31h38.1M3871.6 2239.31h38.1M389.8 2253.46h38.1M427.6 2253.46h38.1M541.1 2253.46h38.1M768.2 2253.46h38.1M995.3 2253.46h38.1M1184.5 2253.46h38.1M1903.6 2253.46h38.1M2017.1 2253.46h38.1M2357.8 2253.46h38.1M2584.8 2253.46h38.1M2660.5 2253.46h38.1M2774.1 2253.46h38.1M3076.8 2253.46h38.1M3152.5 2253.46h38.1M3266.1 2253.46h38.1M3758.1 2253.46h38.1M503.3 2267.60h38.1M806.1 2267.60h38.1M843.9 2267.60h38.1M919.6 2267.60h38.1M1071.0 2267.60h38.1M1108.8 2267.60h38.1M1146.7 2267.60h38.1M1260.2 2267.60h38.1M1449.4 2267.60h38.1M1638.7 2267.60h38.1M2584.8 2267.60h38.1M2698.4 2267.60h38.1M2811.9 2267.60h38.1M3076.8 2267.60h38.1M3152.5 2267.60h38.1M3266.1 2267.60h38.1M3303.9 2267.60h38.1M3493.1 2267.60h38.1M3606.7 2267.60h38.1M3758.1 2267.60h38.1M692.5 2281.75h38.1M843.9 2281.75h38.1M881.8 2281.75h38.1M919.6 2281.75h38.1M995.3 2281.75h38.1M1071.0 2281.75h38.1M1222.4 2281.75h38.1M1335.9 2281.75h38.1M1411.6 2281.75h38.1M1449.4 2281.75h38.1M1752.2 2281.75h38.1M1827.9 2281.75h38.1M3114.7 2281.75h38.1M3606.7 2281.75h38.1M3644.5 2281.75h38.1M3795.9 2281.75h38.1M389.8 2295.89h38.1M465.5 2295.89h38.1M503.3 2295.89h38.1M806.1 2295.89h38.1M919.6 2295.89h38.1M1071.0 2295.89h38.1M1222.4 2295.89h38.1M1298.1 2295.89h38.1M1676.5 2295.89h38.1M1752.2 2295.89h38.1M1865.8 2295.89h38.1M2017.1 2295.89h38.1M2319.9 2295.89h38.1M2395.6 2295.89h38.1M2698.4 2295.89h38.1M2774.1 2295.89h38.1M2887.6 2295.89h38.1M3114.7 2295.89h38.1M3606.7 2295.89h38.1M3833.7 2295.89h38.1M389.8 2310.04h38.1M427.6 2310.04h38.1M465.5 2310.04h38.1M730.4 2310.04h38.1M1298.1 2310.04h38.1M1903.6 2310.04h38.1M2584.8 2310.04h38.1M3001.1 2310.04h38.1M3114.7 2310.04h38.1M3152.5 2310.04h38.1M3266.1 2310.04h38.1M3417.4 2310.04h38.1M3606.7 2310.04h38.1M3682.4 2310.04h38.1M3795.9 2310.04h38.1M465.5 2324.19h38.1M806.1 2324.19h38.1M843.9 2324.19h38.1M919.6 2324.19h38.1M995.3 2324.19h38.1M1260.2 2324.19h38.1M1714.4 2324.19h38.1M1941.4 2324.19h38.1M2622.7 2324.19h38.1M2774.1 2324.19h38.1M2849.8 2324.19h38.1M2887.6 2324.19h38.1M2963.3 2324.19h38.1M3039.0 2324.19h38.1M3114.7 2324.19h38.1M3190.4 2324.19h38.1M3795.9 2324.19h38.1M3871.6 2324.19h38.1M881.8 2338.33h38.1M919.6 2338.33h38.1M995.3 2338.33h38.1M1071.0 2338.33h38.1M1146.7 2338.33h38.1M1184.5 2338.33h38.1M1298.1 2338.33h38.1M1449.4 2338.33h38.1M1525.1 2338.33h38.1M1790.1 2338.33h38.1M1865.8 2338.33h38.1M2319.9 2338.33h38.1M2622.7 2338.33h38.1M3039.0 2338.33h38.1M3379.6 2338.33h38.1M3493.1 2338.33h38.1M3606.7 2338.33h38.1M3682.4 2338.33h38.1M3720.2 2338.33h38.1M3758.1 2338.33h38.1M389.8 2352.48h38.1M541.1 2352.48h38.1M654.7 2352.48h38.1M768.2 2352.48h38.1M1033.1 2352.48h38.1M1184.5 2352.48h38.1M1298.1 2352.48h38.1M2547.0 2352.48h38.1M2622.7 2352.48h38.1M2660.5 2352.48h38.1M2736.2 2352.48h38.1M3152.5 2352.48h38.1M3417.4 2352.48h38.1M3493.1 2352.48h38.1M3568.8 2352.48h38.1M3644.5 2352.48h38.1M3682.4 2352.48h38.1M3720.2 2352.48h38.1M579.0 2366.62h38.1M692.5 2366.62h38.1M768.2 2366.62h38.1M806.1 2366.62h38.1M843.9 2366.62h38.1M1071.0 2366.62h38.1M1146.7 2366.62h38.1M1298.1 2366.62h38.1M1411.6 2366.62h38.1M1563.0 2366.62h38.1M1941.4 2366.62h38.1M2774.1 2366.62h38.1M3001.1 2366.62h38.1M3114.7 2366.62h38.1M3341.7 2366.62h38.1M3720.2 2366.62h38.1M3758.1 2366.62h38.1M3795.9 2366.62h38.1M3833.7 2366.62h38.1M3871.6 2366.62h38.1M503.3 2380.77h38.1M579.0 2380.77h38.1M692.5 2380.77h38.1M843.9 2380.77h38.1M1108.8 2380.77h38.1M1373.8 2380.77h38.1M1449.4 2380.77h38.1M1752.2 2380.77h38.1M1827.9 2380.77h38.1M1865.8 2380.77h38.1M1903.6 2380.77h38.1M2547.0 2380.77h38.1M2849.8 2380.77h38.1M2887.6 2380.77h38.1M3039.0 2380.77h38.1M3644.5 2380.77h38.1M3720.2 2380.77h38.1M3833.7 2380.77h38.1M389.8 2394.91h38.1M654.7 2394.91h38.1M730.4 2394.91h38.1M881.8 2394.91h38.1M995.3 2394.91h38.1M1260.2 2394.91h38.1M1298.1 2394.91h38.1M1714.4 2394.91h38.1M2017.1 2394.91h38.1M2547.0 2394.91h38.1M2774.1 2394.91h38.1M2811.9 2394.91h38.1M2887.6 2394.91h38.1M2925.4 2394.91h38.1M3190.4 2394.91h38.1M3266.1 2394.91h38.1M3341.7 2394.91h38.1M3568.8 2394.91h38.1M3682.4 2394.91h38.1M616.8 2409.06h38.1M881.8 2409.06h38.1M995.3 2409.06h38.1M1146.7 2409.06h38.1M1487.3 2409.06h38.1M1563.0 2409.06h38.1M1676.5 2409.06h38.1M1714.4 2409.06h38.1M1790.1 2409.06h38.1M1903.6 2409.06h38.1M1979.3 2409.06h38.1M2622.7 2409.06h38.1M3076.8 2409.06h38.1M3341.7 2409.06h38.1M3606.7 2409.06h38.1M3682.4 2409.06h38.1M3720.2 2409.06h38.1M503.3 2423.20h38.1M654.7 2423.20h38.1M881.8 2423.20h38.1M957.5 2423.20h38.1M995.3 2423.20h38.1M1146.7 2423.20h38.1M1184.5 2423.20h38.1M1298.1 2423.20h38.1M2017.1 2423.20h38.1M2698.4 2423.20h38.1M2887.6 2423.20h38.1M3228.2 2423.20h38.1M3303.9 2423.20h38.1M3568.8 2423.20h38.1M3720.2 2423.20h38.1M427.6 2437.35h38.1M503.3 2437.35h38.1M579.0 2437.35h38.1M692.5 2437.35h38.1M768.2 2437.35h38.1M881.8 2437.35h38.1M1033.1 2437.35h38.1M1146.7 2437.35h38.1M1298.1 2437.35h38.1M1335.9 2437.35h38.1M3266.1 2437.35h38.1M3341.7 2437.35h38.1M3455.3 2437.35h38.1M3568.8 2437.35h38.1M389.8 2451.49h38.1M692.5 2451.49h38.1M768.2 2451.49h38.1M919.6 2451.49h38.1M957.5 2451.49h38.1M995.3 2451.49h38.1M1184.5 2451.49h38.1M1222.4 2451.49h38.1M1298.1 2451.49h38.1M1373.8 2451.49h38.1M1487.3 2451.49h38.1M1600.8 2451.49h38.1M1752.2 2451.49h38.1M1941.4 2451.49h38.1M2017.1 2451.49h38.1M2055.0 2451.49h38.1M2736.2 2451.49h38.1M2811.9 2451.49h38.1M2963.3 2451.49h38.1M3039.0 2451.49h38.1M3266.1 2451.49h38.1M3455.3 2451.49h38.1M3568.8 2451.49h38.1M3682.4 2451.49h38.1M3795.9 2451.49h38.1M3871.6 2451.49h38.1M465.5 2465.64h38.1M579.0 2465.64h38.1M768.2 2465.64h38.1M919.6 2465.64h38.1M957.5 2465.64h38.1M995.3 2465.64h38.1M1108.8 2465.64h38.1M1146.7 2465.64h38.1M1411.6 2465.64h38.1M1487.3 2465.64h38.1M1903.6 2465.64h38.1M1941.4 2465.64h38.1M2584.8 2465.64h38.1M2698.4 2465.64h38.1M3001.1 2465.64h38.1M3039.0 2465.64h38.1M3266.1 2465.64h38.1M3341.7 2465.64h38.1M3379.6 2465.64h38.1M3417.4 2465.64h38.1M3455.3 2465.64h38.1M3568.8 2465.64h38.1M503.3 2479.78h38.1M616.8 2479.78h38.1M730.4 2479.78h38.1M919.6 2479.78h38.1M995.3 2479.78h38.1M1033.1 2479.78h38.1M1108.8 2479.78h38.1M1260.2 2479.78h38.1M1298.1 2479.78h38.1M1411.6 2479.78h38.1M1600.8 2479.78h38.1M1714.4 2479.78h38.1M1790.1 2479.78h38.1M2017.1 2479.78h38.1M2092.8 2479.78h38.1M2925.4 2479.78h38.1M3076.8 2479.78h38.1M3114.7 2479.78h38.1M3379.6 2479.78h38.1M3568.8 2479.78h38.1M3644.5 2479.78h38.1M3682.4 2479.78h38.1M3720.2 2479.78h38.1M3758.1 2479.78h38.1M389.8 2493.93h38.1M692.5 2493.93h38.1M843.9 2493.93h38.1M881.8 2493.93h38.1M919.6 2493.93h38.1M1033.1 2493.93h38.1M1298.1 2493.93h38.1M1638.7 2493.93h38.1M2017.1 2493.93h38.1M2168.5 2493.93h38.1M2282.1 2493.93h38.1M2319.9 2493.93h38.1M2698.4 2493.93h38.1M2736.2 2493.93h38.1M2925.4 2493.93h38.1M3455.3 2493.93h38.1M3720.2 2493.93h38.1M692.5 2508.07h38.1M843.9 2508.07h38.1M919.6 2508.07h38.1M995.3 2508.07h38.1M1071.0 2508.07h38.1M1146.7 2508.07h38.1M1411.6 2508.07h38.1M1752.2 2508.07h38.1M1979.3 2508.07h38.1M2017.1 2508.07h38.1M2319.9 2508.07h38.1M2433.4 2508.07h38.1M2774.1 2508.07h38.1M2963.3 2508.07h38.1M3076.8 2508.07h38.1M3266.1 2508.07h38.1M3455.3 2508.07h38.1M3493.1 2508.07h38.1M3720.2 2508.07h38.1M389.8 2522.22h38.1M465.5 2522.22h38.1M579.0 2522.22h38.1M730.4 2522.22h38.1M995.3 2522.22h38.1M1260.2 2522.22h38.1M1335.9 2522.22h38.1M1411.6 2522.22h38.1M1638.7 2522.22h38.1M1752.2 2522.22h38.1M1941.4 2522.22h38.1M2584.8 2522.22h38.1M2622.7 2522.22h38.1M2774.1 2522.22h38.1M2811.9 2522.22h38.1M2925.4 2522.22h38.1M2963.3 2522.22h38.1M3114.7 2522.22h38.1M3379.6 2522.22h38.1M3455.3 2522.22h38.1M3531.0 2522.22h38.1M3758.1 2522.22h38.1M806.1 2536.36h38.1M843.9 2536.36h38.1M1033.1 2536.36h38.1M1146.7 2536.36h38.1M1184.5 2536.36h38.1M1298.1 2536.36h38.1M1411.6 2536.36h38.1M1525.1 2536.36h38.1M1563.0 2536.36h38.1M1638.7 2536.36h38.1M2092.8 2536.36h38.1M2130.7 2536.36h38.1M2471.3 2536.36h38.1M2774.1 2536.36h38.1M2849.8 2536.36h38.1M2925.4 2536.36h38.1M2963.3 2536.36h38.1M3076.8 2536.36h38.1M3114.7 2536.36h38.1M3303.9 2536.36h38.1M3871.6 2536.36h38.1M503.3 2550.51h38.1M730.4 2550.51h38.1M957.5 2550.51h38.1M995.3 2550.51h38.1M1071.0 2550.51h38.1M1184.5 2550.51h38.1M1298.1 2550.51h38.1M1411.6 2550.51h38.1M2433.4 2550.51h38.1M2736.2 2550.51h38.1M3001.1 2550.51h38.1M3039.0 2550.51h38.1M3228.2 2550.51h38.1M3493.1 2550.51h38.1M3531.0 2550.51h38.1M3644.5 2550.51h38.1M3833.7 2550.51h38.1M389.8 2564.66h38.1M692.5 2564.66h38.1M843.9 2564.66h38.1M957.5 2564.66h38.1M1298.1 2564.66h38.1M1449.4 2564.66h38.1M1638.7 2564.66h38.1M1676.5 2564.66h38.1M1790.1 2564.66h38.1M2017.1 2564.66h38.1M2433.4 2564.66h38.1M2774.1 2564.66h38.1M2887.6 2564.66h38.1M3039.0 2564.66h38.1M3152.5 2564.66h38.1M3190.4 2564.66h38.1M3606.7 2564.66h38.1M3644.5 2564.66h38.1M3833.7 2564.66h38.1M389.8 2578.80h38.1M730.4 2578.80h38.1M768.2 2578.80h38.1M1222.4 2578.80h38.1M1449.4 2578.80h38.1M1525.1 2578.80h38.1M1563.0 2578.80h38.1M1600.8 2578.80h38.1M1790.1 2578.80h38.1M1979.3 2578.80h38.1M2168.5 2578.80h38.1M2319.9 2578.80h38.1M2547.0 2578.80h38.1M2660.5 2578.80h38.1M2887.6 2578.80h38.1M2963.3 2578.80h38.1M3076.8 2578.80h38.1M3228.2 2578.80h38.1M3417.4 2578.80h38.1M3531.0 2578.80h38.1M3795.9 2578.80h38.1M3833.7 2578.80h38.1M3871.6 2578.80h38.1M427.6 2592.95h38.1M579.0 2592.95h38.1M616.8 2592.95h38.1M730.4 2592.95h38.1M806.1 2592.95h38.1M881.8 2592.95h38.1M919.6 2592.95h38.1M957.5 2592.95h38.1M1071.0 2592.95h38.1M1108.8 2592.95h38.1M1184.5 2592.95h38.1M1525.1 2592.95h38.1M1563.0 2592.95h38.1M1600.8 2592.95h38.1M2130.7 2592.95h38.1M2471.3 2592.95h38.1M2660.5 2592.95h38.1M2736.2 2592.95h38.1M3001.1 2592.95h38.1M3039.0 2592.95h38.1M3076.8 2592.95h38.1M3114.7 2592.95h38.1M3228.2 2592.95h38.1M3417.4 2592.95h38.1M3455.3 2592.95h38.1M3531.0 2592.95h38.1M3644.5 2592.95h38.1M3682.4 2592.95h38.1M3833.7 2592.95h38.1M3871.6 2592.95h38.1"/><path fill="none" stroke="#a11b9b" stroke-width="14.45" d="M654.7 980.38h38.1M768.2 980.38h38.1M919.6 980.38h38.1M1108.8 980.38h38.1M1184.5 980.38h38.1M1600.8 980.38h38.1M1827.9 980.38h38.1M2055.0 980.38h38.1M2092.8 980.38h38.1M2130.7 980.38h38.1M2357.8 980.38h38.1M2471.3 980.38h38.1M2622.7 980.38h38.1M2963.3 980.38h38.1M3039.0 980.38h38.1M3417.4 980.38h38.1M3606.7 980.38h38.1M3682.4 980.38h38.1M3758.1 980.38h38.1M3833.7 980.38h38.1M465.5 994.53h38.1M654.7 994.53h38.1M1373.8 994.53h38.1M1525.1 994.53h38.1M1600.8 994.53h38.1M2017.1 994.53h38.1M2963.3 994.53h38.1M3001.1 994.53h38.1M3303.9 994.53h38.1M3379.6 994.53h38.1M465.5 1008.67h38.1M692.5 1008.67h38.1M768.2 1008.67h38.1M919.6 1008.67h38.1M1260.2 1008.67h38.1M1525.1 1008.67h38.1M1714.4 1008.67h38.1M1790.1 1008.67h38.1M2055.0 1008.67h38.1M2092.8 1008.67h38.1M2130.7 1008.67h38.1M2357.8 1008.67h38.1M2395.6 1008.67h38.1M2660.5 1008.67h38.1M2736.2 1008.67h38.1M3039.0 1008.67h38.1M3076.8 1008.67h38.1M3682.4 1008.67h38.1M3795.9 1008.67h38.1M465.5 1022.82h38.1M730.4 1022.82h38.1M806.1 1022.82h38.1M1487.3 1022.82h38.1M1827.9 1022.82h38.1M1903.6 1022.82h38.1M2092.8 1022.82h38.1M2130.7 1022.82h38.1M2547.0 1022.82h38.1M2925.4 1022.82h38.1M3341.7 1022.82h38.1M3455.3 1022.82h38.1M3531.0 1022.82h38.1M692.5 1036.96h38.1M1033.1 1036.96h38.1M1487.3 1036.96h38.1M1638.7 1036.96h38.1M1827.9 1036.96h38.1M2017.1 1036.96h38.1M2130.7 1036.96h38.1M2168.5 1036.96h38.1M2395.6 1036.96h38.1M2433.4 1036.96h38.1M2547.0 1036.96h38.1M2811.9 1036.96h38.1M2849.8 1036.96h38.1M2887.6 1036.96h38.1M3568.8 1036.96h38.1M3720.2 1036.96h38.1M389.8 1051.11h38.1M541.1 1051.11h38.1M579.0 1051.11h38.1M843.9 1051.11h38.1M1449.4 1051.11h38.1M1563.0 1051.11h38.1M1714.4 1051.11h38.1M1941.4 1051.11h38.1M1979.3 1051.11h38.1M3039.0 1051.11h38.1M3114.7 1051.11h38.1M3190.4 1051.11h38.1M3228.2 1051.11h38.1M3303.9 1051.11h38.1M3341.7 1051.11h38.1M3379.6 1051.11h38.1M427.6 1065.25h38.1M541.1 1065.25h38.1M1222.4 1065.25h38.1M1260.2 1065.25h38.1M1449.4 1065.25h38.1M1676.5 1065.25h38.1M1752.2 1065.25h38.1M2055.0 1065.25h38.1M2282.1 1065.25h38.1M2471.3 1065.25h38.1M3001.1 1065.25h38.1M3039.0 1065.25h38.1M3152.5 1065.25h38.1M3266.1 1065.25h38.1M3303.9 1065.25h38.1M3455.3 1065.25h38.1M3871.6 1065.25h38.1M730.4 1079.40h38.1M1108.8 1079.40h38.1M1146.7 1079.40h38.1M1222.4 1079.40h38.1M1600.8 1079.40h38.1M1827.9 1079.40h38.1M2017.1 1079.40h38.1M3152.5 1079.40h38.1M3455.3 1079.40h38.1M503.3 1093.54h38.1M541.1 1093.54h38.1M579.0 1093.54h38.1M692.5 1093.54h38.1M768.2 1093.54h38.1M919.6 1093.54h38.1M1335.9 1093.54h38.1M1941.4 1093.54h38.1M2055.0 1093.54h38.1M2357.8 1093.54h38.1M2584.8 1093.54h38.1M2622.7 1093.54h38.1M3228.2 1093.54h38.1M3455.3 1093.54h38.1M3531.0 1093.54h38.1M3871.6 1093.54h38.1M768.2 1107.69h38.1M881.8 1107.69h38.1M1071.0 1107.69h38.1M1373.8 1107.69h38.1M1600.8 1107.69h38.1M2168.5 1107.69h38.1M2282.1 1107.69h38.1M2509.1 1107.69h38.1M2584.8 1107.69h38.1M3682.4 1107.69h38.1M465.5 1121.83h38.1M654.7 1121.83h38.1M843.9 1121.83h38.1M919.6 1121.83h38.1M1071.0 1121.83h38.1M1108.8 1121.83h38.1M1260.2 1121.83h38.1M1373.8 1121.83h38.1M1827.9 1121.83h38.1M1941.4 1121.83h38.1M2206.4 1121.83h38.1M2849.8 1121.83h38.1M2925.4 1121.83h38.1M3341.7 1121.83h38.1M3379.6 1121.83h38.1M3493.1 1121.83h38.1M3795.9 1121.83h38.1M3833.7 1121.83h38.1M3871.6 1121.83h38.1M389.8 1135.98h38.1M503.3 1135.98h38.1M541.1 1135.98h38.1M919.6 1135.98h38.1M995.3 1135.98h38.1M1184.5 1135.98h38.1M1222.4 1135.98h38.1M1373.8 1135.98h38.1M1449.4 1135.98h38.1M1563.0 1135.98h38.1M1714.4 1135.98h38.1M1752.2 1135.98h38.1M2244.2 1135.98h38.1M2395.6 1135.98h38.1M3001.1 1135.98h38.1M3644.5 1135.98h38.1M3720.2 1135.98h38.1M730.4 1150.12h38.1M881.8 1150.12h38.1M995.3 1150.12h38.1M1146.7 1150.12h38.1M1184.5 1150.12h38.1M1260.2 1150.12h38.1M1411.6 1150.12h38.1M1563.0 1150.12h38.1M2130.7 1150.12h38.1M2811.9 1150.12h38.1M3341.7 1150.12h38.1M3417.4 1150.12h38.1M3455.3 1150.12h38.1M3644.5 1150.12h38.1M3682.4 1150.12h38.1M616.8 1164.27h38.1M1033.1 1164.27h38.1M1298.1 1164.27h38.1M2055.0 1164.27h38.1M2736.2 1164.27h38.1M2774.1 1164.27h38.1M2925.4 1164.27h38.1M3190.4 1164.27h38.1M3455.3 1164.27h38.1M3568.8 1164.27h38.1M3644.5 1164.27h38.1M3720.2 1164.27h38.1M541.1 1178.41h38.1M1033.1 1178.41h38.1M1260.2 1178.41h38.1M1298.1 1178.41h38.1M2130.7 1178.41h38.1M2357.8 1178.41h38.1M2547.0 1178.41h38.1M2774.1 1178.41h38.1M2963.3 1178.41h38.1M3076.8 1178.41h38.1M3379.6 1178.41h38.1M3644.5 1178.41h38.1M3682.4 1178.41h38.1M3720.2 1178.41h38.1M541.1 1192.56h38.1M957.5 1192.56h38.1M1071.0 1192.56h38.1M1260.2 1192.56h38.1M2282.1 1192.56h38.1M3114.7 1192.56h38.1M3341.7 1192.56h38.1M3644.5 1192.56h38.1M654.7 1206.71h38.1M1033.1 1206.71h38.1M1260.2 1206.71h38.1M1487.3 1206.71h38.1M2698.4 1206.71h38.1M3644.5 1206.71h38.1M730.4 1220.85h38.1M881.8 1220.85h38.1M1071.0 1220.85h38.1M2433.4 1220.85h38.1M2547.0 1220.85h38.1M2887.6 1220.85h38.1M2925.4 1220.85h38.1M3417.4 1220.85h38.1M3644.5 1220.85h38.1M3720.2 1220.85h38.1M389.8 1235.00h38.1M541.1 1235.00h38.1M654.7 1235.00h38.1M881.8 1235.00h38.1M919.6 1235.00h38.1M957.5 1235.00h38.1M1071.0 1235.00h38.1M1146.7 1235.00h38.1M1600.8 1235.00h38.1M2206.4 1235.00h38.1M2433.4 1235.00h38.1M2471.3 1235.00h38.1M2774.1 1235.00h38.1M2925.4 1235.00h38.1M3076.8 1235.00h38.1M3417.4 1235.00h38.1M3531.0 1235.00h38.1M3568.8 1235.00h38.1M3644.5 1235.00h38.1M1260.2 1249.14h38.1M1411.6 1249.14h38.1M1487.3 1249.14h38.1M1638.7 1249.14h38.1M2357.8 1249.14h38.1M3076.8 1249.14h38.1M3303.9 1249.14h38.1M3644.5 1249.14h38.1M579.0 1263.29h38.1M919.6 1263.29h38.1M1033.1 1263.29h38.1M1108.8 1263.29h38.1M1184.5 1263.29h38.1M1335.9 1263.29h38.1M1525.1 1263.29h38.1M1600.8 1263.29h38.1M2168.5 1263.29h38.1M2206.4 1263.29h38.1M2244.2 1263.29h38.1M2319.9 1263.29h38.1M2622.7 1263.29h38.1M2660.5 1263.29h38.1M2698.4 1263.29h38.1M2736.2 1263.29h38.1M2963.3 1263.29h38.1M3114.7 1263.29h38.1M3228.2 1263.29h38.1M3341.7 1263.29h38.1M3644.5 1263.29h38.1M730.4 1277.43h38.1M919.6 1277.43h38.1M1108.8 1277.43h38.1M1260.2 1277.43h38.1M1411.6 1277.43h38.1M1676.5 1277.43h38.1M1865.8 1277.43h38.1M2055.0 1277.43h38.1M2357.8 1277.43h38.1M2433.4 1277.43h38.1M2471.3 1277.43h38.1M2509.1 1277.43h38.1M2698.4 1277.43h38.1M3568.8 1277.43h38.1M3795.9 1277.43h38.1M730.4 1291.58h38.1M768.2 1291.58h38.1M806.1 1291.58h38.1M843.9 1291.58h38.1M1033.1 1291.58h38.1M1260.2 1291.58h38.1M1335.9 1291.58h38.1M1714.4 1291.58h38.1M2017.1 1291.58h38.1M2282.1 1291.58h38.1M2319.9 1291.58h38.1M2357.8 1291.58h38.1M2547.0 1291.58h38.1M2887.6 1291.58h38.1M2925.4 1291.58h38.1M3076.8 1291.58h38.1M3114.7 1291.58h38.1M3493.1 1291.58h38.1M3644.5 1291.58h38.1M3758.1 1291.58h38.1M389.8 1305.72h38.1M503.3 1305.72h38.1M881.8 1305.72h38.1M1033.1 1305.72h38.1M1335.9 1305.72h38.1M1449.4 1305.72h38.1M1752.2 1305.72h38.1M3266.1 1305.72h38.1M3568.8 1305.72h38.1M541.1 1319.87h38.1M957.5 1319.87h38.1M1487.3 1319.87h38.1M1676.5 1319.87h38.1M2092.8 1319.87h38.1M2584.8 1319.87h38.1M3531.0 1319.87h38.1M3644.5 1319.87h38.1M427.6 1334.01h38.1M1071.0 1334.01h38.1M1411.6 1334.01h38.1M1449.4 1334.01h38.1M1676.5 1334.01h38.1M1752.2 1334.01h38.1M1790.1 1334.01h38.1M2055.0 1334.01h38.1M2244.2 1334.01h38.1M2471.3 1334.01h38.1M3039.0 1334.01h38.1M3379.6 1334.01h38.1M3568.8 1334.01h38.1M541.1 1348.16h38.1M692.5 1348.16h38.1M1071.0 1348.16h38.1M1108.8 1348.16h38.1M1184.5 1348.16h38.1M1298.1 1348.16h38.1M1335.9 1348.16h38.1M1600.8 1348.16h38.1M2357.8 1348.16h38.1M2547.0 1348.16h38.1M2584.8 1348.16h38.1M3190.4 1348.16h38.1M3266.1 1348.16h38.1M3417.4 1348.16h38.1M3531.0 1348.16h38.1M3871.6 1348.16h38.1M427.6 1362.30h38.1M1071.0 1362.30h38.1M1638.7 1362.30h38.1M1827.9 1362.30h38.1M2471.3 1362.30h38.1M2509.1 1362.30h38.1M2547.0 1362.30h38.1M2811.9 1362.30h38.1M3606.7 1362.30h38.1M3644.5 1362.30h38.1M3758.1 1362.30h38.1M881.8 1376.45h38.1M1449.4 1376.45h38.1M1638.7 1376.45h38.1M1752.2 1376.45h38.1M2471.3 1376.45h38.1M3076.8 1376.45h38.1M3114.7 1376.45h38.1M3606.7 1376.45h38.1M3682.4 1376.45h38.1M541.1 1390.59h38.1M1184.5 1390.59h38.1M1222.4 1390.59h38.1M1335.9 1390.59h38.1M1638.7 1390.59h38.1M1790.1 1390.59h38.1M1979.3 1390.59h38.1M2092.8 1390.59h38.1M2130.7 1390.59h38.1M2206.4 1390.59h38.1M2509.1 1390.59h38.1M2736.2 1390.59h38.1M2925.4 1390.59h38.1M3114.7 1390.59h38.1M3871.6 1390.59h38.1M541.1 1404.74h38.1M919.6 1404.74h38.1M2130.7 1404.74h38.1M2698.4 1404.74h38.1M2925.4 1404.74h38.1M3114.7 1404.74h38.1M3266.1 1404.74h38.1M3531.0 1404.74h38.1M3606.7 1404.74h38.1M3682.4 1404.74h38.1M3795.9 1404.74h38.1M3833.7 1404.74h38.1M3871.6 1404.74h38.1M579.0 1418.89h38.1M919.6 1418.89h38.1M1108.8 1418.89h38.1M1146.7 1418.89h38.1M1752.2 1418.89h38.1M1941.4 1418.89h38.1M2206.4 1418.89h38.1M2357.8 1418.89h38.1M2660.5 1418.89h38.1M2925.4 1418.89h38.1M3266.1 1418.89h38.1M3493.1 1418.89h38.1M3795.9 1418.89h38.1M654.7 1433.03h38.1M768.2 1433.03h38.1M843.9 1433.03h38.1M1108.8 1433.03h38.1M1184.5 1433.03h38.1M1335.9 1433.03h38.1M1487.3 1433.03h38.1M1676.5 1433.03h38.1M2282.1 1433.03h38.1M2547.0 1433.03h38.1M2887.6 1433.03h38.1M2963.3 1433.03h38.1M3379.6 1433.03h38.1M3531.0 1433.03h38.1M389.8 1447.18h38.1M465.5 1447.18h38.1M1525.1 1447.18h38.1M1563.0 1447.18h38.1M1979.3 1447.18h38.1M2055.0 1447.18h38.1M2092.8 1447.18h38.1M2130.7 1447.18h38.1M2584.8 1447.18h38.1M2660.5 1447.18h38.1M2963.3 1447.18h38.1M3001.1 1447.18h38.1M3417.4 1447.18h38.1M3606.7 1447.18h38.1M3871.6 1447.18h38.1M616.8 1461.32h38.1M957.5 1461.32h38.1M1260.2 1461.32h38.1M1714.4 1461.32h38.1M2168.5 1461.32h38.1M2736.2 1461.32h38.1M2887.6 1461.32h38.1M3001.1 1461.32h38.1M3076.8 1461.32h38.1M3341.7 1461.32h38.1M3379.6 1461.32h38.1M3455.3 1461.32h38.1M3795.9 1461.32h38.1M389.8 1475.47h38.1M730.4 1475.47h38.1M806.1 1475.47h38.1M881.8 1475.47h38.1M1335.9 1475.47h38.1M1373.8 1475.47h38.1M1638.7 1475.47h38.1M1979.3 1475.47h38.1M2244.2 1475.47h38.1M2319.9 1475.47h38.1M2811.9 1475.47h38.1M3833.7 1475.47h38.1M427.6 1489.61h38.1M503.3 1489.61h38.1M654.7 1489.61h38.1M881.8 1489.61h38.1M1411.6 1489.61h38.1M1487.3 1489.61h38.1M1563.0 1489.61h38.1M2092.8 1489.61h38.1M2206.4 1489.61h38.1M3152.5 1489.61h38.1M3341.7 1489.61h38.1M389.8 1503.76h38.1M427.6 1503.76h38.1M1373.8 1503.76h38.1M1600.8 1503.76h38.1M1638.7 1503.76h38.1M1827.9 1503.76h38.1M1903.6 1503.76h38.1M2092.8 1503.76h38.1M2509.1 1503.76h38.1M2622.7 1503.76h38.1M2660.5 1503.76h38.1M3341.7 1503.76h38.1M3379.6 1503.76h38.1M427.6 1517.90h38.1M995.3 1517.90h38.1M1222.4 1517.90h38.1M1865.8 1517.90h38.1M1903.6 1517.90h38.1M692.5 1532.05h38.1M1411.6 1532.05h38.1M1979.3 1532.05h38.1M2433.4 1532.05h38.1M2584.8 1532.05h38.1M3114.7 1532.05h38.1M3190.4 1532.05h38.1M3266.1 1532.05h38.1M503.3 1546.19h38.1M1752.2 1546.19h38.1M2017.1 1546.19h38.1M2130.7 1546.19h38.1M2244.2 1546.19h38.1M2622.7 1546.19h38.1M3228.2 1546.19h38.1M3531.0 1546.19h38.1M427.6 1560.34h38.1M654.7 1560.34h38.1M843.9 1560.34h38.1M995.3 1560.34h38.1M1373.8 1560.34h38.1M1487.3 1560.34h38.1M1563.0 1560.34h38.1M1600.8 1560.34h38.1M1979.3 1560.34h38.1M2206.4 1560.34h38.1M2433.4 1560.34h38.1M2622.7 1560.34h38.1M2698.4 1560.34h38.1M2736.2 1560.34h38.1M3076.8 1560.34h38.1M3303.9 1560.34h38.1M654.7 1574.48h38.1M1071.0 1574.48h38.1M1600.8 1574.48h38.1M2092.8 1574.48h38.1M2130.7 1574.48h38.1M2395.6 1574.48h38.1M2849.8 1574.48h38.1M2963.3 1574.48h38.1M3076.8 1574.48h38.1M3114.7 1574.48h38.1M3228.2 1574.48h38.1M3266.1 1574.48h38.1M3303.9 1574.48h38.1M3833.7 1574.48h38.1M692.5 1588.63h38.1M1071.0 1588.63h38.1M1487.3 1588.63h38.1M1903.6 1588.63h38.1M2130.7 1588.63h38.1M2206.4 1588.63h38.1M2547.0 1588.63h38.1M3039.0 1588.63h38.1M3076.8 1588.63h38.1M3531.0 1588.63h38.1M3682.4 1588.63h38.1M768.2 1602.77h38.1M843.9 1602.77h38.1M1525.1 1602.77h38.1M2092.8 1602.77h38.1M2395.6 1602.77h38.1M3190.4 1602.77h38.1M3606.7 1602.77h38.1M579.0 1616.92h38.1M692.5 1616.92h38.1M1449.4 1616.92h38.1M1563.0 1616.92h38.1M1638.7 1616.92h38.1M2206.4 1616.92h38.1M2433.4 1616.92h38.1M2887.6 1616.92h38.1M2925.4 1616.92h38.1M3682.4 1616.92h38.1M3833.7 1616.92h38.1M768.2 1631.06h38.1M1373.8 1631.06h38.1M1525.1 1631.06h38.1M1638.7 1631.06h38.1M1790.1 1631.06h38.1M1865.8 1631.06h38.1M2017.1 1631.06h38.1M2168.5 1631.06h38.1M2357.8 1631.06h38.1M579.0 1645.21h38.1M692.5 1645.21h38.1M730.4 1645.21h38.1M768.2 1645.21h38.1M1752.2 1645.21h38.1M1865.8 1645.21h38.1M2017.1 1645.21h38.1M2055.0 1645.21h38.1M2092.8 1645.21h38.1M2660.5 1645.21h38.1M2774.1 1645.21h38.1M2849.8 1645.21h38.1M2963.3 1645.21h38.1M3303.9 1645.21h38.1M3568.8 1645.21h38.1M3795.9 1645.21h38.1M692.5 1659.36h38.1M843.9 1659.36h38.1M919.6 1659.36h38.1M995.3 1659.36h38.1M1563.0 1659.36h38.1M1865.8 1659.36h38.1M2319.9 1659.36h38.1M3341.7 1659.36h38.1M3379.6 1659.36h38.1M730.4 1673.50h38.1M881.8 1673.50h38.1M1108.8 1673.50h38.1M1260.2 1673.50h38.1M1335.9 1673.50h38.1M1638.7 1673.50h38.1M2055.0 1673.50h38.1M2357.8 1673.50h38.1M2471.3 1673.50h38.1M2509.1 1673.50h38.1M2811.9 1673.50h38.1M2849.8 1673.50h38.1M2963.3 1673.50h38.1M3493.1 1673.50h38.1M503.3 1687.65h38.1M692.5 1687.65h38.1M806.1 1687.65h38.1M881.8 1687.65h38.1M957.5 1687.65h38.1M1184.5 1687.65h38.1M1676.5 1687.65h38.1M1790.1 1687.65h38.1M1903.6 1687.65h38.1M1941.4 1687.65h38.1M2660.5 1687.65h38.1M2698.4 1687.65h38.1M2925.4 1687.65h38.1M3493.1 1687.65h38.1M3531.0 1687.65h38.1M616.8 1701.79h38.1M768.2 1701.79h38.1M881.8 1701.79h38.1M957.5 1701.79h38.1M1222.4 1701.79h38.1M1298.1 1701.79h38.1M1525.1 1701.79h38.1M1600.8 1701.79h38.1M1638.7 1701.79h38.1M2887.6 1701.79h38.1M3417.4 1701.79h38.1M465.5 1715.94h38.1M616.8 1715.94h38.1M768.2 1715.94h38.1M919.6 1715.94h38.1M1335.9 1715.94h38.1M1865.8 1715.94h38.1M1979.3 1715.94h38.1M2168.5 1715.94h38.1M2282.1 1715.94h38.1M2319.9 1715.94h38.1M2736.2 1715.94h38.1M2887.6 1715.94h38.1M2963.3 1715.94h38.1M3303.9 1715.94h38.1M3531.0 1715.94h38.1M465.5 1730.08h38.1M541.1 1730.08h38.1M1865.8 1730.08h38.1M2130.7 1730.08h38.1M2168.5 1730.08h38.1M2244.2 1730.08h38.1M2660.5 1730.08h38.1M2774.1 1730.08h38.1M3114.7 1730.08h38.1M3795.9 1730.08h38.1M1260.2 1744.23h38.1M1411.6 1744.23h38.1M1827.9 1744.23h38.1M2319.9 1744.23h38.1M2509.1 1744.23h38.1M2660.5 1744.23h38.1M2925.4 1744.23h38.1M2963.3 1744.23h38.1M541.1 1758.37h38.1M1373.8 1758.37h38.1M1600.8 1758.37h38.1M1676.5 1758.37h38.1M2584.8 1758.37h38.1M2963.3 1758.37h38.1M1222.4 1772.52h38.1M1487.3 1772.52h38.1M2130.7 1772.52h38.1M2584.8 1772.52h38.1M2774.1 1772.52h38.1M3039.0 1772.52h38.1M503.3 1786.66h38.1M1108.8 1786.66h38.1M1714.4 1786.66h38.1M2206.4 1786.66h38.1M2547.0 1786.66h38.1M3455.3 1786.66h38.1M3682.4 1786.66h38.1M503.3 1800.81h38.1M881.8 1800.81h38.1M1033.1 1800.81h38.1M1071.0 1800.81h38.1M1146.7 1800.81h38.1M1298.1 1800.81h38.1M1449.4 1800.81h38.1M1903.6 1800.81h38.1M1979.3 1800.81h38.1M2092.8 1800.81h38.1M2206.4 1800.81h38.1M2433.4 1800.81h38.1M2849.8 1800.81h38.1M3114.7 1800.81h38.1M3266.1 1800.81h38.1M3455.3 1800.81h38.1M3493.1 1800.81h38.1M503.3 1814.95h38.1M654.7 1814.95h38.1M730.4 1814.95h38.1M1335.9 1814.95h38.1M1373.8 1814.95h38.1M1600.8 1814.95h38.1M1865.8 1814.95h38.1M2017.1 1814.95h38.1M2282.1 1814.95h38.1M3039.0 1814.95h38.1M3455.3 1814.95h38.1M3758.1 1814.95h38.1M3795.9 1814.95h38.1M806.1 1829.10h38.1M881.8 1829.10h38.1M1146.7 1829.10h38.1M1600.8 1829.10h38.1M1865.8 1829.10h38.1M1979.3 1829.10h38.1M2168.5 1829.10h38.1M2319.9 1829.10h38.1M2433.4 1829.10h38.1M2471.3 1829.10h38.1M2811.9 1829.10h38.1M3190.4 1829.10h38.1M3833.7 1829.10h38.1M3871.6 1829.10h38.1M503.3 1843.24h38.1M843.9 1843.24h38.1M1335.9 1843.24h38.1M1752.2 1843.24h38.1M2660.5 1843.24h38.1M2698.4 1843.24h38.1M2925.4 1843.24h38.1M3682.4 1843.24h38.1M389.8 1857.39h38.1M616.8 1857.39h38.1M654.7 1857.39h38.1M843.9 1857.39h38.1M1071.0 1857.39h38.1M1298.1 1857.39h38.1M1449.4 1857.39h38.1M1487.3 1857.39h38.1M1525.1 1857.39h38.1M1752.2 1857.39h38.1M1865.8 1857.39h38.1M2244.2 1857.39h38.1M2471.3 1857.39h38.1M2660.5 1857.39h38.1M3001.1 1857.39h38.1M3758.1 1857.39h38.1M3833.7 1857.39h38.1M957.5 1871.54h38.1M1714.4 1871.54h38.1M2471.3 1871.54h38.1M2584.8 1871.54h38.1M3001.1 1871.54h38.1M3076.8 1871.54h38.1M3303.9 1871.54h38.1M389.8 1885.68h38.1M1071.0 1885.68h38.1M1411.6 1885.68h38.1M1714.4 1885.68h38.1M2168.5 1885.68h38.1M2319.9 1885.68h38.1M2357.8 1885.68h38.1M2660.5 1885.68h38.1M2811.9 1885.68h38.1M3152.5 1885.68h38.1M3190.4 1885.68h38.1M3266.1 1885.68h38.1M3720.2 1885.68h38.1M1335.9 1899.83h38.1M1449.4 1899.83h38.1M1525.1 1899.83h38.1M1638.7 1899.83h38.1M1827.9 1899.83h38.1M2168.5 1899.83h38.1M2357.8 1899.83h38.1M3493.1 1899.83h38.1M3871.6 1899.83h38.1M692.5 1913.97h38.1M1335.9 1913.97h38.1M1449.4 1913.97h38.1M1600.8 1913.97h38.1M1790.1 1913.97h38.1M1827.9 1913.97h38.1M2206.4 1913.97h38.1M2736.2 1913.97h38.1M2849.8 1913.97h38.1M2963.3 1913.97h38.1M3190.4 1913.97h38.1M3606.7 1913.97h38.1M465.5 1928.12h38.1M503.3 1928.12h38.1M957.5 1928.12h38.1M2319.9 1928.12h38.1M2395.6 1928.12h38.1M2584.8 1928.12h38.1M2736.2 1928.12h38.1M3266.1 1928.12h38.1M3682.4 1928.12h38.1M843.9 1942.26h38.1M1411.6 1942.26h38.1M1714.4 1942.26h38.1M2168.5 1942.26h38.1M2509.1 1942.26h38.1M2698.4 1942.26h38.1M2963.3 1942.26h38.1M3076.8 1942.26h38.1M3152.5 1942.26h38.1M3228.2 1942.26h38.1M3417.4 1942.26h38.1M843.9 1956.41h38.1M1714.4 1956.41h38.1M1827.9 1956.41h38.1M2357.8 1956.41h38.1M2547.0 1956.41h38.1M3379.6 1956.41h38.1M389.8 1970.55h38.1M843.9 1970.55h38.1M1222.4 1970.55h38.1M1260.2 1970.55h38.1M1335.9 1970.55h38.1M1827.9 1970.55h38.1M2244.2 1970.55h38.1M2471.3 1970.55h38.1M2849.8 1970.55h38.1M2963.3 1970.55h38.1M3076.8 1970.55h38.1M1222.4 1984.70h38.1M1260.2 1984.70h38.1M1449.4 1984.70h38.1M1979.3 1984.70h38.1M2319.9 1984.70h38.1M2433.4 1984.70h38.1M2660.5 1984.70h38.1M2849.8 1984.70h38.1M3076.8 1984.70h38.1M3228.2 1984.70h38.1M3266.1 1984.70h38.1M3303.9 1984.70h38.1M768.2 1998.84h38.1M1108.8 1998.84h38.1M1638.7 1998.84h38.1M2395.6 1998.84h38.1M2471.3 1998.84h38.1M2660.5 1998.84h38.1M2736.2 1998.84h38.1M2774.1 1998.84h38.1M2849.8 1998.84h38.1M2887.6 1998.84h38.1M2925.4 1998.84h38.1M3001.1 1998.84h38.1M3152.5 1998.84h38.1M3303.9 1998.84h38.1M3682.4 1998.84h38.1M3833.7 1998.84h38.1M919.6 2012.99h38.1M1298.1 2012.99h38.1M1335.9 2012.99h38.1M1600.8 2012.99h38.1M1638.7 2012.99h38.1M1752.2 2012.99h38.1M1941.4 2012.99h38.1M2282.1 2012.99h38.1M2357.8 2012.99h38.1M2622.7 2012.99h38.1M2698.4 2012.99h38.1M2736.2 2012.99h38.1M2774.1 2012.99h38.1M2963.3 2012.99h38.1M3228.2 2012.99h38.1M654.7 2027.13h38.1M995.3 2027.13h38.1M1033.1 2027.13h38.1M1600.8 2027.13h38.1M1676.5 2027.13h38.1M1714.4 2027.13h38.1M1941.4 2027.13h38.1M2017.1 2027.13h38.1M2357.8 2027.13h38.1M2963.3 2027.13h38.1M3303.9 2027.13h38.1M427.6 2041.28h38.1M1222.4 2041.28h38.1M1335.9 2041.28h38.1M1411.6 2041.28h38.1M1487.3 2041.28h38.1M1563.0 2041.28h38.1M1600.8 2041.28h38.1M1676.5 2041.28h38.1M1714.4 2041.28h38.1M1827.9 2041.28h38.1M2017.1 2041.28h38.1M2547.0 2041.28h38.1M2963.3 2041.28h38.1M3266.1 2041.28h38.1M3417.4 2041.28h38.1M3493.1 2041.28h38.1M3871.6 2041.28h38.1M427.6 2055.42h38.1M730.4 2055.42h38.1M995.3 2055.42h38.1M1184.5 2055.42h38.1M1260.2 2055.42h38.1M1600.8 2055.42h38.1M2357.8 2055.42h38.1M2395.6 2055.42h38.1M2660.5 2055.42h38.1M3379.6 2055.42h38.1M3417.4 2055.42h38.1M3568.8 2055.42h38.1M3606.7 2055.42h38.1M1260.2 2069.57h38.1M1790.1 2069.57h38.1M2395.6 2069.57h38.1M2622.7 2069.57h38.1M3871.6 2069.57h38.1M541.1 2083.71h38.1M995.3 2083.71h38.1M1752.2 2083.71h38.1M1827.9 2083.71h38.1M3341.7 2083.71h38.1M3379.6 2083.71h38.1M3568.8 2083.71h38.1M3644.5 2083.71h38.1M881.8 2097.86h38.1M919.6 2097.86h38.1M1222.4 2097.86h38.1M1298.1 2097.86h38.1M1449.4 2097.86h38.1M1525.1 2097.86h38.1M2395.6 2097.86h38.1M2584.8 2097.86h38.1M2811.9 2097.86h38.1M3455.3 2097.86h38.1M3682.4 2097.86h38.1M503.3 2112.01h38.1M730.4 2112.01h38.1M1108.8 2112.01h38.1M1449.4 2112.01h38.1M1600.8 2112.01h38.1M1676.5 2112.01h38.1M1865.8 2112.01h38.1M2660.5 2112.01h38.1M3152.5 2112.01h38.1M3493.1 2112.01h38.1M3606.7 2112.01h38.1M3682.4 2112.01h38.1M3758.1 2112.01h38.1M541.1 2126.15h38.1M881.8 2126.15h38.1M919.6 2126.15h38.1M957.5 2126.15h38.1M1335.9 2126.15h38.1M1600.8 2126.15h38.1M2282.1 2126.15h38.1M2660.5 2126.15h38.1M3303.9 2126.15h38.1M3682.4 2126.15h38.1M806.1 2140.30h38.1M919.6 2140.30h38.1M1260.2 2140.30h38.1M1298.1 2140.30h38.1M1563.0 2140.30h38.1M2357.8 2140.30h38.1M2622.7 2140.30h38.1M2925.4 2140.30h38.1M2963.3 2140.30h38.1M3606.7 2140.30h38.1M3795.9 2140.30h38.1M541.1 2154.44h38.1M1563.0 2154.44h38.1M1827.9 2154.44h38.1M1903.6 2154.44h38.1M2357.8 2154.44h38.1M2849.8 2154.44h38.1M3076.8 2154.44h38.1M541.1 2168.59h38.1M843.9 2168.59h38.1M1260.2 2168.59h38.1M1563.0 2168.59h38.1M1638.7 2168.59h38.1M1903.6 2168.59h38.1M2357.8 2168.59h38.1M2509.1 2168.59h38.1M3152.5 2168.59h38.1M3455.3 2168.59h38.1M3493.1 2168.59h38.1M3644.5 2168.59h38.1M3833.7 2168.59h38.1M541.1 2182.73h38.1M1184.5 2182.73h38.1M1222.4 2182.73h38.1M1298.1 2182.73h38.1M1411.6 2182.73h38.1M1638.7 2182.73h38.1M1752.2 2182.73h38.1M1865.8 2182.73h38.1M2319.9 2182.73h38.1M2584.8 2182.73h38.1M2622.7 2182.73h38.1M2660.5 2182.73h38.1M2774.1 2182.73h38.1M2925.4 2182.73h38.1M3379.6 2182.73h38.1M3568.8 2182.73h38.1M3758.1 2182.73h38.1M1184.5 2196.88h38.1M1525.1 2196.88h38.1M1714.4 2196.88h38.1M1752.2 2196.88h38.1M1827.9 2196.88h38.1M1865.8 2196.88h38.1M2622.7 2196.88h38.1M2698.4 2196.88h38.1M2736.2 2196.88h38.1M2774.1 2196.88h38.1M2963.3 2196.88h38.1M3379.6 2196.88h38.1M843.9 2211.02h38.1M919.6 2211.02h38.1M957.5 2211.02h38.1M1033.1 2211.02h38.1M1146.7 2211.02h38.1M1222.4 2211.02h38.1M1676.5 2211.02h38.1M1979.3 2211.02h38.1M2244.2 2211.02h38.1M2471.3 2211.02h38.1M2584.8 2211.02h38.1M2660.5 2211.02h38.1M3266.1 2211.02h38.1M3379.6 2211.02h38.1M3606.7 2211.02h38.1M3833.7 2211.02h38.1M881.8 2225.17h38.1M1071.0 2225.17h38.1M1184.5 2225.17h38.1M1373.8 2225.17h38.1M1638.7 2225.17h38.1M2017.1 2225.17h38.1M2168.5 2225.17h38.1M2319.9 2225.17h38.1M2433.4 2225.17h38.1M2509.1 2225.17h38.1M2547.0 2225.17h38.1M2887.6 2225.17h38.1M3568.8 2225.17h38.1M3833.7 2225.17h38.1M616.8 2239.31h38.1M1033.1 2239.31h38.1M1487.3 2239.31h38.1M1600.8 2239.31h38.1M1752.2 2239.31h38.1M1827.9 2239.31h38.1M2547.0 2239.31h38.1M2736.2 2239.31h38.1M3001.1 2239.31h38.1M3228.2 2239.31h38.1M3720.2 2239.31h38.1M1298.1 2253.46h38.1M1335.9 2253.46h38.1M1525.1 2253.46h38.1M1676.5 2253.46h38.1M1714.4 2253.46h38.1M1865.8 2253.46h38.1M2433.4 2253.46h38.1M3720.2 2253.46h38.1M3833.7 2253.46h38.1M730.4 2267.60h38.1M1033.1 2267.60h38.1M1222.4 2267.60h38.1M2395.6 2267.60h38.1M2433.4 2267.60h38.1M2547.0 2267.60h38.1M2660.5 2267.60h38.1M2774.1 2267.60h38.1M3833.7 2267.60h38.1M389.8 2281.75h38.1M427.6 2281.75h38.1M1184.5 2281.75h38.1M1676.5 2281.75h38.1M1941.4 2281.75h38.1M2395.6 2281.75h38.1M2471.3 2281.75h38.1M2547.0 2281.75h38.1M2660.5 2281.75h38.1M2887.6 2281.75h38.1M2925.4 2281.75h38.1M3001.1 2281.75h38.1M3455.3 2281.75h38.1M3720.2 2281.75h38.1M730.4 2295.89h38.1M881.8 2295.89h38.1M1487.3 2295.89h38.1M1525.1 2295.89h38.1M1941.4 2295.89h38.1M2433.4 2295.89h38.1M2622.7 2295.89h38.1M2811.9 2295.89h38.1M2925.4 2295.89h38.1M3379.6 2295.89h38.1M3455.3 2295.89h38.1M3493.1 2295.89h38.1M692.5 2310.04h38.1M881.8 2310.04h38.1M1071.0 2310.04h38.1M1260.2 2310.04h38.1M1865.8 2310.04h38.1M2357.8 2310.04h38.1M2395.6 2310.04h38.1M2547.0 2310.04h38.1M3455.3 2310.04h38.1M3644.5 2310.04h38.1M3833.7 2310.04h38.1M1563.0 2324.19h38.1M1979.3 2324.19h38.1M2017.1 2324.19h38.1M2584.8 2324.19h38.1M3417.4 2324.19h38.1M3531.0 2324.19h38.1M692.5 2338.33h38.1M806.1 2338.33h38.1M1411.6 2338.33h38.1M1676.5 2338.33h38.1M2357.8 2338.33h38.1M3266.1 2338.33h38.1M3417.4 2338.33h38.1M1146.7 2352.48h38.1M1411.6 2352.48h38.1M1600.8 2352.48h38.1M1790.1 2352.48h38.1M1979.3 2352.48h38.1M2509.1 2352.48h38.1M2849.8 2352.48h38.1M3795.9 2352.48h38.1M389.8 2366.62h38.1M503.3 2366.62h38.1M730.4 2366.62h38.1M919.6 2366.62h38.1M1108.8 2366.62h38.1M1487.3 2366.62h38.1M1525.1 2366.62h38.1M1600.8 2366.62h38.1M1676.5 2366.62h38.1M1790.1 2366.62h38.1M2055.0 2366.62h38.1M2660.5 2366.62h38.1M2736.2 2366.62h38.1M2887.6 2366.62h38.1M3303.9 2366.62h38.1M3455.3 2366.62h38.1M3606.7 2366.62h38.1M1146.7 2380.77h38.1M1335.9 2380.77h38.1M1676.5 2380.77h38.1M1790.1 2380.77h38.1M2282.1 2380.77h38.1M2584.8 2380.77h38.1M2660.5 2380.77h38.1M2698.4 2380.77h38.1M2811.9 2380.77h38.1M3076.8 2380.77h38.1M3114.7 2380.77h38.1M3303.9 2380.77h38.1M3455.3 2380.77h38.1M503.3 2394.91h38.1M541.1 2394.91h38.1M579.0 2394.91h38.1M957.5 2394.91h38.1M1071.0 2394.91h38.1M1638.7 2394.91h38.1M1827.9 2394.91h38.1M2206.4 2394.91h38.1M2244.2 2394.91h38.1M2509.1 2394.91h38.1M2736.2 2394.91h38.1M3001.1 2394.91h38.1M3606.7 2394.91h38.1M3720.2 2394.91h38.1M692.5 2409.06h38.1M843.9 2409.06h38.1M1071.0 2409.06h38.1M1638.7 2409.06h38.1M2433.4 2409.06h38.1M2509.1 2409.06h38.1M2698.4 2409.06h38.1M2736.2 2409.06h38.1M2887.6 2409.06h38.1M3039.0 2409.06h38.1M3152.5 2409.06h38.1M3228.2 2409.06h38.1M3493.1 2409.06h38.1M3568.8 2409.06h38.1M692.5 2423.20h38.1M843.9 2423.20h38.1M1071.0 2423.20h38.1M1487.3 2423.20h38.1M1600.8 2423.20h38.1M1638.7 2423.20h38.1M1752.2 2423.20h38.1M2774.1 2423.20h38.1M3341.7 2423.20h38.1M3379.6 2423.20h38.1M3531.0 2423.20h38.1M3682.4 2423.20h38.1M730.4 2437.35h38.1M1260.2 2437.35h38.1M1638.7 2437.35h38.1M1941.4 2437.35h38.1M2017.1 2437.35h38.1M2055.0 2437.35h38.1M2357.8 2437.35h38.1M2622.7 2437.35h38.1M2963.3 2437.35h38.1M3076.8 2437.35h38.1M3114.7 2437.35h38.1M3190.4 2437.35h38.1M3833.7 2437.35h38.1M503.3 2451.49h38.1M881.8 2451.49h38.1M1411.6 2451.49h38.1M2584.8 2451.49h38.1M3493.1 2451.49h38.1M3720.2 2451.49h38.1M3758.1 2451.49h38.1M427.6 2465.64h38.1M654.7 2465.64h38.1M730.4 2465.64h38.1M1600.8 2465.64h38.1M1638.7 2465.64h38.1M1714.4 2465.64h38.1M2774.1 2465.64h38.1M2963.3 2465.64h38.1M3720.2 2465.64h38.1M3795.9 2465.64h38.1M579.0 2479.78h38.1M806.1 2479.78h38.1M881.8 2479.78h38.1M2963.3 2479.78h38.1M3152.5 2479.78h38.1M3417.4 2479.78h38.1M768.2 2493.93h38.1M1108.8 2493.93h38.1M1411.6 2493.93h38.1M1563.0 2493.93h38.1M1600.8 2493.93h38.1M1714.4 2493.93h38.1M2130.7 2493.93h38.1M3001.1 2493.93h38.1M3039.0 2493.93h38.1M3228.2 2493.93h38.1M3644.5 2493.93h38.1M654.7 2508.07h38.1M1108.8 2508.07h38.1M1487.3 2508.07h38.1M1714.4 2508.07h38.1M2055.0 2508.07h38.1M2244.2 2508.07h38.1M3039.0 2508.07h38.1M806.1 2522.22h38.1M1108.8 2522.22h38.1M1790.1 2522.22h38.1M2206.4 2522.22h38.1M2244.2 2522.22h38.1M2887.6 2522.22h38.1M3076.8 2522.22h38.1M3303.9 2522.22h38.1M3341.7 2522.22h38.1M3417.4 2522.22h38.1M3833.7 2522.22h38.1M427.6 2536.36h38.1M541.1 2536.36h38.1M2282.1 2536.36h38.1M2509.1 2536.36h38.1M2547.0 2536.36h38.1M2736.2 2536.36h38.1M3001.1 2536.36h38.1M3417.4 2536.36h38.1M3833.7 2536.36h38.1M579.0 2550.51h38.1M654.7 2550.51h38.1M768.2 2550.51h38.1M806.1 2550.51h38.1M1600.8 2550.51h38.1M1752.2 2550.51h38.1M1790.1 2550.51h38.1M2092.8 2550.51h38.1M2244.2 2550.51h38.1M2547.0 2550.51h38.1M2774.1 2550.51h38.1M2811.9 2550.51h38.1M2849.8 2550.51h38.1M2963.3 2550.51h38.1M3114.7 2550.51h38.1M3266.1 2550.51h38.1M3758.1 2550.51h38.1M1222.4 2564.66h38.1M2206.4 2564.66h38.1M2319.9 2564.66h38.1M2395.6 2564.66h38.1M2547.0 2564.66h38.1M2698.4 2564.66h38.1M3266.1 2564.66h38.1M3493.1 2564.66h38.1M3682.4 2564.66h38.1M1487.3 2578.80h38.1M2282.1 2578.80h38.1M2471.3 2578.80h38.1M2925.4 2578.80h38.1M3190.4 2578.80h38.1M3303.9 2578.80h38.1M1298.1 2592.95h38.1M1335.9 2592.95h38.1M1373.8 2592.95h38.1M1979.3 2592.95h38.1M2168.5 2592.95h38.1M2509.1 2592.95h38.1M2547.0 2592.95h38.1M2622.7 2592.95h38.1M2887.6 2592.95h38.1M2925.4 2592.95h38.1M2963.3 2592.95h38.1"/><path fill="none" stroke="#bb3488" stroke-width="14.45" d="M389.8 980.38h38.1M957.5 980.38h38.1M1222.4 980.38h38.1M1260.2 980.38h38.1M1676.5 980.38h38.1M1790.1 980.38h38.1M2282.1 980.38h38.1M2774.1 980.38h38.1M3076.8 980.38h38.1M3795.9 980.38h38.1M3871.6 980.38h38.1M806.1 994.53h38.1M995.3 994.53h38.1M1071.0 994.53h38.1M1184.5 994.53h38.1M1298.1 994.53h38.1M1335.9 994.53h38.1M1714.4 994.53h38.1M1979.3 994.53h38.1M2130.7 994.53h38.1M2244.2 994.53h38.1M2433.4 994.53h38.1M2471.3 994.53h38.1M3039.0 994.53h38.1M3114.7 994.53h38.1M3531.0 994.53h38.1M3568.8 994.53h38.1M3795.9 994.53h38.1M3871.6 994.53h38.1M427.6 1008.67h38.1M730.4 1008.67h38.1M1033.1 1008.67h38.1M1108.8 1008.67h38.1M1222.4 1008.67h38.1M1335.9 1008.67h38.1M1373.8 1008.67h38.1M2206.4 1008.67h38.1M3266.1 1008.67h38.1M3341.7 1008.67h38.1M3833.7 1008.67h38.1M692.5 1022.82h38.1M768.2 1022.82h38.1M843.9 1022.82h38.1M957.5 1022.82h38.1M1071.0 1022.82h38.1M1146.7 1022.82h38.1M1525.1 1022.82h38.1M2660.5 1022.82h38.1M2811.9 1022.82h38.1M3114.7 1022.82h38.1M3644.5 1022.82h38.1M503.3 1036.96h38.1M654.7 1036.96h38.1M1071.0 1036.96h38.1M1146.7 1036.96h38.1M1260.2 1036.96h38.1M1298.1 1036.96h38.1M1449.4 1036.96h38.1M1525.1 1036.96h38.1M1563.0 1036.96h38.1M2244.2 1036.96h38.1M2584.8 1036.96h38.1M2963.3 1036.96h38.1M3303.9 1036.96h38.1M3341.7 1036.96h38.1M3531.0 1036.96h38.1M806.1 1051.11h38.1M881.8 1051.11h38.1M995.3 1051.11h38.1M1146.7 1051.11h38.1M1184.5 1051.11h38.1M1676.5 1051.11h38.1M1827.9 1051.11h38.1M2357.8 1051.11h38.1M2471.3 1051.11h38.1M2887.6 1051.11h38.1M2963.3 1051.11h38.1M3152.5 1051.11h38.1M3795.9 1051.11h38.1M919.6 1065.25h38.1M1146.7 1065.25h38.1M1184.5 1065.25h38.1M1335.9 1065.25h38.1M1563.0 1065.25h38.1M1638.7 1065.25h38.1M1979.3 1065.25h38.1M2206.4 1065.25h38.1M2395.6 1065.25h38.1M3417.4 1065.25h38.1M3758.1 1065.25h38.1M654.7 1079.40h38.1M919.6 1079.40h38.1M1033.1 1079.40h38.1M1184.5 1079.40h38.1M1260.2 1079.40h38.1M1335.9 1079.40h38.1M1411.6 1079.40h38.1M1563.0 1079.40h38.1M1676.5 1079.40h38.1M2092.8 1079.40h38.1M2433.4 1079.40h38.1M2887.6 1079.40h38.1M3531.0 1079.40h38.1M3833.7 1079.40h38.1M3871.6 1079.40h38.1M730.4 1093.54h38.1M957.5 1093.54h38.1M1146.7 1093.54h38.1M1752.2 1093.54h38.1M2092.8 1093.54h38.1M2206.4 1093.54h38.1M2849.8 1093.54h38.1M2963.3 1093.54h38.1M3606.7 1093.54h38.1M3644.5 1093.54h38.1M3758.1 1093.54h38.1M654.7 1107.69h38.1M843.9 1107.69h38.1M919.6 1107.69h38.1M957.5 1107.69h38.1M995.3 1107.69h38.1M1335.9 1107.69h38.1M1941.4 1107.69h38.1M2357.8 1107.69h38.1M2774.1 1107.69h38.1M3228.2 1107.69h38.1M3303.9 1107.69h38.1M3455.3 1107.69h38.1M3531.0 1107.69h38.1M3833.7 1107.69h38.1M692.5 1121.83h38.1M730.4 1121.83h38.1M1335.9 1121.83h38.1M1525.1 1121.83h38.1M2244.2 1121.83h38.1M2357.8 1121.83h38.1M2774.1 1121.83h38.1M2963.3 1121.83h38.1M3266.1 1121.83h38.1M1108.8 1135.98h38.1M1411.6 1135.98h38.1M1525.1 1135.98h38.1M2736.2 1135.98h38.1M2925.4 1135.98h38.1M3076.8 1135.98h38.1M3190.4 1135.98h38.1M503.3 1150.12h38.1M579.0 1150.12h38.1M692.5 1150.12h38.1M1487.3 1150.12h38.1M1941.4 1150.12h38.1M2092.8 1150.12h38.1M2282.1 1150.12h38.1M2774.1 1150.12h38.1M3039.0 1150.12h38.1M3568.8 1150.12h38.1M3720.2 1150.12h38.1M3795.9 1150.12h38.1M465.5 1164.27h38.1M654.7 1164.27h38.1M692.5 1164.27h38.1M730.4 1164.27h38.1M995.3 1164.27h38.1M1525.1 1164.27h38.1M1903.6 1164.27h38.1M1979.3 1164.27h38.1M2130.7 1164.27h38.1M2282.1 1164.27h38.1M2319.9 1164.27h38.1M2471.3 1164.27h38.1M2584.8 1164.27h38.1M2698.4 1164.27h38.1M3114.7 1164.27h38.1M3303.9 1164.27h38.1M3341.7 1164.27h38.1M503.3 1178.41h38.1M768.2 1178.41h38.1M1222.4 1178.41h38.1M1941.4 1178.41h38.1M2433.4 1178.41h38.1M3228.2 1178.41h38.1M3493.1 1178.41h38.1M465.5 1192.56h38.1M806.1 1192.56h38.1M1335.9 1192.56h38.1M2319.9 1192.56h38.1M2849.8 1192.56h38.1M2925.4 1192.56h38.1M2963.3 1192.56h38.1M3190.4 1192.56h38.1M3379.6 1192.56h38.1M3531.0 1192.56h38.1M3871.6 1192.56h38.1M465.5 1206.71h38.1M919.6 1206.71h38.1M957.5 1206.71h38.1M1638.7 1206.71h38.1M1676.5 1206.71h38.1M2319.9 1206.71h38.1M2774.1 1206.71h38.1M2887.6 1206.71h38.1M3039.0 1206.71h38.1M3152.5 1206.71h38.1M1146.7 1220.85h38.1M1260.2 1220.85h38.1M1638.7 1220.85h38.1M1827.9 1220.85h38.1M1903.6 1220.85h38.1M2017.1 1220.85h38.1M2055.0 1220.85h38.1M2092.8 1220.85h38.1M2244.2 1220.85h38.1M2471.3 1220.85h38.1M2509.1 1220.85h38.1M2811.9 1220.85h38.1M3039.0 1220.85h38.1M3303.9 1220.85h38.1M3871.6 1220.85h38.1M768.2 1235.00h38.1M1335.9 1235.00h38.1M1525.1 1235.00h38.1M1790.1 1235.00h38.1M1827.9 1235.00h38.1M2698.4 1235.00h38.1M2736.2 1235.00h38.1M3001.1 1235.00h38.1M3341.7 1235.00h38.1M3379.6 1235.00h38.1M3720.2 1235.00h38.1M3795.9 1235.00h38.1M3833.7 1235.00h38.1M3871.6 1235.00h38.1M957.5 1249.14h38.1M1033.1 1249.14h38.1M1071.0 1249.14h38.1M1108.8 1249.14h38.1M1449.4 1249.14h38.1M1563.0 1249.14h38.1M1714.4 1249.14h38.1M2244.2 1249.14h38.1M2509.1 1249.14h38.1M2698.4 1249.14h38.1M2774.1 1249.14h38.1M2849.8 1249.14h38.1M2925.4 1249.14h38.1M2963.3 1249.14h38.1M3039.0 1249.14h38.1M1071.0 1263.29h38.1M1449.4 1263.29h38.1M1865.8 1263.29h38.1M3076.8 1263.29h38.1M3190.4 1263.29h38.1M3455.3 1263.29h38.1M3720.2 1263.29h38.1M3871.6 1263.29h38.1M427.6 1277.43h38.1M692.5 1277.43h38.1M806.1 1277.43h38.1M843.9 1277.43h38.1M881.8 1277.43h38.1M995.3 1277.43h38.1M1827.9 1277.43h38.1M2130.7 1277.43h38.1M2547.0 1277.43h38.1M2963.3 1277.43h38.1M3190.4 1277.43h38.1M3379.6 1277.43h38.1M427.6 1291.58h38.1M579.0 1291.58h38.1M654.7 1291.58h38.1M1222.4 1291.58h38.1M1790.1 1291.58h38.1M1979.3 1291.58h38.1M2244.2 1291.58h38.1M3001.1 1291.58h38.1M3341.7 1291.58h38.1M3531.0 1291.58h38.1M692.5 1305.72h38.1M1071.0 1305.72h38.1M1146.7 1305.72h38.1M1184.5 1305.72h38.1M1222.4 1305.72h38.1M1600.8 1305.72h38.1M1790.1 1305.72h38.1M2092.8 1305.72h38.1M2244.2 1305.72h38.1M2357.8 1305.72h38.1M2395.6 1305.72h38.1M2433.4 1305.72h38.1M2849.8 1305.72h38.1M3190.4 1305.72h38.1M3682.4 1305.72h38.1M616.8 1319.87h38.1M654.7 1319.87h38.1M730.4 1319.87h38.1M806.1 1319.87h38.1M1638.7 1319.87h38.1M1752.2 1319.87h38.1M2433.4 1319.87h38.1M2471.3 1319.87h38.1M2774.1 1319.87h38.1M2925.4 1319.87h38.1M3417.4 1319.87h38.1M3455.3 1319.87h38.1M3606.7 1319.87h38.1M843.9 1334.01h38.1M1108.8 1334.01h38.1M1222.4 1334.01h38.1M1260.2 1334.01h38.1M1638.7 1334.01h38.1M2319.9 1334.01h38.1M2509.1 1334.01h38.1M3190.4 1334.01h38.1M3266.1 1334.01h38.1M3833.7 1334.01h38.1M730.4 1348.16h38.1M1373.8 1348.16h38.1M1487.3 1348.16h38.1M1903.6 1348.16h38.1M2168.5 1348.16h38.1M2622.7 1348.16h38.1M3114.7 1348.16h38.1M3568.8 1348.16h38.1M579.0 1362.30h38.1M730.4 1362.30h38.1M806.1 1362.30h38.1M1600.8 1362.30h38.1M1941.4 1362.30h38.1M2130.7 1362.30h38.1M2206.4 1362.30h38.1M2849.8 1362.30h38.1M2963.3 1362.30h38.1M3266.1 1362.30h38.1M3303.9 1362.30h38.1M3455.3 1362.30h38.1M3568.8 1362.30h38.1M579.0 1376.45h38.1M692.5 1376.45h38.1M768.2 1376.45h38.1M806.1 1376.45h38.1M995.3 1376.45h38.1M1298.1 1376.45h38.1M1411.6 1376.45h38.1M1525.1 1376.45h38.1M1903.6 1376.45h38.1M2130.7 1376.45h38.1M2887.6 1376.45h38.1M3266.1 1376.45h38.1M3568.8 1376.45h38.1M692.5 1390.59h38.1M730.4 1390.59h38.1M919.6 1390.59h38.1M1033.1 1390.59h38.1M1411.6 1390.59h38.1M1600.8 1390.59h38.1M2471.3 1390.59h38.1M2584.8 1390.59h38.1M3795.9 1390.59h38.1M730.4 1404.74h38.1M768.2 1404.74h38.1M1033.1 1404.74h38.1M1298.1 1404.74h38.1M1600.8 1404.74h38.1M1638.7 1404.74h38.1M2282.1 1404.74h38.1M2395.6 1404.74h38.1M2433.4 1404.74h38.1M2736.2 1404.74h38.1M2811.9 1404.74h38.1M3455.3 1404.74h38.1M1525.1 1418.89h38.1M2168.5 1418.89h38.1M2395.6 1418.89h38.1M2584.8 1418.89h38.1M2736.2 1418.89h38.1M2811.9 1418.89h38.1M2963.3 1418.89h38.1M3001.1 1418.89h38.1M3303.9 1418.89h38.1M3606.7 1418.89h38.1M3682.4 1418.89h38.1M503.3 1433.03h38.1M616.8 1433.03h38.1M2017.1 1433.03h38.1M2811.9 1433.03h38.1M2925.4 1433.03h38.1M3417.4 1433.03h38.1M579.0 1447.18h38.1M616.8 1447.18h38.1M768.2 1447.18h38.1M1260.2 1447.18h38.1M1487.3 1447.18h38.1M2206.4 1447.18h38.1M2282.1 1447.18h38.1M2736.2 1447.18h38.1M2849.8 1447.18h38.1M2925.4 1447.18h38.1M3076.8 1447.18h38.1M3228.2 1447.18h38.1M3266.1 1447.18h38.1M3720.2 1447.18h38.1M3795.9 1447.18h38.1M465.5 1461.32h38.1M692.5 1461.32h38.1M995.3 1461.32h38.1M1108.8 1461.32h38.1M1184.5 1461.32h38.1M1298.1 1461.32h38.1M1487.3 1461.32h38.1M1865.8 1461.32h38.1M1979.3 1461.32h38.1M2509.1 1461.32h38.1M3152.5 1461.32h38.1M3568.8 1461.32h38.1M1033.1 1475.47h38.1M1146.7 1475.47h38.1M1184.5 1475.47h38.1M1260.2 1475.47h38.1M1563.0 1475.47h38.1M2206.4 1475.47h38.1M2357.8 1475.47h38.1M2774.1 1475.47h38.1M3114.7 1475.47h38.1M3871.6 1475.47h38.1M465.5 1489.61h38.1M730.4 1489.61h38.1M843.9 1489.61h38.1M1676.5 1489.61h38.1M1903.6 1489.61h38.1M2698.4 1489.61h38.1M2774.1 1489.61h38.1M3001.1 1489.61h38.1M3190.4 1489.61h38.1M3568.8 1489.61h38.1M3606.7 1489.61h38.1M3871.6 1489.61h38.1M503.3 1503.76h38.1M541.1 1503.76h38.1M692.5 1503.76h38.1M1108.8 1503.76h38.1M1790.1 1503.76h38.1M2017.1 1503.76h38.1M2130.7 1503.76h38.1M2244.2 1503.76h38.1M2357.8 1503.76h38.1M2433.4 1503.76h38.1M2925.4 1503.76h38.1M2963.3 1503.76h38.1M3682.4 1503.76h38.1M3871.6 1503.76h38.1M1411.6 1517.90h38.1M1676.5 1517.90h38.1M2433.4 1517.90h38.1M2698.4 1517.90h38.1M2849.8 1517.90h38.1M2887.6 1517.90h38.1M2963.3 1517.90h38.1M3152.5 1517.90h38.1M3379.6 1517.90h38.1M3493.1 1517.90h38.1M3531.0 1517.90h38.1M3606.7 1517.90h38.1M730.4 1532.05h38.1M1222.4 1532.05h38.1M1638.7 1532.05h38.1M1790.1 1532.05h38.1M1903.6 1532.05h38.1M2017.1 1532.05h38.1M2698.4 1532.05h38.1M2774.1 1532.05h38.1M2925.4 1532.05h38.1M3758.1 1532.05h38.1M3871.6 1532.05h38.1M692.5 1546.19h38.1M806.1 1546.19h38.1M1449.4 1546.19h38.1M1487.3 1546.19h38.1M1827.9 1546.19h38.1M1903.6 1546.19h38.1M2168.5 1546.19h38.1M2357.8 1546.19h38.1M2660.5 1546.19h38.1M2736.2 1546.19h38.1M2774.1 1546.19h38.1M2849.8 1546.19h38.1M3039.0 1546.19h38.1M3341.7 1546.19h38.1M3417.4 1546.19h38.1M3871.6 1546.19h38.1M465.5 1560.34h38.1M616.8 1560.34h38.1M1071.0 1560.34h38.1M2168.5 1560.34h38.1M2282.1 1560.34h38.1M2584.8 1560.34h38.1M2774.1 1560.34h38.1M2887.6 1560.34h38.1M2963.3 1560.34h38.1M3266.1 1560.34h38.1M3795.9 1560.34h38.1M3871.6 1560.34h38.1M957.5 1574.48h38.1M1752.2 1574.48h38.1M1827.9 1574.48h38.1M2471.3 1574.48h38.1M2509.1 1574.48h38.1M2622.7 1574.48h38.1M2660.5 1574.48h38.1M2698.4 1574.48h38.1M2887.6 1574.48h38.1M3417.4 1574.48h38.1M427.6 1588.63h38.1M541.1 1588.63h38.1M654.7 1588.63h38.1M957.5 1588.63h38.1M995.3 1588.63h38.1M1184.5 1588.63h38.1M1260.2 1588.63h38.1M1600.8 1588.63h38.1M1676.5 1588.63h38.1M1752.2 1588.63h38.1M2017.1 1588.63h38.1M2168.5 1588.63h38.1M2433.4 1588.63h38.1M2471.3 1588.63h38.1M3266.1 1588.63h38.1M3341.7 1588.63h38.1M3644.5 1588.63h38.1M541.1 1602.77h38.1M881.8 1602.77h38.1M1071.0 1602.77h38.1M1108.8 1602.77h38.1M1563.0 1602.77h38.1M1600.8 1602.77h38.1M1638.7 1602.77h38.1M1903.6 1602.77h38.1M2206.4 1602.77h38.1M2509.1 1602.77h38.1M3039.0 1602.77h38.1M3114.7 1602.77h38.1M3493.1 1602.77h38.1M3531.0 1602.77h38.1M3833.7 1602.77h38.1M957.5 1616.92h38.1M1146.7 1616.92h38.1M1222.4 1616.92h38.1M1298.1 1616.92h38.1M1335.9 1616.92h38.1M1600.8 1616.92h38.1M2357.8 1616.92h38.1M2471.3 1616.92h38.1M2849.8 1616.92h38.1M3076.8 1616.92h38.1M3114.7 1616.92h38.1M3303.9 1616.92h38.1M3531.0 1616.92h38.1M3644.5 1616.92h38.1M3720.2 1616.92h38.1M692.5 1631.06h38.1M957.5 1631.06h38.1M1260.2 1631.06h38.1M1941.4 1631.06h38.1M2130.7 1631.06h38.1M2395.6 1631.06h38.1M2660.5 1631.06h38.1M2774.1 1631.06h38.1M2849.8 1631.06h38.1M2925.4 1631.06h38.1M3152.5 1631.06h38.1M3228.2 1631.06h38.1M503.3 1645.21h38.1M541.1 1645.21h38.1M1108.8 1645.21h38.1M1222.4 1645.21h38.1M1298.1 1645.21h38.1M1827.9 1645.21h38.1M2244.2 1645.21h38.1M2357.8 1645.21h38.1M2622.7 1645.21h38.1M2925.4 1645.21h38.1M3039.0 1645.21h38.1M3266.1 1645.21h38.1M3417.4 1645.21h38.1M3644.5 1645.21h38.1M3682.4 1645.21h38.1M579.0 1659.36h38.1M1260.2 1659.36h38.1M1298.1 1659.36h38.1M1335.9 1659.36h38.1M2282.1 1659.36h38.1M2357.8 1659.36h38.1M2584.8 1659.36h38.1M2736.2 1659.36h38.1M2887.6 1659.36h38.1M3001.1 1659.36h38.1M3114.7 1659.36h38.1M3417.4 1659.36h38.1M3568.8 1659.36h38.1M3644.5 1659.36h38.1M579.0 1673.50h38.1M995.3 1673.50h38.1M1071.0 1673.50h38.1M1411.6 1673.50h38.1M1563.0 1673.50h38.1M1752.2 1673.50h38.1M1941.4 1673.50h38.1M2433.4 1673.50h38.1M2547.0 1673.50h38.1M2736.2 1673.50h38.1M3228.2 1673.50h38.1M3531.0 1673.50h38.1M3568.8 1673.50h38.1M3606.7 1673.50h38.1M3682.4 1673.50h38.1M843.9 1687.65h38.1M919.6 1687.65h38.1M1146.7 1687.65h38.1M1487.3 1687.65h38.1M2168.5 1687.65h38.1M2547.0 1687.65h38.1M3190.4 1687.65h38.1M3720.2 1687.65h38.1M3758.1 1687.65h38.1M3795.9 1687.65h38.1M1146.7 1701.79h38.1M2395.6 1701.79h38.1M2660.5 1701.79h38.1M3076.8 1701.79h38.1M3190.4 1701.79h38.1M3493.1 1701.79h38.1M427.6 1715.94h38.1M730.4 1715.94h38.1M1298.1 1715.94h38.1M1827.9 1715.94h38.1M2017.1 1715.94h38.1M2509.1 1715.94h38.1M2698.4 1715.94h38.1M3190.4 1715.94h38.1M3228.2 1715.94h38.1M3606.7 1715.94h38.1M427.6 1730.08h38.1M843.9 1730.08h38.1M1071.0 1730.08h38.1M1487.3 1730.08h38.1M1979.3 1730.08h38.1M2357.8 1730.08h38.1M2395.6 1730.08h38.1M2433.4 1730.08h38.1M2622.7 1730.08h38.1M2736.2 1730.08h38.1M2811.9 1730.08h38.1M2925.4 1730.08h38.1M3001.1 1730.08h38.1M3039.0 1730.08h38.1M3190.4 1730.08h38.1M3303.9 1730.08h38.1M3568.8 1730.08h38.1M3644.5 1730.08h38.1M3720.2 1730.08h38.1M3871.6 1730.08h38.1M389.8 1744.23h38.1M541.1 1744.23h38.1M692.5 1744.23h38.1M881.8 1744.23h38.1M1487.3 1744.23h38.1M1714.4 1744.23h38.1M1790.1 1744.23h38.1M2017.1 1744.23h38.1M2130.7 1744.23h38.1M2168.5 1744.23h38.1M2357.8 1744.23h38.1M2395.6 1744.23h38.1M2622.7 1744.23h38.1M3039.0 1744.23h38.1M3303.9 1744.23h38.1M3568.8 1744.23h38.1M3795.9 1744.23h38.1M692.5 1758.37h38.1M730.4 1758.37h38.1M1222.4 1758.37h38.1M2168.5 1758.37h38.1M2395.6 1758.37h38.1M2433.4 1758.37h38.1M3190.4 1758.37h38.1M3682.4 1758.37h38.1M3720.2 1758.37h38.1M692.5 1772.52h38.1M768.2 1772.52h38.1M1373.8 1772.52h38.1M1676.5 1772.52h38.1M2168.5 1772.52h38.1M2206.4 1772.52h38.1M2244.2 1772.52h38.1M2660.5 1772.52h38.1M2849.8 1772.52h38.1M2887.6 1772.52h38.1M3455.3 1772.52h38.1M3871.6 1772.52h38.1M389.8 1786.66h38.1M427.6 1786.66h38.1M654.7 1786.66h38.1M1071.0 1786.66h38.1M1146.7 1786.66h38.1M1260.2 1786.66h38.1M1638.7 1786.66h38.1M1752.2 1786.66h38.1M1790.1 1786.66h38.1M1827.9 1786.66h38.1M1903.6 1786.66h38.1M2017.1 1786.66h38.1M2282.1 1786.66h38.1M2357.8 1786.66h38.1M2433.4 1786.66h38.1M2584.8 1786.66h38.1M3076.8 1786.66h38.1M806.1 1800.81h38.1M1184.5 1800.81h38.1M1260.2 1800.81h38.1M1411.6 1800.81h38.1M1676.5 1800.81h38.1M1865.8 1800.81h38.1M2130.7 1800.81h38.1M2736.2 1800.81h38.1M2774.1 1800.81h38.1M3001.1 1800.81h38.1M3039.0 1800.81h38.1M3076.8 1800.81h38.1M3341.7 1800.81h38.1M3379.6 1800.81h38.1M1563.0 1814.95h38.1M2055.0 1814.95h38.1M2660.5 1814.95h38.1M3379.6 1814.95h38.1M3871.6 1814.95h38.1M957.5 1829.10h38.1M1033.1 1829.10h38.1M1071.0 1829.10h38.1M1335.9 1829.10h38.1M1827.9 1829.10h38.1M1941.4 1829.10h38.1M2092.8 1829.10h38.1M2698.4 1829.10h38.1M3039.0 1829.10h38.1M3341.7 1829.10h38.1M3493.1 1829.10h38.1M3606.7 1829.10h38.1M3720.2 1829.10h38.1M579.0 1843.24h38.1M768.2 1843.24h38.1M1525.1 1843.24h38.1M1865.8 1843.24h38.1M2017.1 1843.24h38.1M2055.0 1843.24h38.1M2206.4 1843.24h38.1M2774.1 1843.24h38.1M2887.6 1843.24h38.1M3190.4 1843.24h38.1M3228.2 1843.24h38.1M3303.9 1843.24h38.1M1108.8 1857.39h38.1M1714.4 1857.39h38.1M1979.3 1857.39h38.1M2055.0 1857.39h38.1M2130.7 1857.39h38.1M2622.7 1857.39h38.1M2774.1 1857.39h38.1M3039.0 1857.39h38.1M3228.2 1857.39h38.1M3455.3 1857.39h38.1M3795.9 1857.39h38.1M881.8 1871.54h38.1M1071.0 1871.54h38.1M1298.1 1871.54h38.1M1411.6 1871.54h38.1M1638.7 1871.54h38.1M1676.5 1871.54h38.1M1827.9 1871.54h38.1M2282.1 1871.54h38.1M2509.1 1871.54h38.1M2660.5 1871.54h38.1M3190.4 1871.54h38.1M3341.7 1871.54h38.1M3606.7 1871.54h38.1M3720.2 1871.54h38.1M465.5 1885.68h38.1M579.0 1885.68h38.1M1146.7 1885.68h38.1M1222.4 1885.68h38.1M1676.5 1885.68h38.1M1790.1 1885.68h38.1M1903.6 1885.68h38.1M2055.0 1885.68h38.1M2471.3 1885.68h38.1M3341.7 1885.68h38.1M3682.4 1885.68h38.1M465.5 1899.83h38.1M806.1 1899.83h38.1M2244.2 1899.83h38.1M2622.7 1899.83h38.1M2849.8 1899.83h38.1M2963.3 1899.83h38.1M3039.0 1899.83h38.1M3341.7 1899.83h38.1M3682.4 1899.83h38.1M3795.9 1899.83h38.1M1563.0 1913.97h38.1M1979.3 1913.97h38.1M2433.4 1913.97h38.1M2660.5 1913.97h38.1M2887.6 1913.97h38.1M2925.4 1913.97h38.1M3228.2 1913.97h38.1M3493.1 1913.97h38.1M541.1 1928.12h38.1M1525.1 1928.12h38.1M1638.7 1928.12h38.1M1714.4 1928.12h38.1M1752.2 1928.12h38.1M2130.7 1928.12h38.1M2282.1 1928.12h38.1M2622.7 1928.12h38.1M2811.9 1928.12h38.1M3190.4 1928.12h38.1M3606.7 1928.12h38.1M730.4 1942.26h38.1M806.1 1942.26h38.1M1487.3 1942.26h38.1M1638.7 1942.26h38.1M1865.8 1942.26h38.1M2017.1 1942.26h38.1M2433.4 1942.26h38.1M2471.3 1942.26h38.1M3303.9 1942.26h38.1M3644.5 1942.26h38.1M3795.9 1942.26h38.1M3833.7 1942.26h38.1M389.8 1956.41h38.1M541.1 1956.41h38.1M730.4 1956.41h38.1M957.5 1956.41h38.1M995.3 1956.41h38.1M1071.0 1956.41h38.1M1108.8 1956.41h38.1M1563.0 1956.41h38.1M1676.5 1956.41h38.1M2168.5 1956.41h38.1M2698.4 1956.41h38.1M2736.2 1956.41h38.1M3152.5 1956.41h38.1M3531.0 1956.41h38.1M3568.8 1956.41h38.1M3720.2 1956.41h38.1M3758.1 1956.41h38.1M3833.7 1956.41h38.1M654.7 1970.55h38.1M1184.5 1970.55h38.1M1298.1 1970.55h38.1M1714.4 1970.55h38.1M1752.2 1970.55h38.1M1979.3 1970.55h38.1M2698.4 1970.55h38.1M2736.2 1970.55h38.1M2887.6 1970.55h38.1M3114.7 1970.55h38.1M3266.1 1970.55h38.1M3682.4 1970.55h38.1M541.1 1984.70h38.1M654.7 1984.70h38.1M806.1 1984.70h38.1M1108.8 1984.70h38.1M1146.7 1984.70h38.1M1335.9 1984.70h38.1M1903.6 1984.70h38.1M2206.4 1984.70h38.1M2584.8 1984.70h38.1M2887.6 1984.70h38.1M806.1 1998.84h38.1M995.3 1998.84h38.1M1827.9 1998.84h38.1M1941.4 1998.84h38.1M2017.1 1998.84h38.1M2206.4 1998.84h38.1M2319.9 1998.84h38.1M2547.0 1998.84h38.1M3228.2 1998.84h38.1M3266.1 1998.84h38.1M3568.8 1998.84h38.1M654.7 2012.99h38.1M995.3 2012.99h38.1M1071.0 2012.99h38.1M1411.6 2012.99h38.1M1525.1 2012.99h38.1M1714.4 2012.99h38.1M1790.1 2012.99h38.1M2130.7 2012.99h38.1M2811.9 2012.99h38.1M3303.9 2012.99h38.1M3341.7 2012.99h38.1M3379.6 2012.99h38.1M3417.4 2012.99h38.1M3606.7 2012.99h38.1M3644.5 2012.99h38.1M3720.2 2012.99h38.1M3758.1 2012.99h38.1M389.8 2027.13h38.1M692.5 2027.13h38.1M957.5 2027.13h38.1M1335.9 2027.13h38.1M2244.2 2027.13h38.1M2319.9 2027.13h38.1M2433.4 2027.13h38.1M2660.5 2027.13h38.1M3039.0 2027.13h38.1M3531.0 2027.13h38.1M3758.1 2027.13h38.1M616.8 2041.28h38.1M692.5 2041.28h38.1M730.4 2041.28h38.1M843.9 2041.28h38.1M881.8 2041.28h38.1M919.6 2041.28h38.1M1903.6 2041.28h38.1M2509.1 2041.28h38.1M2660.5 2041.28h38.1M2736.2 2041.28h38.1M2887.6 2041.28h38.1M3758.1 2041.28h38.1M465.5 2055.42h38.1M768.2 2055.42h38.1M1449.4 2055.42h38.1M2168.5 2055.42h38.1M2206.4 2055.42h38.1M3644.5 2055.42h38.1M1222.4 2069.57h38.1M1676.5 2069.57h38.1M1752.2 2069.57h38.1M1827.9 2069.57h38.1M2357.8 2069.57h38.1M2547.0 2069.57h38.1M2736.2 2069.57h38.1M3568.8 2069.57h38.1M3606.7 2069.57h38.1M3644.5 2069.57h38.1M3682.4 2069.57h38.1M3720.2 2069.57h38.1M730.4 2083.71h38.1M1146.7 2083.71h38.1M1260.2 2083.71h38.1M1411.6 2083.71h38.1M1676.5 2083.71h38.1M1903.6 2083.71h38.1M2811.9 2083.71h38.1M3001.1 2083.71h38.1M3455.3 2083.71h38.1M3606.7 2083.71h38.1M3871.6 2083.71h38.1M427.6 2097.86h38.1M541.1 2097.86h38.1M1563.0 2097.86h38.1M1600.8 2097.86h38.1M2319.9 2097.86h38.1M2433.4 2097.86h38.1M2471.3 2097.86h38.1M3644.5 2097.86h38.1M3720.2 2097.86h38.1M3871.6 2097.86h38.1M1071.0 2112.01h38.1M1260.2 2112.01h38.1M1487.3 2112.01h38.1M2357.8 2112.01h38.1M2547.0 2112.01h38.1M3228.2 2112.01h38.1M3266.1 2112.01h38.1M3417.4 2112.01h38.1M3644.5 2112.01h38.1M465.5 2126.15h38.1M616.8 2126.15h38.1M1827.9 2126.15h38.1M1979.3 2126.15h38.1M2509.1 2126.15h38.1M2584.8 2126.15h38.1M2698.4 2126.15h38.1M2963.3 2126.15h38.1M3152.5 2126.15h38.1M3190.4 2126.15h38.1M3644.5 2126.15h38.1M541.1 2140.30h38.1M1411.6 2140.30h38.1M1449.4 2140.30h38.1M1525.1 2140.30h38.1M1752.2 2140.30h38.1M1790.1 2140.30h38.1M2055.0 2140.30h38.1M2319.9 2140.30h38.1M3493.1 2140.30h38.1M3871.6 2140.30h38.1M465.5 2154.44h38.1M692.5 2154.44h38.1M881.8 2154.44h38.1M1184.5 2154.44h38.1M1222.4 2154.44h38.1M1487.3 2154.44h38.1M1714.4 2154.44h38.1M1790.1 2154.44h38.1M2017.1 2154.44h38.1M2584.8 2154.44h38.1M2660.5 2154.44h38.1M2811.9 2154.44h38.1M3531.0 2154.44h38.1M389.8 2168.59h38.1M427.6 2168.59h38.1M579.0 2168.59h38.1M957.5 2168.59h38.1M1298.1 2168.59h38.1M2168.5 2168.59h38.1M2547.0 2168.59h38.1M2887.6 2168.59h38.1M3266.1 2168.59h38.1M3871.6 2168.59h38.1M806.1 2182.73h38.1M919.6 2182.73h38.1M957.5 2182.73h38.1M1600.8 2182.73h38.1M1979.3 2182.73h38.1M2433.4 2182.73h38.1M2698.4 2182.73h38.1M3039.0 2182.73h38.1M3341.7 2182.73h38.1M730.4 2196.88h38.1M768.2 2196.88h38.1M1411.6 2196.88h38.1M1600.8 2196.88h38.1M1790.1 2196.88h38.1M1903.6 2196.88h38.1M2433.4 2196.88h38.1M2471.3 2196.88h38.1M2509.1 2196.88h38.1M2547.0 2196.88h38.1M3114.7 2196.88h38.1M3531.0 2196.88h38.1M3644.5 2196.88h38.1M389.8 2211.02h38.1M881.8 2211.02h38.1M1184.5 2211.02h38.1M1260.2 2211.02h38.1M1335.9 2211.02h38.1M1373.8 2211.02h38.1M1487.3 2211.02h38.1M1752.2 2211.02h38.1M1827.9 2211.02h38.1M2433.4 2211.02h38.1M2811.9 2211.02h38.1M2963.3 2211.02h38.1M3001.1 2211.02h38.1M3076.8 2211.02h38.1M3568.8 2211.02h38.1M3644.5 2211.02h38.1M3720.2 2211.02h38.1M503.3 2225.17h38.1M1033.1 2225.17h38.1M1108.8 2225.17h38.1M1411.6 2225.17h38.1M1676.5 2225.17h38.1M1827.9 2225.17h38.1M2357.8 2225.17h38.1M2395.6 2225.17h38.1M2584.8 2225.17h38.1M2849.8 2225.17h38.1M3076.8 2225.17h38.1M3379.6 2225.17h38.1M579.0 2239.31h38.1M768.2 2239.31h38.1M1146.7 2239.31h38.1M1790.1 2239.31h38.1M1941.4 2239.31h38.1M2017.1 2239.31h38.1M3190.4 2239.31h38.1M3417.4 2239.31h38.1M3531.0 2239.31h38.1M616.8 2253.46h38.1M806.1 2253.46h38.1M919.6 2253.46h38.1M1146.7 2253.46h38.1M1373.8 2253.46h38.1M2395.6 2253.46h38.1M2509.1 2253.46h38.1M2547.0 2253.46h38.1M2811.9 2253.46h38.1M3190.4 2253.46h38.1M3682.4 2253.46h38.1M616.8 2267.60h38.1M995.3 2267.60h38.1M1373.8 2267.60h38.1M1411.6 2267.60h38.1M1714.4 2267.60h38.1M1752.2 2267.60h38.1M1941.4 2267.60h38.1M1979.3 2267.60h38.1M2282.1 2267.60h38.1M2509.1 2267.60h38.1M2622.7 2267.60h38.1M2963.3 2267.60h38.1M3001.1 2267.60h38.1M3228.2 2267.60h38.1M465.5 2281.75h38.1M654.7 2281.75h38.1M1146.7 2281.75h38.1M1600.8 2281.75h38.1M2433.4 2281.75h38.1M2622.7 2281.75h38.1M2698.4 2281.75h38.1M3076.8 2281.75h38.1M3228.2 2281.75h38.1M3266.1 2281.75h38.1M3341.7 2281.75h38.1M3531.0 2281.75h38.1M3758.1 2281.75h38.1M541.1 2295.89h38.1M654.7 2295.89h38.1M692.5 2295.89h38.1M957.5 2295.89h38.1M1146.7 2295.89h38.1M1260.2 2295.89h38.1M1335.9 2295.89h38.1M2660.5 2295.89h38.1M3001.1 2295.89h38.1M3076.8 2295.89h38.1M3531.0 2295.89h38.1M3682.4 2295.89h38.1M3720.2 2295.89h38.1M3871.6 2295.89h38.1M616.8 2310.04h38.1M1222.4 2310.04h38.1M1373.8 2310.04h38.1M1411.6 2310.04h38.1M1487.3 2310.04h38.1M1600.8 2310.04h38.1M1638.7 2310.04h38.1M2017.1 2310.04h38.1M2282.1 2310.04h38.1M2509.1 2310.04h38.1M2660.5 2310.04h38.1M2736.2 2310.04h38.1M2774.1 2310.04h38.1M2849.8 2310.04h38.1M2963.3 2310.04h38.1M3228.2 2310.04h38.1M3531.0 2310.04h38.1M881.8 2324.19h38.1M1146.7 2324.19h38.1M1184.5 2324.19h38.1M1222.4 2324.19h38.1M1298.1 2324.19h38.1M1449.4 2324.19h38.1M1752.2 2324.19h38.1M1827.9 2324.19h38.1M2357.8 2324.19h38.1M2547.0 2324.19h38.1M2660.5 2324.19h38.1M3152.5 2324.19h38.1M3493.1 2324.19h38.1M541.1 2338.33h38.1M579.0 2338.33h38.1M730.4 2338.33h38.1M1373.8 2338.33h38.1M1941.4 2338.33h38.1M2092.8 2338.33h38.1M2849.8 2338.33h38.1M3114.7 2338.33h38.1M3152.5 2338.33h38.1M3190.4 2338.33h38.1M3568.8 2338.33h38.1M3871.6 2338.33h38.1M503.3 2352.48h38.1M616.8 2352.48h38.1M843.9 2352.48h38.1M1108.8 2352.48h38.1M1373.8 2352.48h38.1M1563.0 2352.48h38.1M1714.4 2352.48h38.1M1827.9 2352.48h38.1M1865.8 2352.48h38.1M2017.1 2352.48h38.1M2055.0 2352.48h38.1M2319.9 2352.48h38.1M2887.6 2352.48h38.1M3606.7 2352.48h38.1M3871.6 2352.48h38.1M427.6 2366.62h38.1M465.5 2366.62h38.1M1335.9 2366.62h38.1M1979.3 2366.62h38.1M2130.7 2366.62h38.1M2206.4 2366.62h38.1M2244.2 2366.62h38.1M2357.8 2366.62h38.1M2433.4 2366.62h38.1M881.8 2380.77h38.1M1033.1 2380.77h38.1M1071.0 2380.77h38.1M1184.5 2380.77h38.1M1563.0 2380.77h38.1M1941.4 2380.77h38.1M1979.3 2380.77h38.1M2017.1 2380.77h38.1M2622.7 2380.77h38.1M2736.2 2380.77h38.1M2925.4 2380.77h38.1M3152.5 2380.77h38.1M3417.4 2380.77h38.1M3682.4 2380.77h38.1M3758.1 2380.77h38.1M692.5 2394.91h38.1M843.9 2394.91h38.1M1033.1 2394.91h38.1M1373.8 2394.91h38.1M1487.3 2394.91h38.1M1676.5 2394.91h38.1M1790.1 2394.91h38.1M1979.3 2394.91h38.1M2319.9 2394.91h38.1M2357.8 2394.91h38.1M2584.8 2394.91h38.1M2622.7 2394.91h38.1M2849.8 2394.91h38.1M2963.3 2394.91h38.1M3379.6 2394.91h38.1M3758.1 2394.91h38.1M3833.7 2394.91h38.1M465.5 2409.06h38.1M1184.5 2409.06h38.1M2282.1 2409.06h38.1M2471.3 2409.06h38.1M2660.5 2409.06h38.1M2849.8 2409.06h38.1M2963.3 2409.06h38.1M3833.7 2409.06h38.1M579.0 2423.20h38.1M919.6 2423.20h38.1M1222.4 2423.20h38.1M1260.2 2423.20h38.1M1373.8 2423.20h38.1M1827.9 2423.20h38.1M2055.0 2423.20h38.1M2319.9 2423.20h38.1M2584.8 2423.20h38.1M2622.7 2423.20h38.1M2660.5 2423.20h38.1M2849.8 2423.20h38.1M3039.0 2423.20h38.1M3417.4 2423.20h38.1M3606.7 2423.20h38.1M3833.7 2423.20h38.1M957.5 2437.35h38.1M1108.8 2437.35h38.1M1184.5 2437.35h38.1M1449.4 2437.35h38.1M1676.5 2437.35h38.1M2547.0 2437.35h38.1M2584.8 2437.35h38.1M2925.4 2437.35h38.1M3152.5 2437.35h38.1M3379.6 2437.35h38.1M3758.1 2437.35h38.1M1525.1 2451.49h38.1M1865.8 2451.49h38.1M1903.6 2451.49h38.1M2092.8 2451.49h38.1M2471.3 2451.49h38.1M2622.7 2451.49h38.1M3228.2 2451.49h38.1M692.5 2465.64h38.1M806.1 2465.64h38.1M843.9 2465.64h38.1M1260.2 2465.64h38.1M1449.4 2465.64h38.1M1676.5 2465.64h38.1M1865.8 2465.64h38.1M1979.3 2465.64h38.1M2244.2 2465.64h38.1M2811.9 2465.64h38.1M2925.4 2465.64h38.1M3303.9 2465.64h38.1M3493.1 2465.64h38.1M427.6 2479.78h38.1M541.1 2479.78h38.1M692.5 2479.78h38.1M843.9 2479.78h38.1M1487.3 2479.78h38.1M1752.2 2479.78h38.1M1827.9 2479.78h38.1M2206.4 2479.78h38.1M2509.1 2479.78h38.1M2547.0 2479.78h38.1M2660.5 2479.78h38.1M2698.4 2479.78h38.1M2811.9 2479.78h38.1M2887.6 2479.78h38.1M3001.1 2479.78h38.1M3228.2 2479.78h38.1M3266.1 2479.78h38.1M3341.7 2479.78h38.1M3531.0 2479.78h38.1M3833.7 2479.78h38.1M1525.1 2493.93h38.1M1865.8 2493.93h38.1M2206.4 2493.93h38.1M2395.6 2493.93h38.1M2547.0 2493.93h38.1M3341.7 2493.93h38.1M3531.0 2493.93h38.1M3606.7 2493.93h38.1M3871.6 2493.93h38.1M389.8 2508.07h38.1M503.3 2508.07h38.1M768.2 2508.07h38.1M1298.1 2508.07h38.1M2206.4 2508.07h38.1M2357.8 2508.07h38.1M2660.5 2508.07h38.1M3531.0 2508.07h38.1M3606.7 2508.07h38.1M3644.5 2508.07h38.1M3758.1 2508.07h38.1M427.6 2522.22h38.1M541.1 2522.22h38.1M654.7 2522.22h38.1M1487.3 2522.22h38.1M1600.8 2522.22h38.1M1714.4 2522.22h38.1M1979.3 2522.22h38.1M2017.1 2522.22h38.1M2055.0 2522.22h38.1M2092.8 2522.22h38.1M2282.1 2522.22h38.1M2395.6 2522.22h38.1M2660.5 2522.22h38.1M2698.4 2522.22h38.1M2849.8 2522.22h38.1M3606.7 2522.22h38.1M3720.2 2522.22h38.1M3871.6 2522.22h38.1M692.5 2536.36h38.1M768.2 2536.36h38.1M1373.8 2536.36h38.1M1487.3 2536.36h38.1M1827.9 2536.36h38.1M2055.0 2536.36h38.1M2244.2 2536.36h38.1M2395.6 2536.36h38.1M3039.0 2536.36h38.1M3228.2 2536.36h38.1M3493.1 2536.36h38.1M3606.7 2536.36h38.1M3795.9 2536.36h38.1M692.5 2550.51h38.1M843.9 2550.51h38.1M1373.8 2550.51h38.1M1676.5 2550.51h38.1M1827.9 2550.51h38.1M1979.3 2550.51h38.1M2319.9 2550.51h38.1M2698.4 2550.51h38.1M2925.4 2550.51h38.1M427.6 2564.66h38.1M503.3 2564.66h38.1M541.1 2564.66h38.1M768.2 2564.66h38.1M1411.6 2564.66h38.1M1600.8 2564.66h38.1M2092.8 2564.66h38.1M2282.1 2564.66h38.1M2811.9 2564.66h38.1M2849.8 2564.66h38.1M3455.3 2564.66h38.1M3531.0 2564.66h38.1M503.3 2578.80h38.1M541.1 2578.80h38.1M616.8 2578.80h38.1M919.6 2578.80h38.1M995.3 2578.80h38.1M1071.0 2578.80h38.1M1184.5 2578.80h38.1M1260.2 2578.80h38.1M1335.9 2578.80h38.1M1714.4 2578.80h38.1M1903.6 2578.80h38.1M2055.0 2578.80h38.1M2357.8 2578.80h38.1M2736.2 2578.80h38.1M3152.5 2578.80h38.1M3341.7 2578.80h38.1M3493.1 2578.80h38.1M3606.7 2578.80h38.1M1449.4 2592.95h38.1M1865.8 2592.95h38.1M2055.0 2592.95h38.1M2092.8 2592.95h38.1M2357.8 2592.95h38.1M2433.4 2592.95h38.1M2584.8 2592.95h38.1M3341.7 2592.95h38.1"/><path fill="none" stroke="#da5a6a" stroke-width="14.45" d="M1525.1 980.38h38.1M1638.7 980.38h38.1M1714.4 980.38h38.1M2319.9 980.38h38.1M2584.8 980.38h38.1M2887.6 980.38h38.1M3493.1 980.38h38.1M389.8 994.53h38.1M1487.3 994.53h38.1M1790.1 994.53h38.1M1827.9 994.53h38.1M1941.4 994.53h38.1M2092.8 994.53h38.1M2357.8 994.53h38.1M2509.1 994.53h38.1M2811.9 994.53h38.1M2849.8 994.53h38.1M3682.4 994.53h38.1M1752.2 1008.67h38.1M1903.6 1008.67h38.1M2319.9 1008.67h38.1M2433.4 1008.67h38.1M1563.0 1022.82h38.1M1752.2 1022.82h38.1M2509.1 1022.82h38.1M3379.6 1022.82h38.1M3568.8 1022.82h38.1M465.5 1036.96h38.1M541.1 1036.96h38.1M843.9 1036.96h38.1M881.8 1036.96h38.1M2092.8 1036.96h38.1M3833.7 1036.96h38.1M957.5 1051.11h38.1M1298.1 1051.11h38.1M1525.1 1051.11h38.1M1638.7 1051.11h38.1M1752.2 1051.11h38.1M2017.1 1051.11h38.1M2319.9 1051.11h38.1M2925.4 1051.11h38.1M3417.4 1051.11h38.1M3493.1 1051.11h38.1M3644.5 1051.11h38.1M616.8 1065.25h38.1M730.4 1065.25h38.1M1600.8 1065.25h38.1M2547.0 1065.25h38.1M2698.4 1065.25h38.1M389.8 1079.40h38.1M541.1 1079.40h38.1M995.3 1079.40h38.1M1298.1 1079.40h38.1M2130.7 1079.40h38.1M2282.1 1079.40h38.1M2509.1 1079.40h38.1M2925.4 1079.40h38.1M3341.7 1079.40h38.1M3720.2 1079.40h38.1M1487.3 1093.54h38.1M1563.0 1093.54h38.1M1676.5 1093.54h38.1M1865.8 1093.54h38.1M2130.7 1093.54h38.1M2282.1 1093.54h38.1M3152.5 1093.54h38.1M3341.7 1093.54h38.1M3682.4 1093.54h38.1M579.0 1107.69h38.1M1676.5 1107.69h38.1M1714.4 1107.69h38.1M2811.9 1107.69h38.1M2963.3 1107.69h38.1M3190.4 1107.69h38.1M3341.7 1107.69h38.1M957.5 1121.83h38.1M2319.9 1121.83h38.1M2395.6 1121.83h38.1M2660.5 1121.83h38.1M3606.7 1121.83h38.1M616.8 1135.98h38.1M843.9 1150.12h38.1M1525.1 1150.12h38.1M1790.1 1150.12h38.1M1979.3 1150.12h38.1M2206.4 1150.12h38.1M2736.2 1150.12h38.1M3303.9 1150.12h38.1M3606.7 1150.12h38.1M503.3 1164.27h38.1M806.1 1164.27h38.1M1071.0 1164.27h38.1M1676.5 1164.27h38.1M1865.8 1164.27h38.1M2395.6 1164.27h38.1M2887.6 1164.27h38.1M3417.4 1164.27h38.1M3606.7 1164.27h38.1M3795.9 1164.27h38.1M730.4 1178.41h38.1M843.9 1178.41h38.1M957.5 1178.41h38.1M995.3 1178.41h38.1M1752.2 1178.41h38.1M2092.8 1178.41h38.1M3341.7 1178.41h38.1M1449.4 1192.56h38.1M1752.2 1192.56h38.1M1865.8 1192.56h38.1M2017.1 1192.56h38.1M389.8 1206.71h38.1M1335.9 1206.71h38.1M1752.2 1206.71h38.1M1865.8 1206.71h38.1M2055.0 1206.71h38.1M2168.5 1206.71h38.1M2925.4 1206.71h38.1M2963.3 1206.71h38.1M3228.2 1206.71h38.1M1563.0 1220.85h38.1M1941.4 1220.85h38.1M3114.7 1220.85h38.1M3228.2 1220.85h38.1M3379.6 1220.85h38.1M3682.4 1220.85h38.1M465.5 1235.00h38.1M616.8 1235.00h38.1M1411.6 1235.00h38.1M1903.6 1235.00h38.1M2244.2 1235.00h38.1M2357.8 1235.00h38.1M2547.0 1235.00h38.1M2887.6 1235.00h38.1M389.8 1249.14h38.1M503.3 1249.14h38.1M579.0 1249.14h38.1M1979.3 1249.14h38.1M2130.7 1249.14h38.1M2622.7 1249.14h38.1M2660.5 1249.14h38.1M2811.9 1249.14h38.1M3152.5 1249.14h38.1M3228.2 1249.14h38.1M692.5 1263.29h38.1M730.4 1263.29h38.1M2584.8 1263.29h38.1M2774.1 1263.29h38.1M2811.9 1263.29h38.1M3531.0 1263.29h38.1M3568.8 1263.29h38.1M616.8 1277.43h38.1M1525.1 1277.43h38.1M2092.8 1277.43h38.1M2395.6 1277.43h38.1M2660.5 1277.43h38.1M3266.1 1277.43h38.1M541.1 1291.58h38.1M1146.7 1291.58h38.1M1449.4 1291.58h38.1M1563.0 1291.58h38.1M1600.8 1291.58h38.1M1827.9 1291.58h38.1M2092.8 1291.58h38.1M3190.4 1291.58h38.1M3266.1 1291.58h38.1M3720.2 1291.58h38.1M579.0 1305.72h38.1M1298.1 1305.72h38.1M1373.8 1305.72h38.1M1827.9 1305.72h38.1M1865.8 1305.72h38.1M2017.1 1305.72h38.1M2963.3 1305.72h38.1M3758.1 1305.72h38.1M3871.6 1305.72h38.1M1184.5 1319.87h38.1M1411.6 1319.87h38.1M1903.6 1319.87h38.1M2055.0 1319.87h38.1M2244.2 1319.87h38.1M3833.7 1319.87h38.1M654.7 1334.01h38.1M806.1 1334.01h38.1M2357.8 1334.01h38.1M2698.4 1334.01h38.1M2736.2 1334.01h38.1M616.8 1348.16h38.1M1827.9 1348.16h38.1M1865.8 1348.16h38.1M2395.6 1348.16h38.1M3341.7 1348.16h38.1M389.8 1362.30h38.1M1033.1 1362.30h38.1M2925.4 1362.30h38.1M3341.7 1362.30h38.1M3682.4 1362.30h38.1M1487.3 1376.45h38.1M1714.4 1376.45h38.1M2168.5 1376.45h38.1M2282.1 1376.45h38.1M2736.2 1376.45h38.1M3228.2 1376.45h38.1M3341.7 1376.45h38.1M389.8 1390.59h38.1M579.0 1390.59h38.1M1108.8 1390.59h38.1M1525.1 1390.59h38.1M1676.5 1390.59h38.1M1714.4 1390.59h38.1M1903.6 1390.59h38.1M2055.0 1390.59h38.1M2547.0 1390.59h38.1M465.5 1404.74h38.1M616.8 1404.74h38.1M1335.9 1404.74h38.1M1827.9 1404.74h38.1M2357.8 1404.74h38.1M2622.7 1404.74h38.1M3417.4 1404.74h38.1M3644.5 1404.74h38.1M806.1 1418.89h38.1M2433.4 1418.89h38.1M2622.7 1418.89h38.1M3379.6 1418.89h38.1M692.5 1433.03h38.1M957.5 1433.03h38.1M1260.2 1433.03h38.1M1827.9 1433.03h38.1M2130.7 1433.03h38.1M2319.9 1433.03h38.1M3228.2 1433.03h38.1M1071.0 1447.18h38.1M1222.4 1447.18h38.1M1714.4 1447.18h38.1M1790.1 1447.18h38.1M1903.6 1447.18h38.1M3114.7 1447.18h38.1M1033.1 1461.32h38.1M1752.2 1461.32h38.1M2433.4 1461.32h38.1M3228.2 1461.32h38.1M3720.2 1461.32h38.1M3871.6 1461.32h38.1M427.6 1475.47h38.1M541.1 1475.47h38.1M579.0 1475.47h38.1M995.3 1475.47h38.1M1827.9 1475.47h38.1M1903.6 1475.47h38.1M2282.1 1475.47h38.1M2660.5 1475.47h38.1M3190.4 1475.47h38.1M3228.2 1475.47h38.1M579.0 1489.61h38.1M768.2 1489.61h38.1M919.6 1489.61h38.1M1071.0 1489.61h38.1M1638.7 1489.61h38.1M2017.1 1489.61h38.1M2433.4 1489.61h38.1M2471.3 1489.61h38.1M2547.0 1489.61h38.1M2963.3 1489.61h38.1M3493.1 1489.61h38.1M3531.0 1489.61h38.1M957.5 1503.76h38.1M995.3 1503.76h38.1M1222.4 1503.76h38.1M1411.6 1503.76h38.1M1487.3 1503.76h38.1M1563.0 1503.76h38.1M1752.2 1503.76h38.1M2282.1 1503.76h38.1M2319.9 1503.76h38.1M2395.6 1503.76h38.1M2698.4 1503.76h38.1M3039.0 1503.76h38.1M3190.4 1503.76h38.1M541.1 1517.90h38.1M579.0 1517.90h38.1M1146.7 1517.90h38.1M2130.7 1517.90h38.1M2244.2 1517.90h38.1M2925.4 1517.90h38.1M3190.4 1517.90h38.1M3758.1 1517.90h38.1M541.1 1532.05h38.1M1373.8 1532.05h38.1M2509.1 1532.05h38.1M2811.9 1532.05h38.1M3001.1 1532.05h38.1M3228.2 1532.05h38.1M3303.9 1532.05h38.1M3455.3 1532.05h38.1M3682.4 1532.05h38.1M730.4 1546.19h38.1M995.3 1546.19h38.1M2319.9 1546.19h38.1M2395.6 1546.19h38.1M2509.1 1546.19h38.1M2698.4 1546.19h38.1M3303.9 1546.19h38.1M3833.7 1546.19h38.1M1298.1 1560.34h38.1M2017.1 1560.34h38.1M2055.0 1560.34h38.1M2395.6 1560.34h38.1M2849.8 1560.34h38.1M3001.1 1560.34h38.1M3455.3 1560.34h38.1M3531.0 1560.34h38.1M3568.8 1560.34h38.1M3644.5 1560.34h38.1M427.6 1574.48h38.1M1033.1 1574.48h38.1M1487.3 1574.48h38.1M2282.1 1574.48h38.1M3455.3 1574.48h38.1M3795.9 1574.48h38.1M579.0 1588.63h38.1M806.1 1588.63h38.1M1298.1 1588.63h38.1M1449.4 1588.63h38.1M1563.0 1588.63h38.1M2282.1 1588.63h38.1M2849.8 1588.63h38.1M2925.4 1588.63h38.1M3152.5 1588.63h38.1M3228.2 1588.63h38.1M3455.3 1588.63h38.1M3606.7 1588.63h38.1M465.5 1602.77h38.1M957.5 1602.77h38.1M995.3 1602.77h38.1M1260.2 1602.77h38.1M1865.8 1602.77h38.1M2963.3 1602.77h38.1M3076.8 1602.77h38.1M919.6 1616.92h38.1M1373.8 1616.92h38.1M1790.1 1616.92h38.1M2244.2 1616.92h38.1M2282.1 1616.92h38.1M2584.8 1616.92h38.1M2736.2 1616.92h38.1M3152.5 1616.92h38.1M579.0 1631.06h38.1M1146.7 1631.06h38.1M1827.9 1631.06h38.1M2584.8 1631.06h38.1M2622.7 1631.06h38.1M3833.7 1631.06h38.1M3871.6 1631.06h38.1M427.6 1645.21h38.1M465.5 1645.21h38.1M1146.7 1645.21h38.1M1676.5 1645.21h38.1M2130.7 1645.21h38.1M3341.7 1645.21h38.1M3493.1 1645.21h38.1M3606.7 1645.21h38.1M503.3 1659.36h38.1M806.1 1659.36h38.1M2395.6 1659.36h38.1M2774.1 1659.36h38.1M1865.8 1673.50h38.1M2206.4 1673.50h38.1M2660.5 1673.50h38.1M3190.4 1673.50h38.1M579.0 1687.65h38.1M616.8 1687.65h38.1M1563.0 1687.65h38.1M2055.0 1687.65h38.1M2319.9 1687.65h38.1M2622.7 1687.65h38.1M3228.2 1687.65h38.1M3341.7 1687.65h38.1M427.6 1701.79h38.1M541.1 1701.79h38.1M806.1 1701.79h38.1M1487.3 1701.79h38.1M1790.1 1701.79h38.1M3114.7 1701.79h38.1M3228.2 1701.79h38.1M3379.6 1701.79h38.1M3568.8 1701.79h38.1M843.9 1715.94h38.1M1071.0 1715.94h38.1M1260.2 1715.94h38.1M1449.4 1715.94h38.1M2433.4 1715.94h38.1M2660.5 1715.94h38.1M3682.4 1715.94h38.1M3833.7 1715.94h38.1M503.3 1730.08h38.1M616.8 1730.08h38.1M1222.4 1730.08h38.1M1260.2 1730.08h38.1M1411.6 1730.08h38.1M1752.2 1730.08h38.1M2282.1 1730.08h38.1M2319.9 1730.08h38.1M3152.5 1730.08h38.1M3417.4 1730.08h38.1M3455.3 1730.08h38.1M465.5 1744.23h38.1M995.3 1744.23h38.1M1146.7 1744.23h38.1M1184.5 1744.23h38.1M1222.4 1744.23h38.1M1335.9 1744.23h38.1M3114.7 1744.23h38.1M427.6 1758.37h38.1M503.3 1758.37h38.1M843.9 1758.37h38.1M1260.2 1758.37h38.1M1563.0 1758.37h38.1M1638.7 1758.37h38.1M1714.4 1758.37h38.1M2130.7 1758.37h38.1M2319.9 1758.37h38.1M2774.1 1758.37h38.1M2887.6 1758.37h38.1M389.8 1772.52h38.1M465.5 1772.52h38.1M806.1 1772.52h38.1M1714.4 1772.52h38.1M1865.8 1772.52h38.1M3228.2 1772.52h38.1M3682.4 1772.52h38.1M3795.9 1772.52h38.1M768.2 1786.66h38.1M1411.6 1786.66h38.1M2244.2 1786.66h38.1M2471.3 1786.66h38.1M2622.7 1786.66h38.1M2774.1 1786.66h38.1M3114.7 1786.66h38.1M616.8 1800.81h38.1M768.2 1800.81h38.1M1563.0 1800.81h38.1M1714.4 1800.81h38.1M2055.0 1800.81h38.1M2471.3 1800.81h38.1M3152.5 1800.81h38.1M3190.4 1800.81h38.1M3568.8 1800.81h38.1M3758.1 1800.81h38.1M3795.9 1800.81h38.1M1184.5 1814.95h38.1M1790.1 1814.95h38.1M2206.4 1814.95h38.1M2395.6 1814.95h38.1M2774.1 1814.95h38.1M2887.6 1814.95h38.1M3303.9 1814.95h38.1M503.3 1829.10h38.1M730.4 1829.10h38.1M995.3 1829.10h38.1M1108.8 1829.10h38.1M1260.2 1829.10h38.1M1373.8 1829.10h38.1M1676.5 1829.10h38.1M1714.4 1829.10h38.1M2244.2 1829.10h38.1M1373.8 1843.24h38.1M2092.8 1843.24h38.1M2433.4 1843.24h38.1M2584.8 1843.24h38.1M3152.5 1843.24h38.1M3341.7 1843.24h38.1M3568.8 1843.24h38.1M3795.9 1843.24h38.1M465.5 1857.39h38.1M541.1 1857.39h38.1M806.1 1857.39h38.1M1335.9 1857.39h38.1M1563.0 1857.39h38.1M1600.8 1857.39h38.1M1941.4 1857.39h38.1M2282.1 1857.39h38.1M2357.8 1857.39h38.1M2547.0 1857.39h38.1M2963.3 1857.39h38.1M3076.8 1857.39h38.1M3417.4 1857.39h38.1M3606.7 1857.39h38.1M503.3 1871.54h38.1M1033.1 1871.54h38.1M1335.9 1871.54h38.1M1563.0 1871.54h38.1M1600.8 1871.54h38.1M2395.6 1871.54h38.1M3152.5 1871.54h38.1M3644.5 1871.54h38.1M1298.1 1885.68h38.1M1600.8 1885.68h38.1M2206.4 1885.68h38.1M3606.7 1885.68h38.1M3833.7 1885.68h38.1M503.3 1899.83h38.1M541.1 1899.83h38.1M1260.2 1899.83h38.1M1600.8 1899.83h38.1M2206.4 1899.83h38.1M2395.6 1899.83h38.1M2547.0 1899.83h38.1M3417.4 1899.83h38.1M389.8 1913.97h38.1M806.1 1913.97h38.1M881.8 1913.97h38.1M919.6 1913.97h38.1M2017.1 1913.97h38.1M2055.0 1913.97h38.1M3568.8 1913.97h38.1M3833.7 1913.97h38.1M1298.1 1928.12h38.1M1411.6 1928.12h38.1M1449.4 1928.12h38.1M1865.8 1928.12h38.1M1941.4 1928.12h38.1M541.1 1942.26h38.1M768.2 1942.26h38.1M1563.0 1942.26h38.1M2206.4 1942.26h38.1M2319.9 1942.26h38.1M3114.7 1942.26h38.1M3758.1 1942.26h38.1M692.5 1956.41h38.1M1260.2 1956.41h38.1M1373.8 1956.41h38.1M2055.0 1956.41h38.1M2244.2 1956.41h38.1M2319.9 1956.41h38.1M2963.3 1956.41h38.1M3190.4 1956.41h38.1M3341.7 1956.41h38.1M3455.3 1956.41h38.1M1373.8 1970.55h38.1M1865.8 1970.55h38.1M2055.0 1970.55h38.1M2168.5 1970.55h38.1M2206.4 1970.55h38.1M2395.6 1970.55h38.1M2433.4 1970.55h38.1M2660.5 1970.55h38.1M3833.7 1970.55h38.1M3871.6 1970.55h38.1M503.3 1984.70h38.1M768.2 1984.70h38.1M1865.8 1984.70h38.1M2168.5 1984.70h38.1M2282.1 1984.70h38.1M2963.3 1984.70h38.1M692.5 1998.84h38.1M881.8 1998.84h38.1M1790.1 1998.84h38.1M1903.6 1998.84h38.1M2130.7 1998.84h38.1M2168.5 1998.84h38.1M3795.9 1998.84h38.1M389.8 2012.99h38.1M465.5 2012.99h38.1M616.8 2012.99h38.1M1449.4 2012.99h38.1M2925.4 2012.99h38.1M503.3 2027.13h38.1M1411.6 2027.13h38.1M1525.1 2027.13h38.1M1827.9 2027.13h38.1M2092.8 2027.13h38.1M2168.5 2027.13h38.1M3417.4 2027.13h38.1M465.5 2041.28h38.1M541.1 2041.28h38.1M995.3 2041.28h38.1M1449.4 2041.28h38.1M1638.7 2041.28h38.1M1752.2 2041.28h38.1M2282.1 2041.28h38.1M2357.8 2041.28h38.1M2395.6 2041.28h38.1M2698.4 2041.28h38.1M3039.0 2041.28h38.1M806.1 2055.42h38.1M1071.0 2055.42h38.1M1714.4 2055.42h38.1M1790.1 2055.42h38.1M2282.1 2055.42h38.1M2319.9 2055.42h38.1M2736.2 2055.42h38.1M3152.5 2055.42h38.1M3493.1 2055.42h38.1M3758.1 2055.42h38.1M427.6 2069.57h38.1M995.3 2069.57h38.1M1184.5 2069.57h38.1M1298.1 2069.57h38.1M1449.4 2069.57h38.1M1600.8 2069.57h38.1M2282.1 2069.57h38.1M3114.7 2069.57h38.1M3493.1 2069.57h38.1M389.8 2083.71h38.1M768.2 2083.71h38.1M881.8 2083.71h38.1M1335.9 2083.71h38.1M2168.5 2083.71h38.1M2433.4 2083.71h38.1M2471.3 2083.71h38.1M2736.2 2083.71h38.1M2774.1 2083.71h38.1M3076.8 2083.71h38.1M3303.9 2083.71h38.1M3531.0 2083.71h38.1M957.5 2097.86h38.1M2547.0 2097.86h38.1M2774.1 2097.86h38.1M2849.8 2097.86h38.1M2887.6 2097.86h38.1M843.9 2112.01h38.1M995.3 2112.01h38.1M1411.6 2112.01h38.1M1525.1 2112.01h38.1M1563.0 2112.01h38.1M1714.4 2112.01h38.1M1790.1 2112.01h38.1M1827.9 2112.01h38.1M2206.4 2112.01h38.1M2849.8 2112.01h38.1M3833.7 2112.01h38.1M427.6 2126.15h38.1M1108.8 2126.15h38.1M1298.1 2126.15h38.1M1373.8 2126.15h38.1M1638.7 2126.15h38.1M1676.5 2126.15h38.1M1714.4 2126.15h38.1M1865.8 2126.15h38.1M1903.6 2126.15h38.1M1941.4 2126.15h38.1M2319.9 2126.15h38.1M2433.4 2126.15h38.1M3531.0 2126.15h38.1M3606.7 2126.15h38.1M3720.2 2126.15h38.1M579.0 2140.30h38.1M730.4 2140.30h38.1M1600.8 2140.30h38.1M2168.5 2140.30h38.1M2471.3 2140.30h38.1M3644.5 2140.30h38.1M1600.8 2154.44h38.1M1941.4 2154.44h38.1M2055.0 2154.44h38.1M2244.2 2154.44h38.1M2471.3 2154.44h38.1M3190.4 2154.44h38.1M3455.3 2154.44h38.1M3644.5 2154.44h38.1M3720.2 2154.44h38.1M616.8 2168.59h38.1M692.5 2168.59h38.1M1941.4 2168.59h38.1M2282.1 2168.59h38.1M2622.7 2168.59h38.1M3001.1 2168.59h38.1M3114.7 2168.59h38.1M3606.7 2168.59h38.1M3758.1 2168.59h38.1M389.8 2182.73h38.1M427.6 2182.73h38.1M503.3 2182.73h38.1M1335.9 2182.73h38.1M1903.6 2182.73h38.1M1941.4 2182.73h38.1M2887.6 2182.73h38.1M3644.5 2182.73h38.1M692.5 2196.88h38.1M806.1 2196.88h38.1M957.5 2196.88h38.1M1071.0 2196.88h38.1M1146.7 2196.88h38.1M1638.7 2196.88h38.1M1676.5 2196.88h38.1M1941.4 2196.88h38.1M1979.3 2196.88h38.1M2055.0 2196.88h38.1M2849.8 2196.88h38.1M3682.4 2196.88h38.1M3758.1 2196.88h38.1M3795.9 2196.88h38.1M503.3 2211.02h38.1M579.0 2211.02h38.1M1941.4 2211.02h38.1M3228.2 2211.02h38.1M389.8 2225.17h38.1M541.1 2225.17h38.1M919.6 2225.17h38.1M1600.8 2225.17h38.1M1752.2 2225.17h38.1M1979.3 2225.17h38.1M2092.8 2225.17h38.1M2622.7 2225.17h38.1M3606.7 2225.17h38.1M1411.6 2239.31h38.1M1563.0 2239.31h38.1M1865.8 2239.31h38.1M2206.4 2239.31h38.1M2282.1 2239.31h38.1M2471.3 2239.31h38.1M2925.4 2239.31h38.1M3682.4 2239.31h38.1M3758.1 2239.31h38.1M465.5 2253.46h38.1M692.5 2253.46h38.1M1071.0 2253.46h38.1M1790.1 2253.46h38.1M2055.0 2253.46h38.1M2622.7 2253.46h38.1M3417.4 2253.46h38.1M654.7 2267.60h38.1M1676.5 2267.60h38.1M2319.9 2267.60h38.1M3531.0 2267.60h38.1M616.8 2281.75h38.1M1298.1 2281.75h38.1M1525.1 2281.75h38.1M1638.7 2281.75h38.1M1865.8 2281.75h38.1M2357.8 2281.75h38.1M2736.2 2281.75h38.1M2774.1 2281.75h38.1M3568.8 2281.75h38.1M1638.7 2295.89h38.1M1827.9 2295.89h38.1M2244.2 2295.89h38.1M2471.3 2295.89h38.1M3266.1 2295.89h38.1M3795.9 2295.89h38.1M806.1 2310.04h38.1M957.5 2310.04h38.1M1790.1 2310.04h38.1M1941.4 2310.04h38.1M1979.3 2310.04h38.1M2206.4 2310.04h38.1M541.1 2324.19h38.1M579.0 2324.19h38.1M1373.8 2324.19h38.1M1411.6 2324.19h38.1M1525.1 2324.19h38.1M1676.5 2324.19h38.1M2055.0 2324.19h38.1M2433.4 2324.19h38.1M2471.3 2324.19h38.1M1222.4 2338.33h38.1M1260.2 2338.33h38.1M2130.7 2338.33h38.1M2433.4 2338.33h38.1M2547.0 2338.33h38.1M3531.0 2338.33h38.1M806.1 2352.48h38.1M1752.2 2352.48h38.1M1941.4 2352.48h38.1M2168.5 2352.48h38.1M1449.4 2366.62h38.1M1752.2 2366.62h38.1M1865.8 2366.62h38.1M2319.9 2366.62h38.1M2471.3 2366.62h38.1M2509.1 2366.62h38.1M2547.0 2366.62h38.1M2584.8 2366.62h38.1M3531.0 2366.62h38.1M995.3 2380.77h38.1M2319.9 2380.77h38.1M2774.1 2380.77h38.1M2963.3 2380.77h38.1M3190.4 2380.77h38.1M3266.1 2380.77h38.1M3341.7 2380.77h38.1M3379.6 2380.77h38.1M427.6 2394.91h38.1M806.1 2394.91h38.1M1411.6 2394.91h38.1M1600.8 2394.91h38.1M2282.1 2394.91h38.1M3531.0 2394.91h38.1M3871.6 2394.91h38.1M427.6 2409.06h38.1M541.1 2409.06h38.1M1108.8 2409.06h38.1M1752.2 2409.06h38.1M1941.4 2409.06h38.1M2055.0 2409.06h38.1M2168.5 2409.06h38.1M2584.8 2409.06h38.1M2774.1 2409.06h38.1M3303.9 2409.06h38.1M3379.6 2409.06h38.1M3758.1 2409.06h38.1M3871.6 2409.06h38.1M389.8 2423.20h38.1M1108.8 2423.20h38.1M1335.9 2423.20h38.1M2130.7 2423.20h38.1M2244.2 2423.20h38.1M2282.1 2423.20h38.1M3871.6 2423.20h38.1M541.1 2437.35h38.1M1411.6 2437.35h38.1M2168.5 2437.35h38.1M2206.4 2437.35h38.1M2319.9 2437.35h38.1M2395.6 2437.35h38.1M3682.4 2437.35h38.1M3720.2 2437.35h38.1M616.8 2451.49h38.1M843.9 2451.49h38.1M1790.1 2451.49h38.1M2244.2 2451.49h38.1M2849.8 2451.49h38.1M3114.7 2451.49h38.1M3303.9 2451.49h38.1M3379.6 2451.49h38.1M3417.4 2451.49h38.1M503.3 2465.64h38.1M616.8 2465.64h38.1M1563.0 2465.64h38.1M2017.1 2465.64h38.1M2282.1 2465.64h38.1M2433.4 2465.64h38.1M2471.3 2465.64h38.1M2660.5 2465.64h38.1M957.5 2479.78h38.1M2055.0 2479.78h38.1M2168.5 2479.78h38.1M2319.9 2479.78h38.1M2395.6 2479.78h38.1M2433.4 2479.78h38.1M3455.3 2479.78h38.1M730.4 2493.93h38.1M1071.0 2493.93h38.1M1260.2 2493.93h38.1M1903.6 2493.93h38.1M1941.4 2493.93h38.1M2055.0 2493.93h38.1M2244.2 2493.93h38.1M541.1 2508.07h38.1M579.0 2508.07h38.1M881.8 2508.07h38.1M1222.4 2508.07h38.1M1525.1 2508.07h38.1M1903.6 2508.07h38.1M2698.4 2508.07h38.1M2925.4 2508.07h38.1M768.2 2522.22h38.1M1146.7 2522.22h38.1M3152.5 2522.22h38.1M3493.1 2522.22h38.1M3644.5 2522.22h38.1M3682.4 2522.22h38.1M3795.9 2522.22h38.1M389.8 2536.36h38.1M957.5 2536.36h38.1M995.3 2536.36h38.1M1714.4 2536.36h38.1M1752.2 2536.36h38.1M1790.1 2536.36h38.1M1903.6 2536.36h38.1M2357.8 2536.36h38.1M616.8 2550.51h38.1M881.8 2550.51h38.1M1146.7 2550.51h38.1M1525.1 2550.51h38.1M1865.8 2550.51h38.1M3076.8 2550.51h38.1M3190.4 2550.51h38.1M3795.9 2550.51h38.1M806.1 2564.66h38.1M919.6 2564.66h38.1M1108.8 2564.66h38.1M1373.8 2564.66h38.1M1714.4 2564.66h38.1M2055.0 2564.66h38.1M2509.1 2564.66h38.1M3341.7 2564.66h38.1M465.5 2578.80h38.1M692.5 2578.80h38.1M843.9 2578.80h38.1M1033.1 2578.80h38.1M1146.7 2578.80h38.1M1752.2 2578.80h38.1M2584.8 2578.80h38.1M2622.7 2578.80h38.1M3266.1 2578.80h38.1M843.9 2592.95h38.1M1411.6 2592.95h38.1M1676.5 2592.95h38.1M1827.9 2592.95h38.1M3303.9 2592.95h38.1M3493.1 2592.95h38.1"/><path fill="none" stroke="#ea7457" stroke-width="14.45" d="M1071.0 980.38h38.1M1411.6 980.38h38.1M1979.3 980.38h38.1M2168.5 980.38h38.1M2395.6 980.38h38.1M3379.6 980.38h38.1M3076.8 994.53h38.1M3720.2 994.53h38.1M2017.1 1008.67h38.1M2471.3 1008.67h38.1M2509.1 1008.67h38.1M2698.4 1008.67h38.1M2811.9 1008.67h38.1M2963.3 1008.67h38.1M3190.4 1008.67h38.1M3303.9 1008.67h38.1M1298.1 1022.82h38.1M1411.6 1022.82h38.1M1600.8 1022.82h38.1M2774.1 1022.82h38.1M579.0 1036.96h38.1M2925.4 1036.96h38.1M3152.5 1036.96h38.1M3871.6 1036.96h38.1M616.8 1051.11h38.1M1373.8 1051.11h38.1M1790.1 1051.11h38.1M2092.8 1051.11h38.1M2584.8 1051.11h38.1M2698.4 1051.11h38.1M3266.1 1051.11h38.1M3682.4 1051.11h38.1M389.8 1065.25h38.1M465.5 1065.25h38.1M768.2 1065.25h38.1M1071.0 1065.25h38.1M2319.9 1065.25h38.1M2357.8 1065.25h38.1M2433.4 1065.25h38.1M3114.7 1065.25h38.1M3190.4 1065.25h38.1M3833.7 1065.25h38.1M1638.7 1079.40h38.1M1790.1 1079.40h38.1M2471.3 1079.40h38.1M3644.5 1079.40h38.1M1108.8 1093.54h38.1M2319.9 1093.54h38.1M2660.5 1093.54h38.1M2774.1 1093.54h38.1M3568.8 1093.54h38.1M3720.2 1093.54h38.1M730.4 1107.69h38.1M1563.0 1107.69h38.1M1979.3 1107.69h38.1M2055.0 1107.69h38.1M2244.2 1107.69h38.1M2660.5 1107.69h38.1M2736.2 1107.69h38.1M2887.6 1107.69h38.1M3720.2 1107.69h38.1M1563.0 1121.83h38.1M1790.1 1121.83h38.1M3455.3 1121.83h38.1M730.4 1135.98h38.1M1335.9 1135.98h38.1M2547.0 1135.98h38.1M2774.1 1135.98h38.1M2849.8 1135.98h38.1M3266.1 1135.98h38.1M3417.4 1135.98h38.1M1752.2 1150.12h38.1M1865.8 1150.12h38.1M2319.9 1150.12h38.1M2849.8 1150.12h38.1M3266.1 1150.12h38.1M3493.1 1150.12h38.1M3833.7 1150.12h38.1M3871.6 1150.12h38.1M541.1 1164.27h38.1M1411.6 1164.27h38.1M2963.3 1164.27h38.1M3531.0 1164.27h38.1M1411.6 1178.41h38.1M2168.5 1178.41h38.1M2282.1 1178.41h38.1M2509.1 1178.41h38.1M2736.2 1178.41h38.1M2887.6 1178.41h38.1M3568.8 1178.41h38.1M843.9 1192.56h38.1M881.8 1192.56h38.1M2244.2 1192.56h38.1M2395.6 1192.56h38.1M3076.8 1192.56h38.1M1071.0 1206.71h38.1M1411.6 1206.71h38.1M1449.4 1206.71h38.1M1827.9 1206.71h38.1M3190.4 1206.71h38.1M3379.6 1206.71h38.1M3568.8 1206.71h38.1M465.5 1220.85h38.1M843.9 1220.85h38.1M1525.1 1220.85h38.1M1600.8 1220.85h38.1M2963.3 1220.85h38.1M579.0 1235.00h38.1M1487.3 1235.00h38.1M1676.5 1235.00h38.1M3114.7 1235.00h38.1M3152.5 1235.00h38.1M3190.4 1235.00h38.1M3682.4 1235.00h38.1M3758.1 1235.00h38.1M730.4 1249.14h38.1M1827.9 1249.14h38.1M2395.6 1249.14h38.1M2547.0 1249.14h38.1M2887.6 1249.14h38.1M3795.9 1249.14h38.1M389.8 1263.29h38.1M1260.2 1263.29h38.1M1676.5 1263.29h38.1M2282.1 1263.29h38.1M2395.6 1263.29h38.1M2433.4 1263.29h38.1M3682.4 1263.29h38.1M1298.1 1277.43h38.1M1752.2 1277.43h38.1M1979.3 1277.43h38.1M2206.4 1277.43h38.1M2849.8 1277.43h38.1M3076.8 1277.43h38.1M3417.4 1277.43h38.1M3493.1 1277.43h38.1M3682.4 1277.43h38.1M3833.7 1277.43h38.1M3871.6 1277.43h38.1M465.5 1291.58h38.1M616.8 1291.58h38.1M1298.1 1291.58h38.1M1752.2 1291.58h38.1M2055.0 1291.58h38.1M2206.4 1291.58h38.1M2471.3 1291.58h38.1M3417.4 1291.58h38.1M654.7 1305.72h38.1M957.5 1305.72h38.1M1411.6 1305.72h38.1M1563.0 1305.72h38.1M3531.0 1305.72h38.1M1373.8 1319.87h38.1M1525.1 1319.87h38.1M2660.5 1319.87h38.1M3152.5 1319.87h38.1M3682.4 1319.87h38.1M3720.2 1319.87h38.1M389.8 1334.01h38.1M768.2 1334.01h38.1M1600.8 1334.01h38.1M2130.7 1334.01h38.1M2168.5 1334.01h38.1M2395.6 1334.01h38.1M2774.1 1334.01h38.1M503.3 1348.16h38.1M3606.7 1348.16h38.1M881.8 1362.30h38.1M1714.4 1362.30h38.1M2244.2 1362.30h38.1M2774.1 1362.30h38.1M3039.0 1362.30h38.1M1071.0 1376.45h38.1M1790.1 1376.45h38.1M1979.3 1376.45h38.1M2357.8 1376.45h38.1M2395.6 1376.45h38.1M2509.1 1376.45h38.1M2774.1 1376.45h38.1M2811.9 1376.45h38.1M2963.3 1376.45h38.1M3190.4 1376.45h38.1M3455.3 1376.45h38.1M3758.1 1376.45h38.1M427.6 1390.59h38.1M1563.0 1390.59h38.1M2357.8 1390.59h38.1M2395.6 1390.59h38.1M2698.4 1390.59h38.1M2811.9 1390.59h38.1M3076.8 1390.59h38.1M3341.7 1390.59h38.1M3417.4 1390.59h38.1M3644.5 1390.59h38.1M692.5 1404.74h38.1M1260.2 1404.74h38.1M1525.1 1404.74h38.1M1979.3 1404.74h38.1M2206.4 1404.74h38.1M2471.3 1404.74h38.1M3152.5 1404.74h38.1M1033.1 1418.89h38.1M1071.0 1418.89h38.1M1563.0 1418.89h38.1M1676.5 1418.89h38.1M1979.3 1418.89h38.1M2244.2 1418.89h38.1M2509.1 1418.89h38.1M3531.0 1418.89h38.1M3758.1 1418.89h38.1M1600.8 1433.03h38.1M2168.5 1433.03h38.1M2509.1 1433.03h38.1M2660.5 1433.03h38.1M2774.1 1433.03h38.1M2849.8 1433.03h38.1M1411.6 1447.18h38.1M2547.0 1447.18h38.1M3568.8 1447.18h38.1M843.9 1461.32h38.1M1525.1 1461.32h38.1M1676.5 1461.32h38.1M2244.2 1461.32h38.1M2282.1 1461.32h38.1M2319.9 1461.32h38.1M2357.8 1461.32h38.1M2622.7 1461.32h38.1M3190.4 1461.32h38.1M3266.1 1461.32h38.1M1790.1 1475.47h38.1M1865.8 1475.47h38.1M3341.7 1475.47h38.1M3379.6 1475.47h38.1M3417.4 1475.47h38.1M616.8 1489.61h38.1M1184.5 1489.61h38.1M2055.0 1489.61h38.1M2244.2 1489.61h38.1M2282.1 1489.61h38.1M2736.2 1489.61h38.1M3455.3 1489.61h38.1M1146.7 1503.76h38.1M2206.4 1503.76h38.1M2849.8 1503.76h38.1M3720.2 1503.76h38.1M654.7 1517.90h38.1M1298.1 1517.90h38.1M1335.9 1517.90h38.1M1827.9 1517.90h38.1M3341.7 1517.90h38.1M3871.6 1517.90h38.1M465.5 1532.05h38.1M806.1 1532.05h38.1M1827.9 1532.05h38.1M3493.1 1532.05h38.1M3606.7 1532.05h38.1M541.1 1546.19h38.1M1525.1 1546.19h38.1M2092.8 1546.19h38.1M3455.3 1546.19h38.1M3568.8 1546.19h38.1M692.5 1560.34h38.1M1525.1 1560.34h38.1M1903.6 1560.34h38.1M2660.5 1560.34h38.1M843.9 1574.48h38.1M1298.1 1574.48h38.1M1714.4 1574.48h38.1M2017.1 1574.48h38.1M2433.4 1574.48h38.1M2547.0 1574.48h38.1M3190.4 1574.48h38.1M3871.6 1574.48h38.1M389.8 1588.63h38.1M1146.7 1588.63h38.1M2547.0 1602.77h38.1M2736.2 1602.77h38.1M3455.3 1602.77h38.1M3644.5 1602.77h38.1M3682.4 1602.77h38.1M3871.6 1602.77h38.1M1714.4 1616.92h38.1M1827.9 1616.92h38.1M2168.5 1616.92h38.1M3417.4 1616.92h38.1M427.6 1631.06h38.1M541.1 1631.06h38.1M919.6 1631.06h38.1M1449.4 1631.06h38.1M1563.0 1631.06h38.1M1600.8 1631.06h38.1M1714.4 1631.06h38.1M1903.6 1631.06h38.1M2092.8 1631.06h38.1M2698.4 1631.06h38.1M2887.6 1631.06h38.1M3455.3 1631.06h38.1M616.8 1645.21h38.1M1790.1 1645.21h38.1M1903.6 1645.21h38.1M2433.4 1645.21h38.1M2811.9 1645.21h38.1M3228.2 1645.21h38.1M2622.7 1659.36h38.1M3190.4 1659.36h38.1M3266.1 1659.36h38.1M1714.4 1673.50h38.1M1827.9 1673.50h38.1M2282.1 1673.50h38.1M2319.9 1673.50h38.1M2584.8 1673.50h38.1M2925.4 1673.50h38.1M3720.2 1673.50h38.1M1600.8 1687.65h38.1M1979.3 1687.65h38.1M919.6 1701.79h38.1M1449.4 1701.79h38.1M1752.2 1701.79h38.1M2698.4 1701.79h38.1M3266.1 1701.79h38.1M3455.3 1701.79h38.1M3720.2 1701.79h38.1M541.1 1715.94h38.1M1676.5 1715.94h38.1M3379.6 1715.94h38.1M3493.1 1715.94h38.1M3568.8 1715.94h38.1M806.1 1730.08h38.1M1033.1 1730.08h38.1M1146.7 1730.08h38.1M1335.9 1730.08h38.1M1790.1 1730.08h38.1M2206.4 1730.08h38.1M2471.3 1730.08h38.1M3379.6 1730.08h38.1M3531.0 1730.08h38.1M843.9 1744.23h38.1M957.5 1744.23h38.1M1752.2 1744.23h38.1M2055.0 1744.23h38.1M2244.2 1744.23h38.1M2584.8 1744.23h38.1M2736.2 1744.23h38.1M2811.9 1744.23h38.1M3152.5 1744.23h38.1M3228.2 1744.23h38.1M3417.4 1744.23h38.1M1525.1 1758.37h38.1M1827.9 1758.37h38.1M2282.1 1758.37h38.1M3606.7 1758.37h38.1M3758.1 1758.37h38.1M3795.9 1758.37h38.1M843.9 1772.52h38.1M1071.0 1772.52h38.1M2395.6 1772.52h38.1M2471.3 1772.52h38.1M3190.4 1772.52h38.1M3606.7 1772.52h38.1M730.4 1786.66h38.1M1525.1 1786.66h38.1M1979.3 1786.66h38.1M2168.5 1786.66h38.1M2319.9 1786.66h38.1M2698.4 1786.66h38.1M3644.5 1786.66h38.1M389.8 1800.81h38.1M919.6 1800.81h38.1M1335.9 1800.81h38.1M1600.8 1800.81h38.1M1638.7 1800.81h38.1M1790.1 1800.81h38.1M2319.9 1800.81h38.1M2395.6 1800.81h38.1M3644.5 1800.81h38.1M3682.4 1800.81h38.1M1449.4 1814.95h38.1M2319.9 1814.95h38.1M2017.1 1829.10h38.1M2282.1 1829.10h38.1M3417.4 1829.10h38.1M3795.9 1829.10h38.1M1827.9 1843.24h38.1M1941.4 1843.24h38.1M1979.3 1843.24h38.1M2849.8 1843.24h38.1M3720.2 1843.24h38.1M957.5 1857.39h38.1M1373.8 1857.39h38.1M1827.9 1857.39h38.1M2395.6 1857.39h38.1M2433.4 1857.39h38.1M2925.4 1857.39h38.1M3190.4 1857.39h38.1M730.4 1871.54h38.1M1752.2 1871.54h38.1M2130.7 1871.54h38.1M2319.9 1871.54h38.1M2547.0 1871.54h38.1M2887.6 1871.54h38.1M3228.2 1871.54h38.1M3682.4 1871.54h38.1M1108.8 1885.68h38.1M1335.9 1885.68h38.1M1525.1 1885.68h38.1M2433.4 1885.68h38.1M2736.2 1885.68h38.1M2887.6 1885.68h38.1M3531.0 1885.68h38.1M427.6 1899.83h38.1M730.4 1899.83h38.1M768.2 1899.83h38.1M843.9 1899.83h38.1M2887.6 1899.83h38.1M3076.8 1899.83h38.1M3303.9 1899.83h38.1M3455.3 1899.83h38.1M957.5 1913.97h38.1M1033.1 1913.97h38.1M1752.2 1913.97h38.1M2584.8 1913.97h38.1M3758.1 1913.97h38.1M692.5 1928.12h38.1M1108.8 1928.12h38.1M1260.2 1928.12h38.1M1827.9 1928.12h38.1M1979.3 1928.12h38.1M2017.1 1928.12h38.1M2055.0 1928.12h38.1M2092.8 1928.12h38.1M3039.0 1928.12h38.1M3455.3 1928.12h38.1M3871.6 1928.12h38.1M919.6 1942.26h38.1M957.5 1942.26h38.1M1071.0 1942.26h38.1M1222.4 1942.26h38.1M1676.5 1942.26h38.1M1827.9 1942.26h38.1M2055.0 1942.26h38.1M2244.2 1942.26h38.1M2660.5 1942.26h38.1M2849.8 1942.26h38.1M1941.4 1956.41h38.1M2017.1 1956.41h38.1M2395.6 1956.41h38.1M3039.0 1956.41h38.1M3606.7 1956.41h38.1M465.5 1970.55h38.1M806.1 1970.55h38.1M995.3 1970.55h38.1M1449.4 1970.55h38.1M1790.1 1970.55h38.1M1941.4 1970.55h38.1M2811.9 1970.55h38.1M3228.2 1970.55h38.1M3341.7 1970.55h38.1M3531.0 1970.55h38.1M3606.7 1970.55h38.1M3795.9 1970.55h38.1M692.5 1984.70h38.1M1752.2 1984.70h38.1M1790.1 1984.70h38.1M1941.4 1984.70h38.1M2244.2 1984.70h38.1M503.3 1998.84h38.1M654.7 1998.84h38.1M919.6 1998.84h38.1M1071.0 1998.84h38.1M1411.6 1998.84h38.1M2244.2 1998.84h38.1M2357.8 1998.84h38.1M3341.7 1998.84h38.1M3417.4 1998.84h38.1M3493.1 1998.84h38.1M768.2 2012.99h38.1M1865.8 2012.99h38.1M1979.3 2012.99h38.1M2244.2 2012.99h38.1M2509.1 2012.99h38.1M3190.4 2012.99h38.1M768.2 2027.13h38.1M881.8 2027.13h38.1M919.6 2027.13h38.1M1298.1 2027.13h38.1M1865.8 2027.13h38.1M1979.3 2027.13h38.1M2736.2 2027.13h38.1M3644.5 2027.13h38.1M1146.7 2041.28h38.1M1790.1 2041.28h38.1M1865.8 2041.28h38.1M3341.7 2041.28h38.1M3455.3 2041.28h38.1M3606.7 2041.28h38.1M1827.9 2055.42h38.1M1979.3 2055.42h38.1M2244.2 2055.42h38.1M3190.4 2055.42h38.1M3228.2 2055.42h38.1M3341.7 2055.42h38.1M692.5 2069.57h38.1M843.9 2069.57h38.1M1335.9 2069.57h38.1M2017.1 2069.57h38.1M2168.5 2069.57h38.1M2471.3 2069.57h38.1M2698.4 2069.57h38.1M2811.9 2069.57h38.1M806.1 2083.71h38.1M1714.4 2083.71h38.1M1790.1 2083.71h38.1M1941.4 2083.71h38.1M1979.3 2083.71h38.1M2244.2 2083.71h38.1M2319.9 2083.71h38.1M3417.4 2083.71h38.1M768.2 2097.86h38.1M1146.7 2097.86h38.1M3303.9 2097.86h38.1M654.7 2112.01h38.1M2244.2 2112.01h38.1M2622.7 2112.01h38.1M2698.4 2112.01h38.1M2963.3 2112.01h38.1M3001.1 2112.01h38.1M3303.9 2112.01h38.1M3568.8 2112.01h38.1M2130.7 2126.15h38.1M2206.4 2126.15h38.1M2395.6 2126.15h38.1M2547.0 2126.15h38.1M2736.2 2126.15h38.1M465.5 2140.30h38.1M503.3 2140.30h38.1M995.3 2140.30h38.1M1033.1 2140.30h38.1M1373.8 2140.30h38.1M1638.7 2140.30h38.1M1865.8 2140.30h38.1M2130.7 2140.30h38.1M2206.4 2140.30h38.1M2509.1 2140.30h38.1M2698.4 2140.30h38.1M2774.1 2140.30h38.1M2811.9 2140.30h38.1M3455.3 2140.30h38.1M389.8 2154.44h38.1M616.8 2154.44h38.1M1108.8 2154.44h38.1M1298.1 2154.44h38.1M1335.9 2154.44h38.1M2130.7 2154.44h38.1M2547.0 2154.44h38.1M2736.2 2154.44h38.1M2887.6 2154.44h38.1M3001.1 2154.44h38.1M3039.0 2154.44h38.1M3152.5 2154.44h38.1M3341.7 2154.44h38.1M730.4 2168.59h38.1M768.2 2168.59h38.1M919.6 2168.59h38.1M1033.1 2168.59h38.1M1108.8 2168.59h38.1M1184.5 2168.59h38.1M1373.8 2168.59h38.1M1600.8 2168.59h38.1M1790.1 2168.59h38.1M1865.8 2168.59h38.1M2244.2 2168.59h38.1M2433.4 2168.59h38.1M2698.4 2168.59h38.1M3076.8 2168.59h38.1M3228.2 2168.59h38.1M3303.9 2168.59h38.1M768.2 2182.73h38.1M1373.8 2182.73h38.1M1449.4 2182.73h38.1M1563.0 2182.73h38.1M2017.1 2182.73h38.1M2130.7 2182.73h38.1M2282.1 2182.73h38.1M2357.8 2182.73h38.1M427.6 2196.88h38.1M465.5 2196.88h38.1M2017.1 2196.88h38.1M2206.4 2196.88h38.1M2357.8 2196.88h38.1M2660.5 2196.88h38.1M465.5 2211.02h38.1M1714.4 2211.02h38.1M1903.6 2211.02h38.1M2092.8 2211.02h38.1M2130.7 2211.02h38.1M2206.4 2211.02h38.1M2395.6 2211.02h38.1M2698.4 2211.02h38.1M2736.2 2211.02h38.1M2774.1 2211.02h38.1M2887.6 2211.02h38.1M3114.7 2211.02h38.1M3152.5 2211.02h38.1M3190.4 2211.02h38.1M427.6 2225.17h38.1M768.2 2225.17h38.1M1335.9 2225.17h38.1M1903.6 2225.17h38.1M3190.4 2225.17h38.1M3341.7 2225.17h38.1M3758.1 2225.17h38.1M503.3 2239.31h38.1M1638.7 2239.31h38.1M1903.6 2239.31h38.1M1979.3 2239.31h38.1M2357.8 2239.31h38.1M2433.4 2239.31h38.1M2622.7 2239.31h38.1M3152.5 2239.31h38.1M654.7 2253.46h38.1M730.4 2253.46h38.1M843.9 2253.46h38.1M881.8 2253.46h38.1M1222.4 2253.46h38.1M1411.6 2253.46h38.1M1752.2 2253.46h38.1M1941.4 2253.46h38.1M1979.3 2253.46h38.1M2282.1 2253.46h38.1M2319.9 2253.46h38.1M1790.1 2267.60h38.1M2055.0 2267.60h38.1M3341.7 2267.60h38.1M3644.5 2267.60h38.1M3720.2 2267.60h38.1M730.4 2281.75h38.1M1563.0 2281.75h38.1M1790.1 2281.75h38.1M1979.3 2281.75h38.1M2282.1 2281.75h38.1M2319.9 2281.75h38.1M2509.1 2281.75h38.1M2811.9 2281.75h38.1M843.9 2295.89h38.1M1108.8 2295.89h38.1M1714.4 2295.89h38.1M1903.6 2295.89h38.1M2509.1 2295.89h38.1M2584.8 2295.89h38.1M2736.2 2295.89h38.1M3039.0 2295.89h38.1M3228.2 2295.89h38.1M3758.1 2295.89h38.1M654.7 2310.04h38.1M919.6 2310.04h38.1M1108.8 2310.04h38.1M2319.9 2310.04h38.1M3039.0 2310.04h38.1M503.3 2324.19h38.1M1335.9 2324.19h38.1M1903.6 2324.19h38.1M2395.6 2324.19h38.1M2509.1 2324.19h38.1M1714.4 2338.33h38.1M1979.3 2338.33h38.1M2471.3 2338.33h38.1M2509.1 2338.33h38.1M579.0 2352.48h38.1M692.5 2352.48h38.1M1222.4 2352.48h38.1M1335.9 2352.48h38.1M1487.3 2352.48h38.1M1903.6 2352.48h38.1M2395.6 2352.48h38.1M2925.4 2352.48h38.1M3190.4 2352.48h38.1M881.8 2366.62h38.1M1184.5 2366.62h38.1M1222.4 2366.62h38.1M1903.6 2366.62h38.1M2092.8 2366.62h38.1M2395.6 2366.62h38.1M2698.4 2366.62h38.1M3266.1 2366.62h38.1M3417.4 2366.62h38.1M1714.4 2380.77h38.1M2092.8 2380.77h38.1M2206.4 2380.77h38.1M2395.6 2380.77h38.1M2471.3 2380.77h38.1M1146.7 2394.91h38.1M1184.5 2394.91h38.1M2055.0 2394.91h38.1M2092.8 2394.91h38.1M2130.7 2394.91h38.1M2433.4 2394.91h38.1M2471.3 2394.91h38.1M3152.5 2394.91h38.1M389.8 2409.06h38.1M730.4 2409.06h38.1M768.2 2409.06h38.1M1033.1 2409.06h38.1M1335.9 2409.06h38.1M1373.8 2409.06h38.1M1525.1 2409.06h38.1M1827.9 2409.06h38.1M2092.8 2409.06h38.1M2395.6 2409.06h38.1M2547.0 2409.06h38.1M2925.4 2409.06h38.1M616.8 2423.20h38.1M806.1 2423.20h38.1M1411.6 2423.20h38.1M1865.8 2423.20h38.1M1941.4 2423.20h38.1M2092.8 2423.20h38.1M2168.5 2423.20h38.1M2471.3 2423.20h38.1M2509.1 2423.20h38.1M3001.1 2423.20h38.1M3114.7 2423.20h38.1M843.9 2437.35h38.1M1071.0 2437.35h38.1M2092.8 2437.35h38.1M2130.7 2437.35h38.1M2698.4 2437.35h38.1M3228.2 2437.35h38.1M3493.1 2437.35h38.1M654.7 2451.49h38.1M1108.8 2451.49h38.1M1260.2 2451.49h38.1M1638.7 2451.49h38.1M2168.5 2451.49h38.1M2319.9 2451.49h38.1M2433.4 2451.49h38.1M2509.1 2451.49h38.1M3076.8 2451.49h38.1M1222.4 2465.64h38.1M2092.8 2465.64h38.1M2206.4 2465.64h38.1M2319.9 2465.64h38.1M2357.8 2465.64h38.1M3076.8 2465.64h38.1M3644.5 2465.64h38.1M3682.4 2465.64h38.1M3833.7 2465.64h38.1M1373.8 2479.78h38.1M1638.7 2479.78h38.1M1676.5 2479.78h38.1M2244.2 2479.78h38.1M2357.8 2479.78h38.1M2471.3 2479.78h38.1M2622.7 2479.78h38.1M3871.6 2479.78h38.1M579.0 2493.93h38.1M1752.2 2493.93h38.1M2357.8 2493.93h38.1M2433.4 2493.93h38.1M2509.1 2493.93h38.1M2660.5 2493.93h38.1M2849.8 2493.93h38.1M2887.6 2493.93h38.1M3076.8 2493.93h38.1M730.4 2508.07h38.1M1600.8 2508.07h38.1M1941.4 2508.07h38.1M2168.5 2508.07h38.1M2395.6 2508.07h38.1M2584.8 2508.07h38.1M2622.7 2508.07h38.1M3001.1 2508.07h38.1M3152.5 2508.07h38.1M3190.4 2508.07h38.1M3682.4 2508.07h38.1M616.8 2522.22h38.1M843.9 2522.22h38.1M2357.8 2522.22h38.1M2509.1 2522.22h38.1M3266.1 2522.22h38.1M465.5 2536.36h38.1M654.7 2536.36h38.1M1260.2 2536.36h38.1M1979.3 2536.36h38.1M2319.9 2536.36h38.1M2433.4 2536.36h38.1M3644.5 2536.36h38.1M3682.4 2536.36h38.1M1260.2 2550.51h38.1M1449.4 2550.51h38.1M2206.4 2550.51h38.1M2357.8 2550.51h38.1M2509.1 2550.51h38.1M3303.9 2550.51h38.1M3455.3 2550.51h38.1M465.5 2564.66h38.1M579.0 2564.66h38.1M1563.0 2564.66h38.1M1979.3 2564.66h38.1M2168.5 2564.66h38.1M2471.3 2564.66h38.1M2963.3 2564.66h38.1M3001.1 2564.66h38.1M3076.8 2564.66h38.1M3795.9 2564.66h38.1M654.7 2578.80h38.1M2017.1 2578.80h38.1M2092.8 2578.80h38.1M2130.7 2578.80h38.1M2509.1 2578.80h38.1M1752.2 2592.95h38.1M2244.2 2592.95h38.1M2282.1 2592.95h38.1M2319.9 2592.95h38.1M2849.8 2592.95h38.1M3568.8 2592.95h38.1M3720.2 2592.95h38.1"/><path fill="none" stroke="#fba139" stroke-width="14.45" d="M2698.4 980.38h38.1M3341.7 980.38h38.1M541.1 994.53h38.1M2282.1 994.53h38.1M3228.2 994.53h38.1M3758.1 1008.67h38.1M654.7 1022.82h38.1M2206.4 1022.82h38.1M2887.6 1022.82h38.1M3228.2 1036.96h38.1M465.5 1051.11h38.1M503.3 1051.11h38.1M2282.1 1051.11h38.1M3606.7 1051.11h38.1M579.0 1065.25h38.1M1714.4 1065.25h38.1M1790.1 1065.25h38.1M2925.4 1065.25h38.1M843.9 1079.40h38.1M1071.0 1079.40h38.1M2395.6 1079.40h38.1M2584.8 1079.40h38.1M1184.5 1093.54h38.1M3379.6 1093.54h38.1M503.3 1107.69h38.1M1752.2 1121.83h38.1M465.5 1135.98h38.1M2660.5 1135.98h38.1M579.0 1164.27h38.1M2698.4 1178.41h38.1M3001.1 1178.41h38.1M1373.8 1192.56h38.1M1638.7 1192.56h38.1M3568.8 1192.56h38.1M3758.1 1192.56h38.1M3833.7 1192.56h38.1M2206.4 1206.71h38.1M3303.9 1206.71h38.1M3682.4 1206.71h38.1M3833.7 1206.71h38.1M1033.1 1220.85h38.1M1714.4 1220.85h38.1M3568.8 1220.85h38.1M3758.1 1220.85h38.1M843.9 1235.00h38.1M2509.1 1235.00h38.1M768.2 1249.14h38.1M768.2 1263.29h38.1M957.5 1263.29h38.1M1222.4 1263.29h38.1M1373.8 1263.29h38.1M3379.6 1263.29h38.1M541.1 1277.43h38.1M1146.7 1277.43h38.1M3152.5 1277.43h38.1M2811.9 1291.58h38.1M1941.4 1305.72h38.1M2547.0 1305.72h38.1M3341.7 1319.87h38.1M2282.1 1334.01h38.1M2547.0 1334.01h38.1M1373.8 1362.30h38.1M2055.0 1362.30h38.1M2357.8 1362.30h38.1M2547.0 1376.45h38.1M3379.6 1390.59h38.1M3682.4 1390.59h38.1M1676.5 1404.74h38.1M389.8 1418.89h38.1M1600.8 1418.89h38.1M1790.1 1433.03h38.1M1941.4 1433.03h38.1M3720.2 1433.03h38.1M3190.4 1447.18h38.1M3455.3 1447.18h38.1M3039.0 1461.32h38.1M3606.7 1475.47h38.1M995.3 1489.61h38.1M1525.1 1489.61h38.1M2395.6 1489.61h38.1M2811.9 1489.61h38.1M2925.4 1489.61h38.1M3720.2 1489.61h38.1M3833.7 1489.61h38.1M1525.1 1503.76h38.1M1979.3 1503.76h38.1M1071.0 1532.05h38.1M1260.2 1532.05h38.1M2319.9 1532.05h38.1M1638.7 1546.19h38.1M2811.9 1560.34h38.1M1411.6 1574.48h38.1M919.6 1588.63h38.1M1222.4 1588.63h38.1M503.3 1602.77h38.1M3190.4 1616.92h38.1M654.7 1631.06h38.1M2206.4 1631.06h38.1M3039.0 1631.06h38.1M1184.5 1645.21h38.1M1638.7 1645.21h38.1M541.1 1659.36h38.1M1222.4 1687.65h38.1M3833.7 1687.65h38.1M730.4 1701.79h38.1M692.5 1715.94h38.1M1600.8 1715.94h38.1M2055.0 1715.94h38.1M2584.8 1715.94h38.1M2622.7 1715.94h38.1M3152.5 1715.94h38.1M2055.0 1730.08h38.1M3341.7 1730.08h38.1M1903.6 1744.23h38.1M2774.1 1744.23h38.1M881.8 1758.37h38.1M1071.0 1758.37h38.1M1752.2 1758.37h38.1M2017.1 1758.37h38.1M3152.5 1758.37h38.1M919.6 1772.52h38.1M1752.2 1772.52h38.1M2925.4 1772.52h38.1M616.8 1786.66h38.1M2055.0 1786.66h38.1M3568.8 1786.66h38.1M1487.3 1800.81h38.1M579.0 1814.95h38.1M1903.6 1814.95h38.1M2736.2 1814.95h38.1M3190.4 1814.95h38.1M3417.4 1814.95h38.1M2055.0 1829.10h38.1M2925.4 1829.10h38.1M1676.5 1843.24h38.1M1033.1 1857.39h38.1M1903.6 1857.39h38.1M2319.9 1857.39h38.1M3531.0 1857.39h38.1M3568.8 1857.39h38.1M3720.2 1857.39h38.1M995.3 1871.54h38.1M2206.4 1871.54h38.1M2282.1 1885.68h38.1M2622.7 1885.68h38.1M1563.0 1899.83h38.1M1790.1 1899.83h38.1M2092.8 1899.83h38.1M1714.4 1913.97h38.1M2282.1 1913.97h38.1M2509.1 1913.97h38.1M730.4 1928.12h38.1M1146.7 1928.12h38.1M2168.5 1928.12h38.1M1335.9 1942.26h38.1M2547.0 1942.26h38.1M2925.4 1942.26h38.1M1487.3 1956.41h38.1M1790.1 1956.41h38.1M1903.6 1956.41h38.1M2092.8 1956.41h38.1M2206.4 1956.41h38.1M2092.8 1970.55h38.1M919.6 1984.70h38.1M2055.0 1984.70h38.1M2092.8 1984.70h38.1M2130.7 1984.70h38.1M579.0 1998.84h38.1M1714.4 1998.84h38.1M3871.6 1998.84h38.1M1752.2 2027.13h38.1M1790.1 2027.13h38.1M2055.0 2027.13h38.1M2811.9 2027.13h38.1M3720.2 2027.13h38.1M2092.8 2041.28h38.1M3228.2 2041.28h38.1M1222.4 2055.42h38.1M2017.1 2055.42h38.1M2055.0 2055.42h38.1M2130.7 2055.42h38.1M2811.9 2055.42h38.1M1525.1 2083.71h38.1M2017.1 2083.71h38.1M1752.2 2097.86h38.1M2130.7 2097.86h38.1M2244.2 2097.86h38.1M2282.1 2097.86h38.1M2698.4 2097.86h38.1M3606.7 2097.86h38.1M1941.4 2112.01h38.1M2017.1 2112.01h38.1M2168.5 2112.01h38.1M2395.6 2112.01h38.1M2055.0 2126.15h38.1M2471.3 2126.15h38.1M2622.7 2126.15h38.1M3228.2 2126.15h38.1M1827.9 2140.30h38.1M2092.8 2140.30h38.1M2244.2 2140.30h38.1M2736.2 2140.30h38.1M1865.8 2154.44h38.1M1979.3 2154.44h38.1M2092.8 2154.44h38.1M2282.1 2154.44h38.1M2774.1 2154.44h38.1M465.5 2168.59h38.1M1979.3 2168.59h38.1M2017.1 2168.59h38.1M2092.8 2168.59h38.1M2130.7 2168.59h38.1M3720.2 2168.59h38.1M1525.1 2182.73h38.1M2244.2 2182.73h38.1M1449.4 2196.88h38.1M2395.6 2196.88h38.1M2017.1 2211.02h38.1M1941.4 2225.17h38.1M2055.0 2225.17h38.1M2206.4 2225.17h38.1M2244.2 2225.17h38.1M2092.8 2239.31h38.1M2130.7 2239.31h38.1M2244.2 2239.31h38.1M2319.9 2239.31h38.1M2395.6 2239.31h38.1M2584.8 2239.31h38.1M1563.0 2253.46h38.1M2471.3 2253.46h38.1M2244.2 2267.60h38.1M2887.6 2267.60h38.1M2925.4 2267.60h38.1M3039.0 2267.60h38.1M2017.1 2281.75h38.1M2092.8 2281.75h38.1M2244.2 2281.75h38.1M3871.6 2281.75h38.1M1373.8 2295.89h38.1M1979.3 2295.89h38.1M2055.0 2295.89h38.1M2206.4 2295.89h38.1M2282.1 2295.89h38.1M2357.8 2295.89h38.1M843.9 2310.04h38.1M1146.7 2310.04h38.1M2055.0 2310.04h38.1M2168.5 2310.04h38.1M2244.2 2310.04h38.1M2433.4 2310.04h38.1M2887.6 2310.04h38.1M389.8 2324.19h38.1M1108.8 2324.19h38.1M1638.7 2324.19h38.1M2168.5 2324.19h38.1M2319.9 2324.19h38.1M2736.2 2324.19h38.1M3001.1 2324.19h38.1M3228.2 2324.19h38.1M3682.4 2324.19h38.1M3720.2 2324.19h38.1M389.8 2338.33h38.1M616.8 2338.33h38.1M1600.8 2338.33h38.1M2168.5 2338.33h38.1M2206.4 2338.33h38.1M2282.1 2338.33h38.1M2395.6 2338.33h38.1M3833.7 2338.33h38.1M957.5 2352.48h38.1M2092.8 2352.48h38.1M2357.8 2352.48h38.1M2433.4 2352.48h38.1M3001.1 2352.48h38.1M2168.5 2366.62h38.1M1487.3 2380.77h38.1M1525.1 2380.77h38.1M2055.0 2380.77h38.1M2244.2 2380.77h38.1M3493.1 2380.77h38.1M3076.8 2394.91h38.1M1260.2 2409.06h38.1M2017.1 2409.06h38.1M2244.2 2409.06h38.1M2319.9 2409.06h38.1M1903.6 2423.20h38.1M2206.4 2423.20h38.1M3266.1 2423.20h38.1M1487.3 2437.35h38.1M1903.6 2437.35h38.1M2282.1 2437.35h38.1M2433.4 2437.35h38.1M2471.3 2437.35h38.1M1979.3 2451.49h38.1M2130.7 2451.49h38.1M2206.4 2451.49h38.1M2282.1 2451.49h38.1M2547.0 2451.49h38.1M2660.5 2451.49h38.1M2698.4 2451.49h38.1M541.1 2465.64h38.1M2055.0 2465.64h38.1M2130.7 2465.64h38.1M2509.1 2465.64h38.1M1903.6 2479.78h38.1M2130.7 2479.78h38.1M3606.7 2479.78h38.1M616.8 2493.93h38.1M957.5 2493.93h38.1M2092.8 2493.93h38.1M2584.8 2493.93h38.1M2282.1 2508.07h38.1M2509.1 2508.07h38.1M1827.9 2522.22h38.1M2168.5 2522.22h38.1M2319.9 2522.22h38.1M2433.4 2522.22h38.1M2547.0 2522.22h38.1M3568.8 2522.22h38.1M1941.4 2536.36h38.1M2698.4 2536.36h38.1M2055.0 2550.51h38.1M2584.8 2550.51h38.1M1525.1 2564.66h38.1M1865.8 2564.66h38.1M2244.2 2564.66h38.1M2622.7 2564.66h38.1M806.1 2578.80h38.1M1108.8 2578.80h38.1M1790.1 2592.95h38.1M2698.4 2592.95h38.1"/><path fill="none" stroke="#fdc229" stroke-width="14.45" d="M1222.4 994.53h38.1M427.6 1022.82h38.1M1184.5 1036.96h38.1M3644.5 1036.96h38.1M2017.1 1065.25h38.1M1449.4 1079.40h38.1M3266.1 1093.54h38.1M692.5 1107.69h38.1M1411.6 1121.83h38.1M3682.4 1121.83h38.1M2092.8 1135.98h38.1M1714.4 1164.27h38.1M1108.8 1178.41h38.1M2547.0 1206.71h38.1M3455.3 1235.00h38.1M654.7 1249.14h38.1M1260.2 1305.72h38.1M2055.0 1305.72h38.1M1411.6 1348.16h38.1M3644.5 1348.16h38.1M1108.8 1376.45h38.1M843.9 1390.59h38.1M1827.9 1390.59h38.1M503.3 1404.74h38.1M995.3 1404.74h38.1M2055.0 1418.89h38.1M2433.4 1447.18h38.1M3833.7 1461.32h38.1M1790.1 1489.61h38.1M2282.1 1517.90h38.1M3379.6 1546.19h38.1M389.8 1560.34h38.1M919.6 1560.34h38.1M692.5 1602.77h38.1M2584.8 1602.77h38.1M389.8 1631.06h38.1M2547.0 1659.36h38.1M1373.8 1673.50h38.1M1033.1 1687.65h38.1M2282.1 1687.65h38.1M2811.9 1687.65h38.1M3795.9 1715.94h38.1M579.0 1730.08h38.1M1298.1 1730.08h38.1M1790.1 1758.37h38.1M1449.4 1772.52h38.1M2055.0 1772.52h38.1M2547.0 1772.52h38.1M1373.8 1786.66h38.1M3039.0 1786.66h38.1M2092.8 1814.95h38.1M1260.2 1843.24h38.1M2130.7 1843.24h38.1M2357.8 1843.24h38.1M2092.8 1857.39h38.1M2168.5 1871.54h38.1M3455.3 1871.54h38.1M730.4 1885.68h38.1M2698.4 1899.83h38.1M2206.4 1928.12h38.1M1790.1 1942.26h38.1M2357.8 1942.26h38.1M2130.7 1956.41h38.1M3228.2 1956.41h38.1M2130.7 1970.55h38.1M389.8 1984.70h38.1M2055.0 1998.84h38.1M2130.7 2041.28h38.1M2244.2 2041.28h38.1M2055.0 2069.57h38.1M2092.8 2069.57h38.1M2130.7 2069.57h38.1M1298.1 2083.71h38.1M2055.0 2083.71h38.1M2092.8 2083.71h38.1M2130.7 2083.71h38.1M2206.4 2083.71h38.1M3493.1 2083.71h38.1M2092.8 2097.86h38.1M3379.6 2097.86h38.1M1752.2 2112.01h38.1M2130.7 2112.01h38.1M2887.6 2126.15h38.1M3001.1 2126.15h38.1M1071.0 2154.44h38.1M1714.4 2168.59h38.1M2055.0 2168.59h38.1M2206.4 2182.73h38.1M2092.8 2196.88h38.1M2244.2 2196.88h38.1M2168.5 2211.02h38.1M2357.8 2211.02h38.1M2925.4 2211.02h38.1M1373.8 2239.31h38.1M2055.0 2239.31h38.1M2811.9 2239.31h38.1M3455.3 2239.31h38.1M1827.9 2253.46h38.1M2130.7 2253.46h38.1M2168.5 2253.46h38.1M2244.2 2253.46h38.1M1903.6 2267.60h38.1M2017.1 2267.60h38.1M2092.8 2267.60h38.1M2168.5 2267.60h38.1M3795.9 2267.60h38.1M2055.0 2281.75h38.1M2168.5 2281.75h38.1M2092.8 2295.89h38.1M2168.5 2295.89h38.1M3152.5 2295.89h38.1M2092.8 2310.04h38.1M2622.7 2310.04h38.1M1071.0 2324.19h38.1M2092.8 2324.19h38.1M2130.7 2324.19h38.1M2206.4 2324.19h38.1M2282.1 2324.19h38.1M2017.1 2338.33h38.1M2244.2 2352.48h38.1M2471.3 2352.48h38.1M2282.1 2366.62h38.1M2357.8 2409.06h38.1M3795.9 2409.06h38.1M1979.3 2423.20h38.1M2357.8 2423.20h38.1M2395.6 2423.20h38.1M3531.0 2437.35h38.1M1033.1 2465.64h38.1M1941.4 2479.78h38.1M2282.1 2479.78h38.1M2622.7 2493.93h38.1M3001.1 2522.22h38.1M3228.2 2522.22h38.1M2130.7 2550.51h38.1M2168.5 2550.51h38.1M2282.1 2550.51h38.1M1335.9 2564.66h38.1M2130.7 2564.66h38.1M2736.2 2564.66h38.1M2206.4 2592.95h38.1"/><path fill="none" stroke="#f0f921" stroke-width="14.45" d="M730.4 980.38h38.1M843.9 1008.67h38.1M1865.8 1008.67h38.1M3001.1 1093.54h38.1M692.5 1235.00h38.1M1600.8 1249.14h38.1M2849.8 1263.29h38.1M2017.1 1277.43h38.1M3001.1 1277.43h38.1M2584.8 1362.30h38.1M2698.4 1362.30h38.1M1033.1 1503.76h38.1M3758.1 1602.77h38.1M1865.8 1616.92h38.1M1941.4 1616.92h38.1M1487.3 1659.36h38.1M3493.1 1857.39h38.1M2092.8 1885.68h38.1M1903.6 1913.97h38.1M2092.8 1913.97h38.1M1903.6 1970.55h38.1M2017.1 1970.55h38.1M3190.4 1970.55h38.1M1865.8 1998.84h38.1M2092.8 1998.84h38.1M2017.1 2012.99h38.1M2055.0 2012.99h38.1M2092.8 2012.99h38.1M2168.5 2012.99h38.1M2130.7 2027.13h38.1M2168.5 2041.28h38.1M2206.4 2069.57h38.1M2319.9 2069.57h38.1M1865.8 2097.86h38.1M2017.1 2097.86h38.1M2055.0 2097.86h38.1M2168.5 2097.86h38.1M2055.0 2112.01h38.1M2092.8 2112.01h38.1M2319.9 2112.01h38.1M1222.4 2126.15h38.1M2092.8 2126.15h38.1M2168.5 2126.15h38.1M1979.3 2140.30h38.1M2168.5 2154.44h38.1M2206.4 2168.59h38.1M2055.0 2182.73h38.1M2092.8 2182.73h38.1M2168.5 2182.73h38.1M2130.7 2196.88h38.1M2282.1 2196.88h38.1M2319.9 2196.88h38.1M3871.6 2196.88h38.1M2055.0 2211.02h38.1M2319.9 2211.02h38.1M2130.7 2225.17h38.1M2168.5 2239.31h38.1M2092.8 2253.46h38.1M2206.4 2253.46h38.1M2130.7 2267.60h38.1M2206.4 2267.60h38.1M3455.3 2267.60h38.1M2130.7 2281.75h38.1M2206.4 2281.75h38.1M1790.1 2295.89h38.1M2130.7 2295.89h38.1M2130.7 2310.04h38.1M768.2 2324.19h38.1M2244.2 2324.19h38.1M2055.0 2338.33h38.1M2244.2 2338.33h38.1M2130.7 2352.48h38.1M2206.4 2352.48h38.1M2017.1 2366.62h38.1M2130.7 2380.77h38.1M2168.5 2380.77h38.1M465.5 2394.91h38.1M2168.5 2394.91h38.1M2130.7 2409.06h38.1M2206.4 2409.06h38.1M3493.1 2423.20h38.1M2244.2 2437.35h38.1M2736.2 2437.35h38.1M1146.7 2451.49h38.1M2395.6 2451.49h38.1M2168.5 2465.64h38.1M2395.6 2465.64h38.1M1865.8 2479.78h38.1M2849.8 2479.78h38.1M1449.4 2508.07h38.1M2092.8 2508.07h38.1M2130.7 2522.22h38.1M2471.3 2522.22h38.1M2395.6 2550.51h38.1M1487.3 2592.95h38.1"/><defs><linearGradient id="gt" x1="0" y1="0" x2="0" y2="1"><stop offset="0" stop-color="#9b9b9b" stop-opacity="1"/><stop offset="1" stop-color="#9b9b9b" stop-opacity="0"/></linearGradient><linearGradient id="gb" x1="0" y1="0" x2="0" y2="1"><stop offset="0" stop-color="#9b9b9b" stop-opacity="0"/><stop offset="1" stop-color="#9b9b9b" stop-opacity="1"/></linearGradient></defs><rect x="414" y="969.5" width="3472" height="9.5" fill="url(#gt)"/><rect x="414" y="2592.5" width="3472" height="8" fill="url(#gb)"/><rect x="414" y="2600.3" width="3472" height="60" fill="#9b9b9b"/></g><g clip-path="url(#ct)"><path fill="none" stroke="#000" stroke-width="7.8" stroke-linejoin="round" d="M409.0 710.2H423.0V691.3H460.9V631.7H498.9V680.3H536.8V608.9H574.7V669.1H612.7V767.2H650.6V689.2H688.5V577.5H726.5V608.9H764.4V639.0H802.4V602.9H840.3V582.8H878.2V696.0H916.2V685.6H954.1V650.8H992.0V687.4H1030.0V743.6H1067.9V607.6H1105.8V689.2H1143.8V663.9H1181.7V662.5H1219.6V710.9H1257.6V608.4H1295.5V687.4H1333.4V608.9H1371.4V623.3H1409.3V608.4H1447.2V673.7H1485.2V588.8H1523.1V583.6H1561.1V645.1H1599.0V569.4H1636.9V636.0H1674.9V614.8H1712.8V551.3H1750.7V430.8H1788.7V416.5H1826.6V510.4H1864.5V517.4H1902.5V478.6H1940.4V587.6H1978.3V421.1H2016.3V421.0H2054.2V153.2H2092.1V105.2H2130.1V119.4H2168.0V245.9H2205.9V245.2H2243.9V292.1H2281.8V304.1H2319.8V312.0H2357.7V393.5H2395.6V412.2H2433.6V422.7H2471.5V523.0H2509.4V538.7H2547.4V553.8H2585.3V602.1H2623.2V618.6H2661.2V576.2H2699.1V536.4H2737.0V563.9H2775.0V644.8H2812.9V656.0H2850.8V706.5H2888.8V632.5H2926.7V655.2H2964.6V628.0H3002.6V645.5H3040.5V718.3H3078.5V666.0H3116.4V768.9H3154.3V679.5H3192.3V554.0H3230.2V592.4H3268.1V673.5H3306.1V691.3H3344.0V630.6H3381.9V688.2H3419.9V704.9H3457.8V635.1H3495.7V688.7H3533.7V666.5H3571.6V630.5H3609.5V638.3H3647.5V630.5H3685.4V524.4H3723.3V613.4H3761.3V659.7H3799.2V658.4H3837.2V620.3H3875.1V593.6H3891.0"/><path fill="none" stroke="#ff2a00" stroke-width="6.2" stroke-linejoin="round" d="M409.0 606.3H423.0V605.5H460.9V571.8H498.9V588.0H536.8V628.5H574.7V506.1H612.7V623.3H650.6V637.7H688.5V646.3H726.5V542.2H764.4V607.6H802.4V574.9H840.3V572.8H878.2V635.1H916.2V612.3H954.1V547.4H992.0V590.1H1030.0V581.4H1067.9V580.1H1105.8V600.5H1143.8V484.6H1181.7V643.7H1219.6V645.5H1257.6V618.6H1295.5V550.0H1333.4V605.5H1371.4V500.3H1409.3V594.5H1447.2V614.5H1485.2V544.5H1523.1V597.6H1561.1V622.4H1599.0V650.5H1636.9V619.4H1674.9V590.0H1712.8V622.4H1750.7V431.7H1788.7V511.3H1826.6V512.5H1864.5V487.1H1902.5V514.3H1940.4V508.9H1978.3V465.0H2016.3V365.0H2054.2V337.5H2092.1V279.0H2130.1V117.5H2168.0V140.1H2205.9V300.7H2243.9V340.2H2281.8V394.6H2319.8V276.0H2357.7V462.9H2395.6V383.3H2433.6V447.1H2471.5V434.8H2509.4V579.3H2547.4V582.2H2585.3V508.2H2623.2V595.0H2661.2V529.6H2699.1V576.7H2737.0V609.4H2775.0V585.4H2812.9V499.0H2850.8V614.9H2888.8V599.2H2926.7V620.2H2964.6V580.9H3002.6V594.0H3040.5V639.0H3078.5V552.1H3116.4V591.6H3154.3V551.4H3192.3V568.4H3230.2V646.8H3268.1V647.4H3306.1V637.7H3344.0V499.8H3381.9V635.9H3419.9V586.7H3457.8V623.8H3495.7V622.8H3533.7V593.7H3571.6V616.6H3609.5V545.7H3647.5V620.3H3685.4V629.2H3723.3V633.0H3761.3V606.3H3799.2V461.4H3837.2V592.3H3875.1V645.7H3891.0"/></g><path stroke="#000" stroke-width="8" d="M414.0 70.0v58M414.0 846.0v-58M414.0 846.0v58M414.0 2656.6v-58M992.7 70.0v58M992.7 846.0v-58M992.7 846.0v58M992.7 2656.6v-58M1571.3 70.0v58M1571.3 846.0v-58M1571.3 846.0v58M1571.3 2656.6v-58M2150.0 70.0v58M2150.0 846.0v-58M2150.0 846.0v58M2150.0 2656.6v-58M2728.7 70.0v58M2728.7 846.0v-58M2728.7 846.0v58M2728.7 2656.6v-58M3307.3 70.0v58M3307.3 846.0v-58M3307.3 846.0v58M3307.3 2656.6v-58M3886.0 70.0v58M3886.0 846.0v-58M3886.0 846.0v58M3886.0 2656.6v-58M414.0 2430.8h58M3886.0 2430.8h-58M414.0 2204.4h58M3886.0 2204.4h-58M414.0 1978.0h58M3886.0 1978.0h-58M414.0 1751.6h58M3886.0 1751.6h-58M414.0 1525.2h58M3886.0 1525.2h-58M414.0 1298.8h58M3886.0 1298.8h-58M414.0 1072.4h58M3886.0 1072.4h-58M414.0 846.0h58M3886.0 846.0h-58"/><path stroke="#000" stroke-width="4.8" d="M529.7 70.0v34M529.7 846.0v-34M529.7 846.0v34M529.7 2656.6v-34M645.5 70.0v34M645.5 846.0v-34M645.5 846.0v34M645.5 2656.6v-34M761.2 70.0v34M761.2 846.0v-34M761.2 846.0v34M761.2 2656.6v-34M876.9 70.0v34M876.9 846.0v-34M876.9 846.0v34M876.9 2656.6v-34M1108.4 70.0v34M1108.4 846.0v-34M1108.4 846.0v34M1108.4 2656.6v-34M1224.1 70.0v34M1224.1 846.0v-34M1224.1 846.0v34M1224.1 2656.6v-34M1339.9 70.0v34M1339.9 846.0v-34M1339.9 846.0v34M1339.9 2656.6v-34M1455.6 70.0v34M1455.6 846.0v-34M1455.6 846.0v34M1455.6 2656.6v-34M1687.1 70.0v34M1687.1 846.0v-34M1687.1 846.0v34M1687.1 2656.6v-34M1802.8 70.0v34M1802.8 846.0v-34M1802.8 846.0v34M1802.8 2656.6v-34M1918.5 70.0v34M1918.5 846.0v-34M1918.5 846.0v34M1918.5 2656.6v-34M2034.3 70.0v34M2034.3 846.0v-34M2034.3 846.0v34M2034.3 2656.6v-34M2265.7 70.0v34M2265.7 846.0v-34M2265.7 846.0v34M2265.7 2656.6v-34M2381.5 70.0v34M2381.5 846.0v-34M2381.5 846.0v34M2381.5 2656.6v-34M2497.2 70.0v34M2497.2 846.0v-34M2497.2 846.0v34M2497.2 2656.6v-34M2612.9 70.0v34M2612.9 846.0v-34M2612.9 846.0v34M2612.9 2656.6v-34M2844.4 70.0v34M2844.4 846.0v-34M2844.4 846.0v34M2844.4 2656.6v-34M2960.1 70.0v34M2960.1 846.0v-34M2960.1 846.0v34M2960.1 2656.6v-34M3075.9 70.0v34M3075.9 846.0v-34M3075.9 846.0v34M3075.9 2656.6v-34M3191.6 70.0v34M3191.6 846.0v-34M3191.6 846.0v34M3191.6 2656.6v-34M3423.1 70.0v34M3423.1 846.0v-34M3423.1 846.0v34M3423.1 2656.6v-34M3538.8 70.0v34M3538.8 846.0v-34M3538.8 846.0v34M3538.8 2656.6v-34M3654.5 70.0v34M3654.5 846.0v-34M3654.5 846.0v34M3654.5 2656.6v-34M3770.3 70.0v34M3770.3 846.0v-34M3770.3 846.0v34M3770.3 2656.6v-34M414.0 2611.9h34M3886.0 2611.9h-34M414.0 2566.6h34M3886.0 2566.6h-34M414.0 2521.4h34M3886.0 2521.4h-34M414.0 2476.1h34M3886.0 2476.1h-34M414.0 2385.5h34M3886.0 2385.5h-34M414.0 2340.2h34M3886.0 2340.2h-34M414.0 2295.0h34M3886.0 2295.0h-34M414.0 2249.7h34M3886.0 2249.7h-34M414.0 2159.1h34M3886.0 2159.1h-34M414.0 2113.8h34M3886.0 2113.8h-34M414.0 2068.6h34M3886.0 2068.6h-34M414.0 2023.3h34M3886.0 2023.3h-34M414.0 1932.7h34M3886.0 1932.7h-34M414.0 1887.4h34M3886.0 1887.4h-34M414.0 1842.2h34M3886.0 1842.2h-34M414.0 1796.9h34M3886.0 1796.9h-34M414.0 1706.3h34M3886.0 1706.3h-34M414.0 1661.0h34M3886.0 1661.0h-34M414.0 1615.8h34M3886.0 1615.8h-34M414.0 1570.5h34M3886.0 1570.5h-34M414.0 1479.9h34M3886.0 1479.9h-34M414.0 1434.6h34M3886.0 1434.6h-34M414.0 1389.4h34M3886.0 1389.4h-34M414.0 1344.1h34M3886.0 1344.1h-34M414.0 1253.5h34M3886.0 1253.5h-34M414.0 1208.2h34M3886.0 1208.2h-34M414.0 1163.0h34M3886.0 1163.0h-34M414.0 1117.7h34M3886.0 1117.7h-34M414.0 1027.1h34M3886.0 1027.1h-34M414.0 981.8h34M3886.0 981.8h-34M414.0 936.6h34M3886.0 936.6h-34M414.0 891.3h34M3886.0 891.3h-34"/><rect x="414.0" y="70.0" width="3472.0" height="776.0" fill="none" stroke="#000" stroke-width="8"/><rect x="414.0" y="846.0" width="3472.0" height="1810.6" fill="none" stroke="#000" stroke-width="8"/><text transform="translate(414.0 2768.7) scale(0.875 1)" font-family="Liberation Mono" font-size="110.6" text-anchor="middle">−15</text><text transform="translate(992.7 2768.7) scale(0.875 1)" font-family="Liberation Mono" font-size="110.6" text-anchor="middle">−10</text><text transform="translate(1571.3 2768.7) scale(0.875 1)" font-family="Liberation Mono" font-size="110.6" text-anchor="middle">−5</text><text transform="translate(2150.0 2768.7) scale(0.875 1)" font-family="Liberation Mono" font-size="110.6" text-anchor="middle">0</text><text transform="translate(2728.7 2768.7) scale(0.875 1)" font-family="Liberation Mono" font-size="110.6" text-anchor="middle">5</text><text transform="translate(3307.3 2768.7) scale(0.875 1)" font-family="Liberation Mono" font-size="110.6" text-anchor="middle">10</text><text transform="translate(3886.0 2768.7) scale(0.875 1)" font-family="Liberation Mono" font-size="110.6" text-anchor="middle">15</text><text transform="translate(378.5 2469.5) scale(0.875 1)" font-family="Liberation Mono" font-size="110.6" text-anchor="end">575</text><text transform="translate(378.5 2243.1) scale(0.875 1)" font-family="Liberation Mono" font-size="110.6" text-anchor="end">600</text><text transform="translate(378.5 2016.7) scale(0.875 1)" font-family="Liberation Mono" font-size="110.6" text-anchor="end">625</text><text transform="translate(378.5 1790.3) scale(0.875 1)" font-family="Liberation Mono" font-size="110.6" text-anchor="end">650</text><text transform="translate(378.5 1563.9) scale(0.875 1)" font-family="Liberation Mono" font-size="110.6" text-anchor="end">675</text><text transform="translate(378.5 1337.5) scale(0.875 1)" font-family="Liberation Mono" font-size="110.6" text-anchor="end">700</text><text transform="translate(378.5 1111.1) scale(0.875 1)" font-family="Liberation Mono" font-size="110.6" text-anchor="end">725</text><text transform="translate(378.5 884.7) scale(0.875 1)" font-family="Liberation Mono" font-size="110.6" text-anchor="end">750</text><text transform="translate(2148.7 2901.5) scale(0.893 1)" font-family="Liberation Mono" font-size="109.5" text-anchor="middle">Time / ms</text><text transform="translate(144 1745.4) rotate(-90) scale(0.907 1)" font-family="Liberation Mono" font-size="110" text-anchor="middle">Freq / MHz</text><text transform="translate(363.8 466.2) rotate(-90) scale(0.908 1)" font-family="Liberation Mono" font-size="108.8" text-anchor="middle">I,L</text><text transform="translate(448.7 221.1) scale(0.953 1)" font-family="Liberation Sans" font-size="121.7">B85</text></svg></body></html>
